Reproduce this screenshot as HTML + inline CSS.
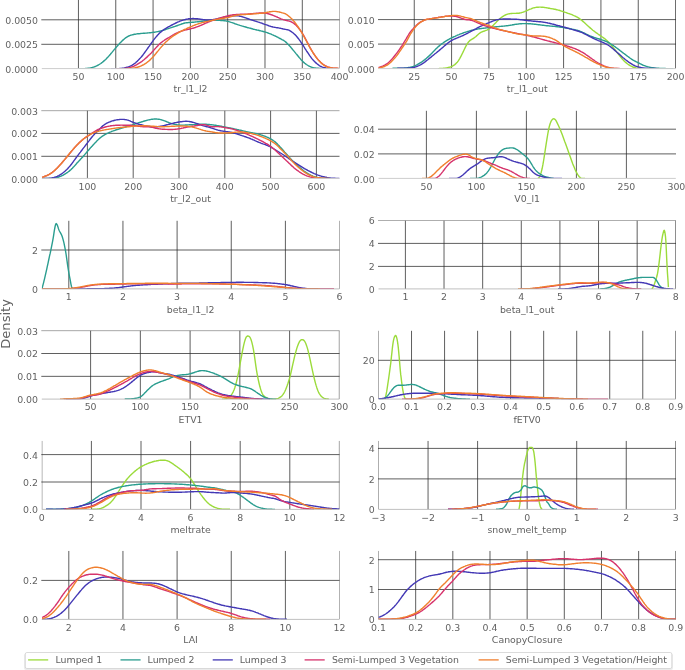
<!DOCTYPE html>
<html><head><meta charset="utf-8"><title>Density</title>
<style>html,body{margin:0;padding:0;background:#fff}svg{display:block}</style></head>
<body>
<svg width="685" height="670" viewBox="0 0 685 670" font-family='"DejaVu Sans","Liberation Sans",sans-serif'>
<rect width="685" height="670" fill="#fff"/>
<clipPath id="c0"><rect x="41.80" y="0.00" width="297.70" height="68.80"/></clipPath>
<clipPath id="h0"><rect x="41.30" y="0.00" width="298.20" height="68.80"/></clipPath>
<g clip-path="url(#c0)">
<line x1="78.45" y1="0.00" x2="78.45" y2="68.60" stroke="#2a2a2a" stroke-width="0.75"/>
<line x1="115.76" y1="0.00" x2="115.76" y2="68.60" stroke="#2a2a2a" stroke-width="0.75"/>
<line x1="153.07" y1="0.00" x2="153.07" y2="68.60" stroke="#2a2a2a" stroke-width="0.75"/>
<line x1="190.38" y1="0.00" x2="190.38" y2="68.60" stroke="#2a2a2a" stroke-width="0.75"/>
<line x1="227.68" y1="0.00" x2="227.68" y2="68.60" stroke="#2a2a2a" stroke-width="0.75"/>
<line x1="264.99" y1="0.00" x2="264.99" y2="68.60" stroke="#2a2a2a" stroke-width="0.75"/>
<line x1="302.30" y1="0.00" x2="302.30" y2="68.60" stroke="#2a2a2a" stroke-width="0.75"/>
<line x1="339.61" y1="0.00" x2="339.61" y2="68.60" stroke="#2a2a2a" stroke-width="0.75"/>
</g>
<g clip-path="url(#h0)">
<line x1="40.80" y1="19.80" x2="340.30" y2="19.80" stroke="#2a2a2a" stroke-width="0.75"/>
<line x1="40.80" y1="44.30" x2="340.30" y2="44.30" stroke="#2a2a2a" stroke-width="0.75"/>
</g>
<g clip-path="url(#c0)" fill="none" stroke-width="1.4" stroke-linejoin="round" stroke-linecap="butt">
<path d="M78.4,68.6 L79.2,68.6 L80.0,68.6 L80.8,68.6 L81.6,68.6 L82.4,68.6 L83.2,68.6 L84.0,68.6 L84.8,68.6 L85.6,68.5 L86.4,68.5 L87.2,68.4 L88.0,68.3 L88.8,68.2 L89.6,68.1 L90.4,67.9 L91.2,67.8 L92.0,67.6 L92.8,67.3 L93.6,67.1 L94.4,66.8 L95.2,66.5 L96.0,66.2 L96.8,65.8 L97.6,65.4 L98.4,65.0 L99.2,64.5 L100.0,64.0 L100.8,63.5 L101.6,62.9 L102.4,62.3 L103.2,61.6 L104.0,60.9 L104.8,60.2 L105.6,59.5 L106.4,58.7 L107.2,57.8 L108.0,57.0 L108.8,56.1 L109.6,55.2 L110.4,54.3 L111.2,53.3 L112.0,52.4 L112.8,51.4 L113.6,50.4 L114.4,49.4 L115.2,48.5 L116.0,47.5 L116.8,46.6 L117.6,45.7 L118.4,44.8 L119.2,43.9 L120.0,43.0 L120.8,42.2 L121.6,41.4 L122.4,40.6 L123.2,39.9 L124.0,39.2 L124.8,38.5 L125.6,37.9 L126.4,37.4 L127.2,36.9 L128.0,36.4 L128.8,36.0 L129.6,35.6 L130.4,35.3 L131.2,35.1 L132.0,34.9 L132.8,34.7 L133.6,34.5 L134.4,34.3 L135.2,34.2 L136.0,34.1 L136.8,33.9 L137.6,33.8 L138.4,33.7 L139.2,33.7 L140.0,33.6 L140.8,33.5 L141.6,33.4 L142.4,33.4 L143.2,33.3 L144.0,33.2 L144.8,33.2 L145.6,33.1 L146.4,33.1 L147.2,33.0 L148.0,32.9 L148.8,32.9 L149.6,32.8 L150.4,32.7 L151.2,32.6 L152.0,32.5 L152.8,32.4 L153.6,32.3 L154.4,32.2 L155.2,32.1 L156.0,31.9 L156.8,31.8 L157.6,31.6 L158.4,31.5 L159.2,31.3 L160.0,31.1 L160.8,30.9 L161.6,30.7 L162.4,30.5 L163.2,30.2 L164.0,30.0 L164.8,29.7 L165.6,29.5 L166.4,29.2 L167.2,28.9 L168.0,28.7 L168.8,28.4 L169.6,28.1 L170.4,27.9 L171.2,27.6 L172.0,27.3 L172.8,27.1 L173.6,26.8 L174.4,26.6 L175.2,26.3 L176.0,26.0 L176.8,25.8 L177.6,25.5 L178.4,25.2 L179.2,24.9 L180.0,24.6 L180.8,24.3 L181.6,24.0 L182.4,23.7 L183.2,23.5 L184.0,23.2 L184.8,23.0 L185.6,22.9 L186.4,22.8 L187.2,22.7 L188.0,22.6 L188.8,22.5 L189.6,22.5 L190.4,22.4 L191.2,22.4 L192.0,22.3 L192.8,22.3 L193.6,22.2 L194.4,22.1 L195.2,22.0 L196.0,21.9 L196.8,21.9 L197.6,21.8 L198.4,21.7 L199.2,21.6 L200.0,21.5 L200.8,21.4 L201.6,21.3 L202.4,21.2 L203.2,21.1 L204.0,21.0 L204.8,21.0 L205.6,20.9 L206.4,20.8 L207.2,20.7 L208.0,20.7 L208.8,20.6 L209.6,20.6 L210.4,20.5 L211.2,20.5 L212.0,20.4 L212.8,20.4 L213.6,20.4 L214.4,20.4 L215.2,20.4 L216.0,20.4 L216.8,20.4 L217.6,20.4 L218.4,20.4 L219.2,20.4 L220.0,20.4 L220.8,20.5 L221.6,20.5 L222.4,20.6 L223.2,20.6 L224.0,20.7 L224.8,20.8 L225.6,20.9 L226.4,21.1 L227.2,21.2 L228.0,21.4 L228.8,21.6 L229.6,21.9 L230.4,22.1 L231.2,22.4 L232.0,22.6 L232.8,22.9 L233.6,23.2 L234.4,23.5 L235.2,23.8 L236.0,24.1 L236.8,24.3 L237.6,24.6 L238.4,24.9 L239.2,25.1 L240.0,25.4 L240.8,25.6 L241.6,25.9 L242.4,26.1 L243.2,26.3 L244.0,26.6 L244.8,26.8 L245.6,27.0 L246.4,27.2 L247.2,27.5 L248.0,27.7 L248.8,27.9 L249.6,28.1 L250.4,28.3 L251.2,28.5 L252.0,28.7 L252.8,29.0 L253.6,29.2 L254.4,29.4 L255.2,29.6 L256.0,29.8 L256.8,30.0 L257.6,30.1 L258.4,30.3 L259.2,30.5 L260.0,30.7 L260.8,30.9 L261.6,31.1 L262.4,31.3 L263.2,31.5 L264.0,31.7 L264.8,31.9 L265.6,32.2 L266.4,32.4 L267.2,32.7 L268.0,33.0 L268.8,33.3 L269.6,33.6 L270.4,33.9 L271.2,34.2 L272.0,34.6 L272.8,34.9 L273.6,35.3 L274.4,35.7 L275.2,36.0 L276.0,36.4 L276.8,36.8 L277.6,37.2 L278.4,37.7 L279.2,38.1 L280.0,38.5 L280.8,38.9 L281.6,39.3 L282.4,39.8 L283.2,40.2 L284.0,40.7 L284.8,41.3 L285.6,41.9 L286.4,42.6 L287.2,43.4 L288.0,44.2 L288.8,45.1 L289.6,45.9 L290.4,46.8 L291.2,47.8 L292.0,48.7 L292.8,49.7 L293.6,50.6 L294.4,51.6 L295.2,52.6 L296.0,53.6 L296.8,54.5 L297.6,55.5 L298.4,56.5 L299.2,57.5 L300.0,58.4 L300.8,59.4 L301.6,60.2 L302.4,61.1 L303.2,61.9 L304.0,62.6 L304.8,63.3 L305.6,63.9 L306.4,64.5 L307.2,65.0 L308.0,65.5 L308.8,66.0 L309.6,66.4 L310.4,66.7 L311.2,67.1 L312.0,67.3 L312.8,67.6 L313.6,67.8 L314.4,67.9 L315.2,68.0 L316.0,68.1 L316.8,68.2 L317.6,68.3 L318.4,68.3 L319.2,68.4 L320.0,68.4 L320.8,68.4" stroke="#2a9d8f"/>
<path d="M111.0,68.6 L111.8,68.6 L112.6,68.6 L113.4,68.6 L114.2,68.6 L115.0,68.6 L115.8,68.6 L116.6,68.6 L117.4,68.6 L118.2,68.6 L119.0,68.6 L119.8,68.5 L120.6,68.5 L121.4,68.4 L122.2,68.3 L123.0,68.2 L123.8,68.1 L124.6,67.9 L125.4,67.7 L126.2,67.5 L127.0,67.3 L127.8,67.1 L128.6,66.8 L129.4,66.5 L130.2,66.2 L131.0,65.8 L131.8,65.4 L132.6,64.9 L133.4,64.4 L134.2,63.8 L135.0,63.2 L135.8,62.6 L136.6,61.8 L137.4,61.1 L138.2,60.3 L139.0,59.4 L139.8,58.6 L140.7,57.6 L141.5,56.7 L142.3,55.7 L143.1,54.7 L143.9,53.6 L144.7,52.5 L145.5,51.4 L146.3,50.3 L147.1,49.2 L147.9,48.0 L148.7,46.9 L149.5,45.8 L150.3,44.6 L151.1,43.5 L151.9,42.4 L152.7,41.3 L153.5,40.2 L154.3,39.1 L155.1,38.1 L155.9,37.1 L156.7,36.2 L157.5,35.3 L158.3,34.4 L159.1,33.6 L159.9,32.8 L160.7,32.1 L161.5,31.4 L162.3,30.8 L163.1,30.2 L163.9,29.6 L164.7,29.0 L165.5,28.5 L166.3,28.1 L167.1,27.6 L167.9,27.1 L168.7,26.7 L169.5,26.3 L170.3,25.8 L171.1,25.4 L171.9,25.0 L172.7,24.6 L173.5,24.2 L174.3,23.8 L175.1,23.4 L175.9,23.0 L176.7,22.6 L177.5,22.2 L178.3,21.9 L179.1,21.6 L179.9,21.2 L180.7,20.9 L181.5,20.6 L182.3,20.4 L183.1,20.1 L183.9,19.9 L184.7,19.7 L185.5,19.5 L186.3,19.3 L187.1,19.1 L187.9,19.0 L188.7,18.8 L189.5,18.7 L190.3,18.7 L191.1,18.6 L191.9,18.6 L192.7,18.5 L193.5,18.5 L194.3,18.6 L195.1,18.6 L195.9,18.7 L196.7,18.7 L197.5,18.8 L198.4,18.9 L199.2,19.0 L200.0,19.1 L200.8,19.2 L201.6,19.4 L202.4,19.5 L203.2,19.6 L204.0,19.7 L204.8,19.8 L205.6,19.9 L206.4,19.9 L207.2,20.0 L208.0,20.0 L208.8,20.0 L209.6,20.0 L210.4,19.9 L211.2,19.9 L212.0,19.8 L212.8,19.7 L213.6,19.5 L214.4,19.4 L215.2,19.2 L216.0,19.1 L216.8,18.9 L217.6,18.7 L218.4,18.5 L219.2,18.4 L220.0,18.2 L220.8,18.0 L221.6,17.8 L222.4,17.7 L223.2,17.5 L224.0,17.3 L224.8,17.2 L225.6,17.0 L226.4,16.9 L227.2,16.8 L228.0,16.6 L228.8,16.5 L229.6,16.4 L230.4,16.3 L231.2,16.2 L232.0,16.1 L232.8,16.0 L233.6,15.9 L234.4,15.9 L235.2,15.8 L236.0,15.8 L236.8,15.8 L237.6,15.9 L238.4,15.9 L239.2,16.0 L240.0,16.2 L240.8,16.4 L241.6,16.6 L242.4,16.8 L243.2,17.1 L244.0,17.3 L244.8,17.6 L245.6,17.9 L246.4,18.2 L247.2,18.5 L248.0,18.8 L248.8,19.0 L249.6,19.3 L250.4,19.6 L251.2,19.8 L252.0,20.1 L252.8,20.3 L253.6,20.6 L254.4,20.8 L255.2,21.1 L256.1,21.3 L256.9,21.6 L257.7,21.9 L258.5,22.1 L259.3,22.4 L260.1,22.7 L260.9,22.9 L261.7,23.2 L262.5,23.5 L263.3,23.8 L264.1,24.1 L264.9,24.4 L265.7,24.6 L266.5,24.9 L267.3,25.2 L268.1,25.5 L268.9,25.8 L269.7,26.1 L270.5,26.3 L271.3,26.6 L272.1,26.8 L272.9,27.0 L273.7,27.1 L274.5,27.3 L275.3,27.4 L276.1,27.6 L276.9,27.7 L277.7,27.8 L278.5,27.9 L279.3,28.1 L280.1,28.2 L280.9,28.4 L281.7,28.6 L282.5,28.8 L283.3,29.0 L284.1,29.1 L284.9,29.3 L285.7,29.4 L286.5,29.6 L287.3,29.7 L288.1,29.9 L288.9,30.2 L289.7,30.6 L290.5,31.1 L291.3,31.6 L292.1,32.2 L292.9,32.8 L293.7,33.5 L294.5,34.2 L295.3,34.9 L296.1,35.8 L296.9,36.7 L297.7,37.7 L298.5,38.7 L299.3,39.8 L300.1,40.9 L300.9,42.1 L301.7,43.3 L302.5,44.5 L303.3,45.7 L304.1,47.0 L304.9,48.3 L305.7,49.5 L306.5,50.8 L307.3,52.0 L308.1,53.2 L308.9,54.4 L309.7,55.6 L310.5,56.7 L311.3,57.8 L312.1,58.9 L312.9,59.8 L313.8,60.7 L314.6,61.6 L315.4,62.4 L316.2,63.1 L317.0,63.8 L317.8,64.4 L318.6,65.0 L319.4,65.6 L320.2,66.1 L321.0,66.5 L321.8,66.9 L322.6,67.2 L323.4,67.5 L324.2,67.7 L325.0,67.8 L325.8,68.0 L326.6,68.1 L327.4,68.2 L328.2,68.3 L329.0,68.3 L329.8,68.4" stroke="#4338b5"/>
<path d="M116.0,68.6 L116.8,68.6 L117.6,68.6 L118.4,68.6 L119.2,68.6 L120.0,68.6 L120.8,68.6 L121.6,68.6 L122.4,68.6 L123.2,68.6 L124.0,68.6 L124.8,68.5 L125.6,68.4 L126.4,68.3 L127.2,68.2 L128.0,68.1 L128.8,67.9 L129.6,67.7 L130.4,67.5 L131.2,67.2 L132.0,66.9 L132.8,66.6 L133.6,66.3 L134.4,65.9 L135.2,65.5 L136.0,65.1 L136.8,64.7 L137.6,64.2 L138.4,63.7 L139.2,63.2 L140.0,62.7 L140.8,62.1 L141.6,61.6 L142.4,61.0 L143.2,60.3 L144.0,59.7 L144.8,59.0 L145.6,58.3 L146.4,57.6 L147.2,56.9 L148.0,56.1 L148.8,55.3 L149.7,54.5 L150.5,53.7 L151.3,52.9 L152.1,52.0 L152.9,51.2 L153.7,50.3 L154.5,49.4 L155.3,48.5 L156.1,47.6 L156.9,46.7 L157.7,45.9 L158.5,45.1 L159.3,44.3 L160.1,43.5 L160.9,42.8 L161.7,42.2 L162.5,41.6 L163.3,41.0 L164.1,40.5 L164.9,39.9 L165.7,39.4 L166.5,38.9 L167.3,38.4 L168.1,38.0 L168.9,37.5 L169.7,37.0 L170.5,36.5 L171.3,36.0 L172.1,35.5 L172.9,35.0 L173.7,34.6 L174.5,34.1 L175.3,33.7 L176.1,33.3 L176.9,32.9 L177.7,32.6 L178.5,32.2 L179.3,31.9 L180.1,31.6 L180.9,31.3 L181.7,31.0 L182.5,30.8 L183.3,30.5 L184.1,30.3 L184.9,30.1 L185.7,29.9 L186.5,29.7 L187.3,29.5 L188.1,29.3 L188.9,29.2 L189.7,29.0 L190.5,28.8 L191.3,28.6 L192.1,28.4 L192.9,28.2 L193.7,28.0 L194.5,27.7 L195.3,27.5 L196.1,27.2 L196.9,26.9 L197.7,26.6 L198.5,26.3 L199.3,26.0 L200.1,25.7 L200.9,25.3 L201.7,25.0 L202.5,24.6 L203.3,24.3 L204.1,23.9 L204.9,23.5 L205.7,23.2 L206.5,22.8 L207.3,22.5 L208.1,22.1 L208.9,21.8 L209.7,21.5 L210.5,21.2 L211.3,20.9 L212.1,20.6 L212.9,20.3 L213.7,20.0 L214.5,19.8 L215.3,19.5 L216.1,19.3 L217.0,19.0 L217.8,18.8 L218.6,18.5 L219.4,18.3 L220.2,18.0 L221.0,17.8 L221.8,17.5 L222.6,17.3 L223.4,17.0 L224.2,16.8 L225.0,16.6 L225.8,16.3 L226.6,16.1 L227.4,15.9 L228.2,15.7 L229.0,15.5 L229.8,15.4 L230.6,15.2 L231.4,15.1 L232.2,14.9 L233.0,14.8 L233.8,14.7 L234.6,14.6 L235.4,14.6 L236.2,14.5 L237.0,14.5 L237.8,14.4 L238.6,14.4 L239.4,14.4 L240.2,14.3 L241.0,14.3 L241.8,14.3 L242.6,14.3 L243.4,14.3 L244.2,14.2 L245.0,14.2 L245.8,14.2 L246.6,14.1 L247.4,14.1 L248.2,14.0 L249.0,14.0 L249.8,13.9 L250.6,13.8 L251.4,13.7 L252.2,13.7 L253.0,13.6 L253.8,13.5 L254.6,13.4 L255.4,13.4 L256.2,13.3 L257.0,13.2 L257.8,13.1 L258.6,13.1 L259.4,13.0 L260.2,13.0 L261.0,13.0 L261.8,13.0 L262.6,13.0 L263.4,13.0 L264.2,13.1 L265.0,13.2 L265.8,13.3 L266.6,13.4 L267.4,13.6 L268.2,13.8 L269.0,14.0 L269.8,14.2 L270.6,14.5 L271.4,14.8 L272.2,15.0 L273.0,15.3 L273.8,15.7 L274.6,16.0 L275.4,16.3 L276.2,16.7 L277.0,17.0 L277.8,17.4 L278.6,17.7 L279.4,18.1 L280.2,18.4 L281.0,18.8 L281.8,19.1 L282.6,19.4 L283.5,19.7 L284.3,19.9 L285.1,20.2 L285.9,20.4 L286.7,20.6 L287.5,20.7 L288.3,20.9 L289.1,21.1 L289.9,21.4 L290.7,21.7 L291.5,22.0 L292.3,22.4 L293.1,22.9 L293.9,23.4 L294.7,24.1 L295.5,24.8 L296.3,25.6 L297.1,26.4 L297.9,27.3 L298.7,28.3 L299.5,29.3 L300.3,30.3 L301.1,31.4 L301.9,32.6 L302.7,33.9 L303.5,35.2 L304.3,36.6 L305.1,38.1 L305.9,39.6 L306.7,41.1 L307.5,42.7 L308.3,44.2 L309.1,45.8 L309.9,47.3 L310.7,48.7 L311.5,50.1 L312.3,51.5 L313.1,52.8 L313.9,54.0 L314.7,55.2 L315.5,56.3 L316.3,57.4 L317.1,58.4 L317.9,59.4 L318.7,60.3 L319.5,61.1 L320.3,61.9 L321.1,62.7 L321.9,63.4 L322.7,64.0 L323.5,64.6 L324.3,65.1 L325.1,65.6 L325.9,66.0 L326.7,66.4 L327.5,66.8 L328.3,67.1 L329.1,67.3 L329.9,67.5 L330.7,67.7 L331.5,67.9 L332.3,68.0 L333.1,68.1 L333.9,68.1 L334.7,68.2 L335.5,68.3 L336.3,68.3 L337.1,68.3 L337.9,68.4 L338.7,68.4" stroke="#d6336c"/>
<path d="M122.0,68.6 L122.8,68.6 L123.6,68.6 L124.4,68.6 L125.2,68.6 L126.0,68.6 L126.8,68.6 L127.6,68.6 L128.4,68.6 L129.2,68.5 L130.0,68.5 L130.8,68.4 L131.6,68.3 L132.4,68.2 L133.2,68.1 L134.0,68.0 L134.8,67.9 L135.6,67.7 L136.4,67.5 L137.3,67.3 L138.1,67.0 L138.9,66.8 L139.7,66.5 L140.5,66.2 L141.3,65.8 L142.1,65.4 L142.9,65.0 L143.7,64.6 L144.5,64.1 L145.3,63.6 L146.1,63.1 L146.9,62.5 L147.7,61.9 L148.5,61.3 L149.3,60.6 L150.1,59.9 L150.9,59.1 L151.7,58.3 L152.5,57.5 L153.3,56.6 L154.1,55.7 L154.9,54.7 L155.7,53.8 L156.5,52.8 L157.3,51.8 L158.1,50.9 L158.9,49.9 L159.7,48.9 L160.5,47.9 L161.3,47.0 L162.1,46.1 L162.9,45.2 L163.7,44.3 L164.5,43.4 L165.3,42.6 L166.1,41.8 L167.0,41.1 L167.8,40.3 L168.6,39.6 L169.4,38.9 L170.2,38.3 L171.0,37.6 L171.8,37.0 L172.6,36.4 L173.4,35.9 L174.2,35.3 L175.0,34.8 L175.8,34.3 L176.6,33.8 L177.4,33.3 L178.2,32.9 L179.0,32.4 L179.8,32.0 L180.6,31.5 L181.4,31.1 L182.2,30.7 L183.0,30.3 L183.8,29.9 L184.6,29.5 L185.4,29.1 L186.2,28.8 L187.0,28.4 L187.8,28.0 L188.6,27.7 L189.4,27.3 L190.2,27.0 L191.0,26.6 L191.8,26.3 L192.6,25.9 L193.4,25.6 L194.2,25.3 L195.0,25.0 L195.8,24.7 L196.7,24.4 L197.5,24.1 L198.3,23.8 L199.1,23.6 L199.9,23.3 L200.7,23.1 L201.5,22.8 L202.3,22.6 L203.1,22.4 L203.9,22.2 L204.7,22.0 L205.5,21.8 L206.3,21.6 L207.1,21.4 L207.9,21.3 L208.7,21.1 L209.5,20.9 L210.3,20.7 L211.1,20.6 L211.9,20.4 L212.7,20.2 L213.5,20.1 L214.3,19.9 L215.1,19.7 L215.9,19.6 L216.7,19.4 L217.5,19.3 L218.3,19.1 L219.1,19.0 L219.9,18.8 L220.7,18.7 L221.5,18.6 L222.3,18.5 L223.1,18.3 L223.9,18.2 L224.7,18.0 L225.6,17.9 L226.4,17.7 L227.2,17.6 L228.0,17.4 L228.8,17.2 L229.6,17.0 L230.4,16.8 L231.2,16.6 L232.0,16.3 L232.8,16.1 L233.6,15.9 L234.4,15.7 L235.2,15.6 L236.0,15.4 L236.8,15.2 L237.6,15.1 L238.4,15.0 L239.2,14.9 L240.0,14.8 L240.8,14.7 L241.6,14.7 L242.4,14.6 L243.2,14.6 L244.0,14.6 L244.8,14.5 L245.6,14.5 L246.4,14.4 L247.2,14.4 L248.0,14.3 L248.8,14.3 L249.6,14.2 L250.4,14.2 L251.2,14.1 L252.0,14.0 L252.8,13.9 L253.6,13.9 L254.4,13.8 L255.3,13.7 L256.1,13.7 L256.9,13.6 L257.7,13.6 L258.5,13.5 L259.3,13.4 L260.1,13.4 L260.9,13.3 L261.7,13.2 L262.5,13.2 L263.3,13.1 L264.1,13.0 L264.9,12.8 L265.7,12.7 L266.5,12.5 L267.3,12.3 L268.1,12.1 L268.9,12.0 L269.7,11.8 L270.5,11.7 L271.3,11.6 L272.1,11.5 L272.9,11.4 L273.7,11.4 L274.5,11.4 L275.3,11.4 L276.1,11.5 L276.9,11.6 L277.7,11.7 L278.5,11.9 L279.3,12.0 L280.1,12.2 L280.9,12.4 L281.7,12.7 L282.5,12.9 L283.3,13.1 L284.1,13.3 L285.0,13.6 L285.8,14.0 L286.6,14.5 L287.4,15.1 L288.2,15.7 L289.0,16.4 L289.8,17.0 L290.6,17.8 L291.4,18.5 L292.2,19.3 L293.0,20.2 L293.8,21.1 L294.6,22.0 L295.4,23.1 L296.2,24.2 L297.0,25.3 L297.8,26.5 L298.6,27.7 L299.4,28.9 L300.2,30.1 L301.0,31.4 L301.8,32.7 L302.6,34.0 L303.4,35.5 L304.2,37.0 L305.0,38.5 L305.8,40.0 L306.6,41.5 L307.4,43.0 L308.2,44.5 L309.0,46.0 L309.8,47.4 L310.6,48.8 L311.4,50.1 L312.2,51.4 L313.0,52.7 L313.8,54.0 L314.7,55.2 L315.5,56.4 L316.3,57.5 L317.1,58.6 L317.9,59.6 L318.7,60.5 L319.5,61.3 L320.3,62.1 L321.1,62.9 L321.9,63.6 L322.7,64.3 L323.5,64.9 L324.3,65.5 L325.1,65.9 L325.9,66.4 L326.7,66.7 L327.5,67.0 L328.3,67.3 L329.1,67.5 L329.9,67.6 L330.7,67.8 L331.5,67.9 L332.3,68.0 L333.1,68.1 L333.9,68.1 L334.7,68.2 L335.5,68.3 L336.3,68.3 L337.1,68.3 L337.9,68.4 L338.7,68.4" stroke="#f07f2e"/>
</g>
<line x1="41.80" y1="68.60" x2="339.30" y2="68.60" stroke="#cdcdcd" stroke-width="1.0"/>
<text x="78.45" y="79.70" font-size="9.40" fill="#626262" text-anchor="middle">50</text>
<text x="115.76" y="79.70" font-size="9.40" fill="#626262" text-anchor="middle">100</text>
<text x="153.07" y="79.70" font-size="9.40" fill="#626262" text-anchor="middle">150</text>
<text x="190.38" y="79.70" font-size="9.40" fill="#626262" text-anchor="middle">200</text>
<text x="227.68" y="79.70" font-size="9.40" fill="#626262" text-anchor="middle">250</text>
<text x="264.99" y="79.70" font-size="9.40" fill="#626262" text-anchor="middle">300</text>
<text x="302.30" y="79.70" font-size="9.40" fill="#626262" text-anchor="middle">350</text>
<text x="339.61" y="79.70" font-size="9.40" fill="#626262" text-anchor="middle">400</text>
<text x="38.00" y="23.70" font-size="9.40" fill="#626262" text-anchor="end">0.0050</text>
<text x="38.00" y="48.20" font-size="9.40" fill="#626262" text-anchor="end">0.0025</text>
<text x="38.00" y="72.50" font-size="9.40" fill="#626262" text-anchor="end">0.0000</text>
<text x="190.55" y="92.40" font-size="9.40" fill="#626262" text-anchor="middle">tr_l1_l2</text>
<clipPath id="c1"><rect x="378.50" y="0.00" width="297.50" height="68.80"/></clipPath>
<clipPath id="h1"><rect x="378.00" y="0.00" width="298.00" height="68.80"/></clipPath>
<g clip-path="url(#c1)">
<line x1="414.25" y1="0.00" x2="414.25" y2="68.60" stroke="#2a2a2a" stroke-width="0.75"/>
<line x1="451.59" y1="0.00" x2="451.59" y2="68.60" stroke="#2a2a2a" stroke-width="0.75"/>
<line x1="488.92" y1="0.00" x2="488.92" y2="68.60" stroke="#2a2a2a" stroke-width="0.75"/>
<line x1="526.26" y1="0.00" x2="526.26" y2="68.60" stroke="#2a2a2a" stroke-width="0.75"/>
<line x1="563.59" y1="0.00" x2="563.59" y2="68.60" stroke="#2a2a2a" stroke-width="0.75"/>
<line x1="600.93" y1="0.00" x2="600.93" y2="68.60" stroke="#2a2a2a" stroke-width="0.75"/>
<line x1="638.26" y1="0.00" x2="638.26" y2="68.60" stroke="#2a2a2a" stroke-width="0.75"/>
<line x1="675.60" y1="0.00" x2="675.60" y2="68.60" stroke="#2a2a2a" stroke-width="0.75"/>
</g>
<g clip-path="url(#h1)">
<line x1="377.50" y1="19.60" x2="676.80" y2="19.60" stroke="#2a2a2a" stroke-width="0.75"/>
<line x1="377.50" y1="44.10" x2="676.80" y2="44.10" stroke="#2a2a2a" stroke-width="0.75"/>
</g>
<g clip-path="url(#c1)" fill="none" stroke-width="1.4" stroke-linejoin="round" stroke-linecap="butt">
<path d="M438.0,68.6 L438.8,68.6 L439.6,68.5 L440.4,68.5 L441.2,68.5 L442.0,68.4 L442.8,68.4 L443.6,68.3 L444.4,68.2 L445.2,68.1 L446.0,68.0 L446.8,67.9 L447.6,67.7 L448.4,67.5 L449.2,67.3 L450.0,67.1 L450.8,66.8 L451.6,66.5 L452.4,66.1 L453.2,65.7 L454.0,65.2 L454.8,64.6 L455.6,63.9 L456.4,63.1 L457.3,62.2 L458.1,61.1 L458.9,59.9 L459.7,58.6 L460.5,57.2 L461.3,55.6 L462.1,54.0 L462.9,52.4 L463.7,50.7 L464.5,49.0 L465.3,47.4 L466.1,45.8 L466.9,44.3 L467.7,43.1 L468.5,42.0 L469.3,41.1 L470.1,40.4 L470.9,39.9 L471.7,39.4 L472.5,38.9 L473.3,38.5 L474.1,37.9 L474.9,37.3 L475.7,36.7 L476.5,35.9 L477.3,35.2 L478.1,34.5 L478.9,33.8 L479.7,33.2 L480.5,32.7 L481.3,32.2 L482.1,31.8 L482.9,31.5 L483.7,31.2 L484.5,31.0 L485.3,30.7 L486.1,30.4 L486.9,30.1 L487.7,29.7 L488.5,29.3 L489.3,28.8 L490.1,28.2 L490.9,27.5 L491.7,26.8 L492.5,26.0 L493.3,25.2 L494.2,24.3 L495.0,23.5 L495.8,22.7 L496.6,21.8 L497.4,21.0 L498.2,20.2 L499.0,19.5 L499.8,18.8 L500.6,18.1 L501.4,17.5 L502.2,16.9 L503.0,16.3 L503.8,15.8 L504.6,15.4 L505.4,15.0 L506.2,14.6 L507.0,14.3 L507.8,14.1 L508.6,13.9 L509.4,13.7 L510.2,13.6 L511.0,13.5 L511.8,13.5 L512.6,13.4 L513.4,13.4 L514.2,13.4 L515.0,13.4 L515.8,13.4 L516.6,13.3 L517.4,13.3 L518.2,13.2 L519.0,13.2 L519.8,13.0 L520.6,12.9 L521.4,12.7 L522.2,12.4 L523.0,12.2 L523.8,11.9 L524.6,11.6 L525.4,11.2 L526.2,10.9 L527.0,10.5 L527.8,10.2 L528.6,9.8 L529.4,9.4 L530.2,9.1 L531.1,8.8 L531.9,8.5 L532.7,8.2 L533.5,7.9 L534.3,7.7 L535.1,7.6 L535.9,7.4 L536.7,7.3 L537.5,7.2 L538.3,7.2 L539.1,7.1 L539.9,7.1 L540.7,7.1 L541.5,7.2 L542.3,7.2 L543.1,7.3 L543.9,7.4 L544.7,7.5 L545.5,7.6 L546.3,7.7 L547.1,7.9 L547.9,8.0 L548.7,8.2 L549.5,8.3 L550.3,8.5 L551.1,8.6 L551.9,8.7 L552.7,8.9 L553.5,9.0 L554.3,9.2 L555.1,9.3 L555.9,9.5 L556.7,9.7 L557.5,9.9 L558.3,10.1 L559.1,10.3 L559.9,10.5 L560.7,10.8 L561.5,11.1 L562.3,11.3 L563.1,11.6 L563.9,11.9 L564.7,12.2 L565.5,12.4 L566.3,12.7 L567.1,13.0 L568.0,13.3 L568.8,13.6 L569.6,13.8 L570.4,14.1 L571.2,14.4 L572.0,14.7 L572.8,15.1 L573.6,15.4 L574.4,15.8 L575.2,16.1 L576.0,16.5 L576.8,17.0 L577.6,17.4 L578.4,17.9 L579.2,18.4 L580.0,19.0 L580.8,19.6 L581.6,20.2 L582.4,20.9 L583.2,21.6 L584.0,22.3 L584.8,23.0 L585.6,23.8 L586.4,24.5 L587.2,25.3 L588.0,26.0 L588.8,26.7 L589.6,27.4 L590.4,28.1 L591.2,28.8 L592.0,29.5 L592.8,30.2 L593.6,30.8 L594.4,31.4 L595.2,32.0 L596.0,32.6 L596.8,33.2 L597.6,33.7 L598.4,34.3 L599.2,34.8 L600.0,35.4 L600.8,35.9 L601.6,36.5 L602.4,37.0 L603.2,37.6 L604.0,38.2 L604.9,38.8 L605.7,39.5 L606.5,40.2 L607.3,40.9 L608.1,41.7 L608.9,42.5 L609.7,43.3 L610.5,44.2 L611.3,45.2 L612.1,46.2 L612.9,47.2 L613.7,48.2 L614.5,49.3 L615.3,50.3 L616.1,51.3 L616.9,52.4 L617.7,53.4 L618.5,54.3 L619.3,55.3 L620.1,56.3 L620.9,57.3 L621.7,58.2 L622.5,59.2 L623.3,60.1 L624.1,60.9 L624.9,61.7 L625.7,62.4 L626.5,63.1 L627.3,63.7 L628.1,64.3 L628.9,64.8 L629.7,65.3 L630.5,65.8 L631.3,66.2 L632.1,66.6 L632.9,67.0 L633.7,67.3 L634.5,67.5 L635.3,67.8 L636.1,68.0 L636.9,68.1 L637.7,68.3 L638.5,68.4 L639.3,68.4 L640.1,68.5 L640.9,68.6" stroke="#9bdb3b"/>
<path d="M392.5,68.3 L393.3,68.3 L394.1,68.3 L394.9,68.3 L395.7,68.3 L396.5,68.3 L397.3,68.3 L398.1,68.3 L398.9,68.3 L399.7,68.3 L400.5,68.3 L401.3,68.2 L402.1,68.2 L402.9,68.1 L403.7,68.1 L404.5,68.0 L405.3,67.9 L406.1,67.9 L406.9,67.8 L407.7,67.6 L408.5,67.5 L409.3,67.4 L410.1,67.3 L410.9,67.1 L411.7,66.9 L412.5,66.7 L413.3,66.5 L414.1,66.2 L414.9,65.9 L415.7,65.5 L416.5,65.0 L417.3,64.6 L418.1,64.1 L418.9,63.6 L419.7,63.2 L420.5,62.6 L421.4,62.1 L422.2,61.6 L423.0,61.0 L423.8,60.4 L424.6,59.8 L425.4,59.1 L426.2,58.5 L427.0,57.8 L427.8,57.1 L428.6,56.4 L429.4,55.6 L430.2,54.9 L431.0,54.1 L431.8,53.2 L432.6,52.4 L433.4,51.6 L434.2,50.8 L435.0,49.9 L435.8,49.1 L436.6,48.3 L437.4,47.6 L438.2,46.8 L439.0,46.1 L439.8,45.4 L440.6,44.8 L441.4,44.1 L442.2,43.5 L443.0,43.0 L443.8,42.4 L444.6,41.9 L445.4,41.4 L446.2,40.9 L447.0,40.4 L447.8,39.9 L448.6,39.5 L449.4,39.0 L450.2,38.6 L451.0,38.2 L451.8,37.8 L452.6,37.4 L453.4,37.0 L454.2,36.6 L455.0,36.3 L455.8,35.9 L456.6,35.6 L457.4,35.2 L458.2,34.9 L459.1,34.6 L459.9,34.2 L460.7,33.9 L461.5,33.6 L462.3,33.3 L463.1,33.0 L463.9,32.7 L464.7,32.4 L465.5,32.2 L466.3,31.9 L467.1,31.7 L467.9,31.4 L468.7,31.2 L469.5,30.9 L470.3,30.7 L471.1,30.5 L471.9,30.3 L472.7,30.1 L473.5,29.9 L474.3,29.7 L475.1,29.6 L475.9,29.4 L476.7,29.2 L477.5,29.1 L478.3,28.9 L479.1,28.8 L479.9,28.7 L480.7,28.6 L481.5,28.5 L482.3,28.4 L483.1,28.3 L483.9,28.2 L484.7,28.1 L485.5,28.0 L486.3,27.9 L487.1,27.8 L487.9,27.7 L488.7,27.6 L489.5,27.5 L490.3,27.4 L491.1,27.4 L491.9,27.3 L492.7,27.2 L493.5,27.1 L494.3,27.0 L495.1,26.9 L495.9,26.8 L496.7,26.7 L497.6,26.6 L498.4,26.6 L499.2,26.5 L500.0,26.4 L500.8,26.4 L501.6,26.3 L502.4,26.2 L503.2,26.1 L504.0,26.1 L504.8,26.0 L505.6,25.9 L506.4,25.8 L507.2,25.7 L508.0,25.6 L508.8,25.5 L509.6,25.4 L510.4,25.2 L511.2,25.1 L512.0,25.0 L512.8,24.8 L513.6,24.7 L514.4,24.5 L515.2,24.4 L516.0,24.3 L516.8,24.2 L517.6,24.1 L518.4,24.0 L519.2,23.9 L520.0,23.8 L520.8,23.7 L521.6,23.7 L522.4,23.6 L523.2,23.6 L524.0,23.6 L524.8,23.6 L525.6,23.6 L526.4,23.6 L527.2,23.6 L528.0,23.7 L528.8,23.7 L529.6,23.8 L530.4,23.8 L531.2,23.9 L532.0,24.0 L532.8,24.0 L533.6,24.1 L534.4,24.2 L535.3,24.3 L536.1,24.4 L536.9,24.5 L537.7,24.6 L538.5,24.7 L539.3,24.8 L540.1,24.9 L540.9,25.0 L541.7,25.1 L542.5,25.2 L543.3,25.3 L544.1,25.4 L544.9,25.5 L545.7,25.6 L546.5,25.7 L547.3,25.7 L548.1,25.8 L548.9,25.9 L549.7,26.0 L550.5,26.1 L551.3,26.1 L552.1,26.2 L552.9,26.3 L553.7,26.4 L554.5,26.4 L555.3,26.5 L556.1,26.6 L556.9,26.7 L557.7,26.8 L558.5,26.9 L559.3,27.0 L560.1,27.1 L560.9,27.2 L561.7,27.3 L562.5,27.4 L563.3,27.6 L564.1,27.7 L564.9,27.8 L565.7,28.0 L566.5,28.1 L567.3,28.2 L568.1,28.4 L568.9,28.5 L569.7,28.7 L570.5,28.9 L571.3,29.0 L572.1,29.2 L572.9,29.4 L573.8,29.5 L574.6,29.7 L575.4,29.9 L576.2,30.1 L577.0,30.3 L577.8,30.5 L578.6,30.8 L579.4,31.0 L580.2,31.3 L581.0,31.6 L581.8,31.9 L582.6,32.3 L583.4,32.6 L584.2,33.0 L585.0,33.5 L585.8,33.9 L586.6,34.3 L587.4,34.7 L588.2,35.1 L589.0,35.5 L589.8,35.8 L590.6,36.1 L591.4,36.4 L592.2,36.7 L593.0,37.0 L593.8,37.3 L594.6,37.6 L595.4,37.8 L596.2,38.1 L597.0,38.3 L597.8,38.6 L598.6,38.8 L599.4,39.0 L600.2,39.3 L601.0,39.5 L601.8,39.8 L602.6,40.1 L603.4,40.4 L604.2,40.7 L605.0,41.0 L605.8,41.3 L606.6,41.7 L607.4,42.0 L608.2,42.4 L609.0,42.9 L609.8,43.3 L610.6,43.8 L611.4,44.3 L612.3,44.8 L613.1,45.4 L613.9,46.0 L614.7,46.5 L615.5,47.1 L616.3,47.7 L617.1,48.3 L617.9,48.9 L618.7,49.5 L619.5,50.1 L620.3,50.8 L621.1,51.4 L621.9,52.0 L622.7,52.6 L623.5,53.2 L624.3,53.8 L625.1,54.4 L625.9,55.0 L626.7,55.6 L627.5,56.2 L628.3,56.8 L629.1,57.4 L629.9,58.0 L630.7,58.5 L631.5,59.1 L632.3,59.6 L633.1,60.1 L633.9,60.5 L634.7,61.0 L635.5,61.4 L636.3,61.8 L637.1,62.2 L637.9,62.6 L638.7,63.0 L639.5,63.4 L640.3,63.8 L641.1,64.2 L641.9,64.6 L642.7,65.0 L643.5,65.3 L644.3,65.6 L645.1,65.9 L645.9,66.2 L646.7,66.4 L647.5,66.7 L648.3,66.9 L649.1,67.1 L650.0,67.3 L650.8,67.4 L651.6,67.6 L652.4,67.7 L653.2,67.8 L654.0,67.9 L654.8,68.0 L655.6,68.1 L656.4,68.2 L657.2,68.2 L658.0,68.3 L658.8,68.3 L659.6,68.4 L660.4,68.4 L661.2,68.4 L662.0,68.5 L662.8,68.5 L663.6,68.5 L664.4,68.5 L665.2,68.5 L666.0,68.6 L666.8,68.6 L667.6,68.6 L668.4,68.6 L669.2,68.6 L670.0,68.6 L670.8,68.6 L671.6,68.6 L672.4,68.6 L673.2,68.6" stroke="#2a9d8f"/>
<path d="M397.3,68.3 L398.1,68.2 L398.9,68.2 L399.7,68.2 L400.5,68.2 L401.3,68.2 L402.1,68.2 L402.9,68.2 L403.7,68.2 L404.5,68.1 L405.3,68.1 L406.1,68.1 L406.9,68.1 L407.7,68.1 L408.5,68.0 L409.3,68.0 L410.1,68.0 L410.9,67.9 L411.7,67.8 L412.5,67.7 L413.3,67.6 L414.1,67.4 L414.9,67.2 L415.7,66.9 L416.5,66.6 L417.3,66.3 L418.1,65.9 L418.9,65.6 L419.7,65.2 L420.5,64.8 L421.3,64.3 L422.1,63.8 L422.9,63.3 L423.7,62.8 L424.6,62.2 L425.4,61.6 L426.2,60.9 L427.0,60.3 L427.8,59.7 L428.6,59.0 L429.4,58.4 L430.2,57.7 L431.0,57.1 L431.8,56.4 L432.6,55.8 L433.4,55.1 L434.2,54.5 L435.0,53.8 L435.8,53.2 L436.6,52.5 L437.4,51.9 L438.2,51.2 L439.0,50.6 L439.8,49.9 L440.6,49.2 L441.4,48.5 L442.2,47.9 L443.0,47.2 L443.8,46.5 L444.6,45.8 L445.4,45.1 L446.2,44.4 L447.0,43.8 L447.8,43.1 L448.6,42.5 L449.4,41.9 L450.2,41.4 L451.0,40.9 L451.8,40.4 L452.6,40.0 L453.4,39.5 L454.2,39.2 L455.0,38.8 L455.8,38.5 L456.6,38.2 L457.4,37.9 L458.2,37.5 L459.0,37.2 L459.8,36.9 L460.6,36.5 L461.4,36.2 L462.2,35.8 L463.0,35.5 L463.8,35.1 L464.6,34.7 L465.4,34.3 L466.2,33.9 L467.0,33.5 L467.8,33.1 L468.6,32.7 L469.4,32.2 L470.2,31.8 L471.0,31.4 L471.8,30.9 L472.6,30.5 L473.4,30.1 L474.2,29.6 L475.0,29.2 L475.8,28.8 L476.6,28.3 L477.4,27.9 L478.2,27.5 L479.0,27.1 L479.8,26.7 L480.6,26.3 L481.4,25.9 L482.2,25.6 L483.0,25.2 L483.8,24.8 L484.6,24.5 L485.4,24.1 L486.2,23.8 L487.0,23.4 L487.8,23.1 L488.6,22.8 L489.4,22.4 L490.2,22.1 L491.0,21.8 L491.8,21.5 L492.6,21.2 L493.4,20.9 L494.2,20.6 L495.0,20.4 L495.8,20.1 L496.6,19.9 L497.4,19.7 L498.2,19.6 L499.0,19.4 L499.8,19.3 L500.6,19.2 L501.4,19.1 L502.2,19.1 L503.0,19.0 L503.8,19.0 L504.6,19.0 L505.4,19.0 L506.2,19.0 L507.0,19.0 L507.8,19.0 L508.6,19.0 L509.4,19.0 L510.2,19.0 L511.0,19.1 L511.8,19.1 L512.6,19.1 L513.4,19.1 L514.2,19.2 L515.0,19.2 L515.8,19.2 L516.6,19.3 L517.4,19.4 L518.2,19.4 L519.0,19.5 L519.8,19.6 L520.6,19.7 L521.4,19.8 L522.2,19.9 L523.0,20.0 L523.8,20.1 L524.6,20.2 L525.4,20.3 L526.2,20.4 L527.0,20.5 L527.8,20.6 L528.6,20.7 L529.4,20.8 L530.2,20.8 L531.0,20.9 L531.8,21.0 L532.6,21.1 L533.4,21.2 L534.2,21.2 L535.0,21.3 L535.8,21.4 L536.6,21.5 L537.4,21.5 L538.2,21.6 L539.0,21.7 L539.8,21.8 L540.6,21.8 L541.4,21.9 L542.2,22.0 L543.0,22.1 L543.8,22.2 L544.6,22.4 L545.4,22.5 L546.2,22.6 L547.0,22.8 L547.8,23.0 L548.6,23.1 L549.4,23.3 L550.2,23.5 L551.0,23.7 L551.8,23.9 L552.6,24.1 L553.4,24.3 L554.2,24.5 L555.0,24.7 L555.8,25.0 L556.6,25.2 L557.4,25.4 L558.2,25.6 L559.0,25.8 L559.8,26.0 L560.6,26.2 L561.5,26.4 L562.3,26.6 L563.1,26.9 L563.9,27.1 L564.7,27.3 L565.5,27.5 L566.3,27.7 L567.1,28.0 L567.9,28.2 L568.7,28.4 L569.5,28.7 L570.3,28.9 L571.1,29.1 L571.9,29.4 L572.7,29.6 L573.5,29.8 L574.3,30.1 L575.1,30.3 L575.9,30.5 L576.7,30.8 L577.5,31.0 L578.3,31.2 L579.1,31.5 L579.9,31.8 L580.7,32.1 L581.5,32.4 L582.3,32.7 L583.1,33.1 L583.9,33.5 L584.7,33.8 L585.5,34.3 L586.3,34.7 L587.1,35.1 L587.9,35.5 L588.7,36.0 L589.5,36.4 L590.3,36.8 L591.1,37.2 L591.9,37.6 L592.7,38.0 L593.5,38.4 L594.3,38.8 L595.1,39.2 L595.9,39.5 L596.7,39.9 L597.5,40.2 L598.3,40.6 L599.1,40.9 L599.9,41.2 L600.7,41.5 L601.5,41.8 L602.3,42.2 L603.1,42.5 L603.9,42.9 L604.7,43.3 L605.5,43.7 L606.3,44.1 L607.1,44.5 L607.9,45.0 L608.7,45.5 L609.5,46.0 L610.3,46.6 L611.1,47.2 L611.9,47.9 L612.7,48.5 L613.5,49.2 L614.3,49.9 L615.1,50.6 L615.9,51.3 L616.7,52.0 L617.5,52.7 L618.3,53.4 L619.1,54.1 L619.9,54.8 L620.7,55.5 L621.5,56.2 L622.3,57.0 L623.1,57.7 L623.9,58.3 L624.7,59.0 L625.5,59.7 L626.3,60.3 L627.1,60.9 L627.9,61.5 L628.7,62.1 L629.5,62.7 L630.3,63.2 L631.1,63.7 L631.9,64.2 L632.7,64.7 L633.5,65.1 L634.3,65.5 L635.1,65.9 L635.9,66.2 L636.7,66.4 L637.5,66.7 L638.3,66.9 L639.1,67.1 L639.9,67.3 L640.7,67.5 L641.5,67.6 L642.3,67.8 L643.1,67.9 L643.9,68.0 L644.7,68.1 L645.5,68.2 L646.3,68.2 L647.1,68.3 L647.9,68.4 L648.7,68.4 L649.5,68.4 L650.3,68.5 L651.1,68.5 L651.9,68.5 L652.7,68.5 L653.5,68.5 L654.3,68.5 L655.1,68.5 L655.9,68.5 L656.7,68.6 L657.5,68.6 L658.3,68.6" stroke="#4338b5"/>
<path d="M377.9,67.8 L378.7,67.5 L379.5,67.2 L380.3,67.0 L381.1,66.7 L381.9,66.4 L382.7,66.1 L383.5,65.7 L384.3,65.3 L385.1,64.9 L385.9,64.4 L386.7,63.9 L387.5,63.3 L388.3,62.7 L389.1,62.0 L389.9,61.2 L390.7,60.4 L391.5,59.6 L392.3,58.7 L393.1,57.8 L393.9,56.8 L394.7,55.8 L395.5,54.8 L396.3,53.7 L397.1,52.7 L397.9,51.6 L398.7,50.5 L399.5,49.4 L400.3,48.2 L401.1,47.0 L401.9,45.8 L402.7,44.5 L403.5,43.2 L404.3,41.8 L405.2,40.4 L406.0,39.1 L406.8,37.7 L407.6,36.3 L408.4,35.0 L409.2,33.7 L410.0,32.5 L410.8,31.4 L411.6,30.4 L412.4,29.5 L413.2,28.7 L414.0,27.8 L414.8,27.0 L415.6,26.2 L416.4,25.3 L417.2,24.6 L418.0,23.9 L418.8,23.2 L419.6,22.7 L420.4,22.2 L421.2,21.7 L422.0,21.3 L422.8,20.8 L423.6,20.5 L424.4,20.1 L425.2,19.8 L426.0,19.6 L426.8,19.4 L427.6,19.2 L428.4,19.1 L429.2,19.0 L430.0,18.8 L430.8,18.7 L431.6,18.6 L432.4,18.4 L433.2,18.3 L434.0,18.2 L434.8,18.0 L435.6,17.9 L436.4,17.7 L437.2,17.6 L438.0,17.5 L438.8,17.3 L439.6,17.2 L440.4,17.1 L441.2,16.9 L442.0,16.8 L442.8,16.7 L443.6,16.6 L444.4,16.5 L445.2,16.3 L446.0,16.3 L446.8,16.2 L447.6,16.1 L448.4,16.1 L449.2,16.0 L450.0,16.0 L450.8,16.0 L451.6,16.0 L452.4,16.0 L453.2,16.1 L454.0,16.2 L454.8,16.3 L455.6,16.4 L456.4,16.6 L457.2,16.8 L458.0,17.0 L458.8,17.3 L459.6,17.5 L460.4,17.8 L461.2,18.2 L462.0,18.5 L462.8,18.7 L463.6,19.0 L464.4,19.3 L465.2,19.5 L466.0,19.6 L466.8,19.7 L467.6,19.8 L468.4,19.8 L469.2,19.9 L470.0,20.0 L470.8,20.2 L471.6,20.4 L472.4,20.6 L473.2,20.9 L474.0,21.2 L474.8,21.6 L475.7,21.9 L476.5,22.3 L477.3,22.7 L478.1,23.0 L478.9,23.4 L479.7,23.7 L480.5,24.0 L481.3,24.4 L482.1,24.7 L482.9,25.0 L483.7,25.3 L484.5,25.5 L485.3,25.8 L486.1,26.1 L486.9,26.3 L487.7,26.6 L488.5,26.8 L489.3,27.1 L490.1,27.3 L490.9,27.5 L491.7,27.8 L492.5,28.0 L493.3,28.2 L494.1,28.4 L494.9,28.6 L495.7,28.8 L496.5,29.0 L497.3,29.2 L498.1,29.4 L498.9,29.6 L499.7,29.8 L500.5,30.0 L501.3,30.2 L502.1,30.3 L502.9,30.5 L503.7,30.7 L504.5,30.9 L505.3,31.0 L506.1,31.2 L506.9,31.4 L507.7,31.5 L508.5,31.7 L509.3,31.9 L510.1,32.0 L510.9,32.2 L511.7,32.4 L512.5,32.5 L513.3,32.7 L514.1,32.8 L514.9,33.0 L515.7,33.2 L516.5,33.3 L517.3,33.5 L518.1,33.6 L518.9,33.8 L519.7,33.9 L520.5,34.1 L521.3,34.2 L522.1,34.4 L522.9,34.5 L523.7,34.7 L524.5,34.8 L525.3,35.0 L526.1,35.1 L526.9,35.3 L527.7,35.5 L528.5,35.7 L529.3,35.9 L530.1,36.1 L530.9,36.3 L531.7,36.5 L532.5,36.7 L533.3,36.9 L534.1,37.1 L534.9,37.3 L535.7,37.5 L536.5,37.7 L537.3,38.0 L538.1,38.2 L538.9,38.4 L539.7,38.6 L540.5,38.9 L541.3,39.1 L542.1,39.3 L542.9,39.6 L543.7,39.8 L544.5,40.0 L545.3,40.2 L546.2,40.4 L547.0,40.7 L547.8,40.9 L548.6,41.1 L549.4,41.3 L550.2,41.5 L551.0,41.7 L551.8,41.9 L552.6,42.1 L553.4,42.3 L554.2,42.5 L555.0,42.7 L555.8,42.9 L556.6,43.1 L557.4,43.3 L558.2,43.6 L559.0,43.8 L559.8,44.0 L560.6,44.2 L561.4,44.4 L562.2,44.6 L563.0,44.8 L563.8,45.0 L564.6,45.3 L565.4,45.5 L566.2,45.7 L567.0,46.0 L567.8,46.2 L568.6,46.5 L569.4,46.7 L570.2,47.0 L571.0,47.2 L571.8,47.5 L572.6,47.8 L573.4,48.1 L574.2,48.4 L575.0,48.7 L575.8,49.0 L576.6,49.4 L577.4,49.7 L578.2,50.1 L579.0,50.5 L579.8,50.9 L580.6,51.3 L581.4,51.8 L582.2,52.2 L583.0,52.7 L583.8,53.2 L584.6,53.7 L585.4,54.2 L586.2,54.8 L587.0,55.3 L587.8,55.9 L588.6,56.4 L589.4,57.0 L590.2,57.6 L591.0,58.1 L591.8,58.7 L592.6,59.3 L593.4,59.8 L594.2,60.4 L595.0,61.0 L595.8,61.5 L596.6,62.0 L597.4,62.5 L598.2,63.0 L599.0,63.5 L599.8,63.9 L600.6,64.3 L601.4,64.7 L602.2,65.1 L603.0,65.5 L603.8,65.9 L604.6,66.2 L605.4,66.5 L606.2,66.8 L607.0,67.1 L607.8,67.3 L608.6,67.5 L609.4,67.7 L610.2,67.9 L611.0,68.0 L611.8,68.1 L612.6,68.2 L613.4,68.3 L614.2,68.4 L615.0,68.4 L615.8,68.5 L616.6,68.5 L617.5,68.5 L618.3,68.5 L619.1,68.5 L619.9,68.6" stroke="#d6336c"/>
<path d="M377.9,68.3 L378.7,68.1 L379.5,67.9 L380.3,67.7 L381.1,67.5 L381.9,67.3 L382.7,67.0 L383.5,66.8 L384.3,66.5 L385.1,66.1 L385.9,65.7 L386.7,65.3 L387.5,64.8 L388.3,64.3 L389.1,63.6 L389.9,63.0 L390.8,62.2 L391.6,61.4 L392.4,60.6 L393.2,59.8 L394.0,58.9 L394.8,58.0 L395.6,57.1 L396.4,56.1 L397.2,55.1 L398.0,54.0 L398.8,52.9 L399.6,51.7 L400.4,50.6 L401.2,49.4 L402.0,48.2 L402.8,47.0 L403.6,45.8 L404.4,44.6 L405.2,43.4 L406.0,42.2 L406.8,40.8 L407.6,39.3 L408.4,37.8 L409.2,36.3 L410.0,34.9 L410.8,33.5 L411.6,32.3 L412.4,31.1 L413.2,29.9 L414.0,28.8 L414.8,27.8 L415.6,26.8 L416.4,25.9 L417.2,25.0 L418.0,24.3 L418.8,23.6 L419.6,23.0 L420.4,22.4 L421.2,21.9 L422.0,21.4 L422.8,20.9 L423.6,20.5 L424.4,20.1 L425.3,19.8 L426.1,19.5 L426.9,19.3 L427.7,19.2 L428.5,19.1 L429.3,18.9 L430.1,18.8 L430.9,18.7 L431.7,18.6 L432.5,18.5 L433.3,18.4 L434.1,18.3 L434.9,18.1 L435.7,18.0 L436.5,17.9 L437.3,17.8 L438.1,17.6 L438.9,17.5 L439.7,17.4 L440.5,17.3 L441.3,17.1 L442.1,17.0 L442.9,16.8 L443.7,16.7 L444.5,16.6 L445.3,16.4 L446.1,16.3 L446.9,16.2 L447.7,16.1 L448.5,16.0 L449.3,15.8 L450.1,15.7 L450.9,15.6 L451.7,15.6 L452.5,15.5 L453.3,15.4 L454.1,15.4 L454.9,15.4 L455.7,15.4 L456.5,15.4 L457.3,15.5 L458.1,15.6 L459.0,15.8 L459.8,15.9 L460.6,16.1 L461.4,16.4 L462.2,16.6 L463.0,16.8 L463.8,17.0 L464.6,17.3 L465.4,17.5 L466.2,17.6 L467.0,17.8 L467.8,17.9 L468.6,18.1 L469.4,18.3 L470.2,18.4 L471.0,18.7 L471.8,19.0 L472.6,19.3 L473.4,19.6 L474.2,19.9 L475.0,20.3 L475.8,20.6 L476.6,21.0 L477.4,21.3 L478.2,21.7 L479.0,22.0 L479.8,22.3 L480.6,22.6 L481.4,22.9 L482.2,23.2 L483.0,23.5 L483.8,23.8 L484.6,24.1 L485.4,24.3 L486.2,24.6 L487.0,24.9 L487.8,25.2 L488.6,25.5 L489.4,25.8 L490.2,26.1 L491.0,26.4 L491.8,26.7 L492.7,27.0 L493.5,27.3 L494.3,27.6 L495.1,28.0 L495.9,28.3 L496.7,28.5 L497.5,28.8 L498.3,29.1 L499.1,29.3 L499.9,29.6 L500.7,29.8 L501.5,30.0 L502.3,30.2 L503.1,30.4 L503.9,30.6 L504.7,30.8 L505.5,31.0 L506.3,31.2 L507.1,31.4 L507.9,31.6 L508.7,31.8 L509.5,32.0 L510.3,32.2 L511.1,32.4 L511.9,32.6 L512.7,32.8 L513.5,33.0 L514.3,33.2 L515.1,33.4 L515.9,33.6 L516.7,33.8 L517.5,33.9 L518.3,34.1 L519.1,34.2 L519.9,34.3 L520.7,34.4 L521.5,34.5 L522.3,34.5 L523.1,34.6 L523.9,34.7 L524.7,34.8 L525.5,34.9 L526.4,35.0 L527.2,35.1 L528.0,35.2 L528.8,35.4 L529.6,35.5 L530.4,35.6 L531.2,35.7 L532.0,35.8 L532.8,35.9 L533.6,36.0 L534.4,36.0 L535.2,36.0 L536.0,36.0 L536.8,36.0 L537.6,36.0 L538.4,36.0 L539.2,36.0 L540.0,36.0 L540.8,36.0 L541.6,36.1 L542.4,36.1 L543.2,36.2 L544.0,36.3 L544.8,36.4 L545.6,36.5 L546.4,36.7 L547.2,36.9 L548.0,37.1 L548.8,37.3 L549.6,37.5 L550.4,37.8 L551.2,38.1 L552.0,38.4 L552.8,38.8 L553.6,39.1 L554.4,39.5 L555.2,39.9 L556.0,40.4 L556.8,40.9 L557.6,41.4 L558.4,41.9 L559.2,42.5 L560.0,43.1 L560.9,43.6 L561.7,44.2 L562.5,44.8 L563.3,45.4 L564.1,45.9 L564.9,46.4 L565.7,46.9 L566.5,47.3 L567.3,47.7 L568.1,48.1 L568.9,48.5 L569.7,48.9 L570.5,49.3 L571.3,49.7 L572.1,50.0 L572.9,50.4 L573.7,50.8 L574.5,51.2 L575.3,51.6 L576.1,52.0 L576.9,52.4 L577.7,52.8 L578.5,53.2 L579.3,53.6 L580.1,54.1 L580.9,54.5 L581.7,55.0 L582.5,55.4 L583.3,55.9 L584.1,56.3 L584.9,56.8 L585.7,57.3 L586.5,57.7 L587.3,58.2 L588.1,58.7 L588.9,59.1 L589.7,59.6 L590.5,60.1 L591.3,60.5 L592.1,61.0 L592.9,61.4 L593.7,61.8 L594.6,62.3 L595.4,62.7 L596.2,63.1 L597.0,63.5 L597.8,63.9 L598.6,64.2 L599.4,64.6 L600.2,64.9 L601.0,65.3 L601.8,65.6 L602.6,65.9 L603.4,66.2 L604.2,66.5 L605.0,66.7 L605.8,67.0 L606.6,67.2 L607.4,67.4 L608.2,67.6 L609.0,67.8 L609.8,67.9 L610.6,68.0 L611.4,68.1 L612.2,68.2 L613.0,68.3 L613.8,68.4 L614.6,68.4 L615.4,68.5 L616.2,68.5 L617.0,68.5 L617.8,68.6 L618.6,68.6 L619.4,68.6 L620.2,68.6 L621.0,68.6 L621.8,68.6 L622.6,68.6 L623.4,68.6 L624.2,68.6 L625.0,68.6 L625.8,68.6 L626.6,68.6 L627.4,68.6 L628.3,68.6 L629.1,68.6 L629.9,68.6 L630.7,68.6 L631.5,68.6 L632.3,68.6" stroke="#f07f2e"/>
</g>
<line x1="378.50" y1="68.60" x2="675.80" y2="68.60" stroke="#cdcdcd" stroke-width="1.0"/>
<text x="414.25" y="79.70" font-size="9.40" fill="#626262" text-anchor="middle">25</text>
<text x="451.59" y="79.70" font-size="9.40" fill="#626262" text-anchor="middle">50</text>
<text x="488.92" y="79.70" font-size="9.40" fill="#626262" text-anchor="middle">75</text>
<text x="526.26" y="79.70" font-size="9.40" fill="#626262" text-anchor="middle">100</text>
<text x="563.59" y="79.70" font-size="9.40" fill="#626262" text-anchor="middle">125</text>
<text x="600.93" y="79.70" font-size="9.40" fill="#626262" text-anchor="middle">150</text>
<text x="638.26" y="79.70" font-size="9.40" fill="#626262" text-anchor="middle">175</text>
<text x="675.60" y="79.70" font-size="9.40" fill="#626262" text-anchor="middle">200</text>
<text x="374.70" y="23.50" font-size="9.40" fill="#626262" text-anchor="end">0.010</text>
<text x="374.70" y="48.00" font-size="9.40" fill="#626262" text-anchor="end">0.005</text>
<text x="374.70" y="72.50" font-size="9.40" fill="#626262" text-anchor="end">0.000</text>
<text x="527.15" y="92.40" font-size="9.40" fill="#626262" text-anchor="middle">tr_l1_out</text>
<clipPath id="c2"><rect x="41.80" y="110.60" width="297.70" height="68.00"/></clipPath>
<clipPath id="h2"><rect x="41.30" y="110.60" width="298.20" height="68.00"/></clipPath>
<g clip-path="url(#c2)">
<line x1="87.40" y1="110.60" x2="87.40" y2="178.40" stroke="#2a2a2a" stroke-width="0.75"/>
<line x1="133.20" y1="110.60" x2="133.20" y2="178.40" stroke="#2a2a2a" stroke-width="0.75"/>
<line x1="179.00" y1="110.60" x2="179.00" y2="178.40" stroke="#2a2a2a" stroke-width="0.75"/>
<line x1="224.80" y1="110.60" x2="224.80" y2="178.40" stroke="#2a2a2a" stroke-width="0.75"/>
<line x1="270.60" y1="110.60" x2="270.60" y2="178.40" stroke="#2a2a2a" stroke-width="0.75"/>
<line x1="316.40" y1="110.60" x2="316.40" y2="178.40" stroke="#2a2a2a" stroke-width="0.75"/>
</g>
<g clip-path="url(#h2)">
<line x1="40.80" y1="110.60" x2="340.30" y2="110.60" stroke="#2a2a2a" stroke-width="0.75"/>
<line x1="40.80" y1="133.40" x2="340.30" y2="133.40" stroke="#2a2a2a" stroke-width="0.75"/>
<line x1="40.80" y1="156.30" x2="340.30" y2="156.30" stroke="#2a2a2a" stroke-width="0.75"/>
</g>
<g clip-path="url(#c2)" fill="none" stroke-width="1.4" stroke-linejoin="round" stroke-linecap="butt">
<path d="M42.0,178.4 L42.8,178.4 L43.6,178.4 L44.4,178.4 L45.2,178.4 L46.0,178.4 L46.8,178.4 L47.6,178.4 L48.4,178.4 L49.2,178.4 L50.0,178.4 L50.8,178.4 L51.6,178.4 L52.4,178.4 L53.2,178.3 L54.0,178.2 L54.8,178.0 L55.6,177.9 L56.4,177.7 L57.2,177.5 L58.0,177.3 L58.8,177.0 L59.6,176.7 L60.4,176.4 L61.2,176.1 L62.0,175.7 L62.8,175.3 L63.6,174.8 L64.4,174.4 L65.2,173.9 L66.0,173.4 L66.8,172.8 L67.6,172.3 L68.4,171.7 L69.2,171.1 L70.0,170.4 L70.8,169.7 L71.6,168.9 L72.4,168.2 L73.2,167.3 L74.0,166.5 L74.8,165.6 L75.6,164.7 L76.4,163.8 L77.2,162.8 L78.1,161.9 L78.9,161.1 L79.7,160.2 L80.5,159.3 L81.3,158.4 L82.1,157.6 L82.9,156.7 L83.7,155.8 L84.5,154.9 L85.3,153.9 L86.1,153.0 L86.9,152.0 L87.7,151.1 L88.5,150.2 L89.3,149.2 L90.1,148.3 L90.9,147.4 L91.7,146.6 L92.5,145.7 L93.3,144.8 L94.1,143.9 L94.9,143.1 L95.7,142.2 L96.5,141.4 L97.3,140.5 L98.1,139.8 L98.9,139.0 L99.7,138.3 L100.5,137.6 L101.3,137.0 L102.1,136.4 L102.9,135.8 L103.7,135.3 L104.5,134.8 L105.3,134.4 L106.1,134.0 L106.9,133.5 L107.7,133.2 L108.5,132.8 L109.3,132.4 L110.1,132.1 L110.9,131.8 L111.7,131.4 L112.5,131.1 L113.3,130.9 L114.1,130.6 L114.9,130.3 L115.7,130.0 L116.5,129.7 L117.3,129.5 L118.1,129.2 L118.9,129.0 L119.7,128.7 L120.5,128.5 L121.3,128.2 L122.1,128.0 L122.9,127.7 L123.7,127.5 L124.5,127.3 L125.3,127.0 L126.1,126.8 L126.9,126.5 L127.7,126.3 L128.5,126.1 L129.3,125.8 L130.1,125.6 L130.9,125.3 L131.7,125.1 L132.5,124.8 L133.3,124.5 L134.1,124.3 L134.9,124.0 L135.7,123.7 L136.5,123.5 L137.3,123.2 L138.1,123.0 L138.9,122.7 L139.7,122.4 L140.5,122.2 L141.3,122.0 L142.1,121.7 L142.9,121.5 L143.7,121.2 L144.5,121.0 L145.3,120.8 L146.1,120.6 L146.9,120.3 L147.7,120.1 L148.5,119.9 L149.3,119.8 L150.2,119.6 L151.0,119.4 L151.8,119.3 L152.6,119.2 L153.4,119.1 L154.2,119.0 L155.0,119.0 L155.8,119.0 L156.6,119.0 L157.4,119.1 L158.2,119.2 L159.0,119.3 L159.8,119.4 L160.6,119.6 L161.4,119.8 L162.2,120.1 L163.0,120.3 L163.8,120.6 L164.6,120.9 L165.4,121.2 L166.2,121.5 L167.0,121.8 L167.8,122.1 L168.6,122.5 L169.4,122.8 L170.2,123.1 L171.0,123.3 L171.8,123.6 L172.6,123.8 L173.4,124.1 L174.2,124.3 L175.0,124.4 L175.8,124.6 L176.6,124.7 L177.4,124.9 L178.2,125.0 L179.0,125.0 L179.8,125.1 L180.6,125.1 L181.4,125.1 L182.2,125.1 L183.0,125.1 L183.8,125.1 L184.6,125.1 L185.4,125.0 L186.2,125.0 L187.0,125.0 L187.8,124.9 L188.6,124.9 L189.4,124.8 L190.2,124.8 L191.0,124.8 L191.8,124.7 L192.6,124.7 L193.4,124.6 L194.2,124.6 L195.0,124.5 L195.8,124.5 L196.6,124.4 L197.4,124.4 L198.2,124.3 L199.0,124.3 L199.8,124.3 L200.6,124.2 L201.4,124.2 L202.2,124.2 L203.0,124.2 L203.8,124.2 L204.6,124.2 L205.4,124.3 L206.2,124.3 L207.0,124.4 L207.8,124.4 L208.6,124.5 L209.4,124.5 L210.2,124.6 L211.0,124.7 L211.8,124.8 L212.6,124.9 L213.4,125.0 L214.2,125.1 L215.0,125.2 L215.8,125.3 L216.6,125.5 L217.4,125.6 L218.2,125.7 L219.0,125.9 L219.8,126.0 L220.6,126.2 L221.4,126.3 L222.3,126.5 L223.1,126.6 L223.9,126.8 L224.7,126.9 L225.5,127.1 L226.3,127.3 L227.1,127.4 L227.9,127.6 L228.7,127.7 L229.5,127.9 L230.3,128.0 L231.1,128.2 L231.9,128.4 L232.7,128.5 L233.5,128.7 L234.3,128.9 L235.1,129.1 L235.9,129.2 L236.7,129.4 L237.5,129.6 L238.3,129.8 L239.1,130.0 L239.9,130.1 L240.7,130.3 L241.5,130.5 L242.3,130.7 L243.1,130.9 L243.9,131.1 L244.7,131.2 L245.5,131.4 L246.3,131.6 L247.1,131.8 L247.9,131.9 L248.7,132.1 L249.5,132.3 L250.3,132.4 L251.1,132.6 L251.9,132.7 L252.7,132.9 L253.5,133.1 L254.3,133.2 L255.1,133.4 L255.9,133.5 L256.7,133.7 L257.5,133.9 L258.3,134.1 L259.1,134.3 L259.9,134.5 L260.7,134.8 L261.5,135.1 L262.3,135.3 L263.1,135.6 L263.9,135.9 L264.7,136.2 L265.5,136.5 L266.3,136.8 L267.1,137.2 L267.9,137.5 L268.7,137.9 L269.5,138.3 L270.3,138.7 L271.1,139.1 L271.9,139.6 L272.7,140.1 L273.5,140.7 L274.3,141.3 L275.1,141.9 L275.9,142.6 L276.7,143.4 L277.5,144.1 L278.3,145.0 L279.1,145.8 L279.9,146.7 L280.7,147.5 L281.5,148.4 L282.3,149.3 L283.1,150.2 L283.9,151.1 L284.7,152.1 L285.5,153.0 L286.3,153.9 L287.1,154.8 L287.9,155.7 L288.7,156.6 L289.5,157.5 L290.3,158.4 L291.1,159.2 L291.9,160.1 L292.7,161.0 L293.6,161.8 L294.4,162.6 L295.2,163.4 L296.0,164.2 L296.8,164.9 L297.6,165.6 L298.4,166.3 L299.2,167.0 L300.0,167.7 L300.8,168.4 L301.6,169.1 L302.4,169.7 L303.2,170.4 L304.0,171.0 L304.8,171.5 L305.6,172.1 L306.4,172.6 L307.2,173.2 L308.0,173.7 L308.8,174.1 L309.6,174.6 L310.4,175.0 L311.2,175.4 L312.0,175.7 L312.8,176.1 L313.6,176.4 L314.4,176.7 L315.2,176.9 L316.0,177.2 L316.8,177.4 L317.6,177.5 L318.4,177.7 L319.2,177.8 L320.0,177.9 L320.8,178.0 L321.6,178.1 L322.4,178.2 L323.2,178.2 L324.0,178.3 L324.8,178.3 L325.6,178.3 L326.4,178.4 L327.2,178.4 L328.0,178.4 L328.8,178.4 L329.6,178.4 L330.4,178.4" stroke="#2a9d8f"/>
<path d="M42.0,178.4 L42.8,178.4 L43.6,178.4 L44.4,178.4 L45.2,178.4 L46.0,178.4 L46.8,178.4 L47.6,178.4 L48.4,178.4 L49.2,178.3 L50.0,178.2 L50.8,178.1 L51.6,178.0 L52.4,177.8 L53.2,177.7 L54.0,177.5 L54.8,177.2 L55.6,177.0 L56.4,176.7 L57.2,176.4 L58.0,176.0 L58.8,175.6 L59.6,175.1 L60.4,174.6 L61.2,174.1 L62.0,173.6 L62.8,173.0 L63.6,172.3 L64.4,171.7 L65.2,171.0 L66.0,170.2 L66.8,169.5 L67.6,168.7 L68.4,167.8 L69.2,166.9 L70.0,166.0 L70.8,165.0 L71.6,164.0 L72.4,162.9 L73.2,161.8 L74.0,160.7 L74.8,159.6 L75.6,158.5 L76.4,157.4 L77.2,156.3 L78.0,155.3 L78.8,154.2 L79.6,153.1 L80.4,152.1 L81.2,151.0 L82.0,150.0 L82.8,148.9 L83.6,147.9 L84.4,146.9 L85.2,145.8 L86.0,144.8 L86.8,143.8 L87.6,142.7 L88.4,141.6 L89.2,140.6 L90.0,139.5 L90.8,138.5 L91.6,137.5 L92.4,136.5 L93.2,135.6 L94.0,134.7 L94.8,133.8 L95.6,133.0 L96.4,132.2 L97.2,131.4 L98.0,130.6 L98.8,129.8 L99.6,129.0 L100.4,128.2 L101.2,127.4 L102.0,126.6 L102.8,125.9 L103.6,125.3 L104.4,124.7 L105.2,124.1 L106.0,123.7 L106.8,123.2 L107.6,122.8 L108.4,122.4 L109.2,122.1 L110.0,121.8 L110.8,121.5 L111.6,121.2 L112.4,120.9 L113.2,120.7 L114.0,120.5 L114.8,120.3 L115.6,120.1 L116.4,119.9 L117.2,119.8 L118.0,119.7 L118.8,119.6 L119.6,119.5 L120.4,119.4 L121.2,119.4 L122.0,119.4 L122.8,119.4 L123.6,119.4 L124.4,119.5 L125.2,119.6 L126.0,119.7 L126.8,119.9 L127.6,120.1 L128.4,120.3 L129.2,120.6 L130.0,120.9 L130.8,121.3 L131.6,121.6 L132.4,122.0 L133.2,122.3 L134.0,122.6 L134.8,122.9 L135.6,123.2 L136.4,123.5 L137.2,123.7 L138.0,124.0 L138.8,124.2 L139.6,124.4 L140.4,124.6 L141.2,124.8 L142.0,125.0 L142.8,125.2 L143.6,125.4 L144.4,125.6 L145.3,125.8 L146.1,125.9 L146.9,126.1 L147.7,126.2 L148.5,126.4 L149.3,126.5 L150.1,126.6 L150.9,126.7 L151.7,126.8 L152.5,126.8 L153.3,126.8 L154.1,126.8 L154.9,126.8 L155.7,126.8 L156.5,126.7 L157.3,126.7 L158.1,126.6 L158.9,126.5 L159.7,126.4 L160.5,126.2 L161.3,126.1 L162.1,125.9 L162.9,125.8 L163.7,125.6 L164.5,125.4 L165.3,125.2 L166.1,125.0 L166.9,124.8 L167.7,124.6 L168.5,124.4 L169.3,124.2 L170.1,124.0 L170.9,123.8 L171.7,123.6 L172.5,123.4 L173.3,123.2 L174.1,123.0 L174.9,122.8 L175.7,122.6 L176.5,122.5 L177.3,122.3 L178.1,122.2 L178.9,122.0 L179.7,121.9 L180.5,121.8 L181.3,121.7 L182.1,121.6 L182.9,121.5 L183.7,121.4 L184.5,121.4 L185.3,121.3 L186.1,121.3 L186.9,121.3 L187.7,121.4 L188.5,121.4 L189.3,121.5 L190.1,121.7 L190.9,121.8 L191.7,122.0 L192.5,122.2 L193.3,122.4 L194.1,122.6 L194.9,122.9 L195.7,123.2 L196.5,123.4 L197.3,123.7 L198.1,124.0 L198.9,124.3 L199.7,124.6 L200.5,124.9 L201.3,125.2 L202.1,125.4 L202.9,125.7 L203.7,125.9 L204.5,126.1 L205.3,126.3 L206.1,126.5 L206.9,126.7 L207.7,126.9 L208.5,127.1 L209.3,127.3 L210.1,127.5 L210.9,127.8 L211.7,128.1 L212.5,128.3 L213.3,128.6 L214.1,128.9 L214.9,129.2 L215.7,129.4 L216.5,129.7 L217.3,129.9 L218.1,130.2 L218.9,130.4 L219.7,130.5 L220.5,130.7 L221.3,130.9 L222.1,131.0 L222.9,131.1 L223.7,131.2 L224.5,131.4 L225.3,131.5 L226.1,131.6 L226.9,131.7 L227.7,131.8 L228.5,131.9 L229.3,132.0 L230.1,132.1 L230.9,132.2 L231.7,132.4 L232.5,132.6 L233.3,132.8 L234.1,133.0 L234.9,133.2 L235.7,133.5 L236.5,133.7 L237.3,134.0 L238.1,134.3 L238.9,134.6 L239.7,134.9 L240.5,135.2 L241.3,135.4 L242.1,135.7 L242.9,135.9 L243.7,136.2 L244.5,136.5 L245.3,136.7 L246.1,137.0 L246.9,137.3 L247.7,137.6 L248.5,137.9 L249.3,138.2 L250.1,138.5 L250.9,138.9 L251.7,139.2 L252.5,139.5 L253.3,139.9 L254.1,140.2 L254.9,140.6 L255.7,140.9 L256.5,141.3 L257.3,141.6 L258.1,142.0 L258.9,142.3 L259.7,142.6 L260.5,142.9 L261.3,143.3 L262.1,143.6 L262.9,143.9 L263.7,144.1 L264.5,144.4 L265.3,144.7 L266.1,145.0 L266.9,145.3 L267.7,145.7 L268.5,146.0 L269.3,146.4 L270.1,146.7 L270.9,147.2 L271.7,147.6 L272.5,148.0 L273.3,148.5 L274.1,149.0 L274.9,149.5 L275.7,150.0 L276.5,150.5 L277.3,151.0 L278.1,151.5 L278.9,152.0 L279.7,152.5 L280.5,153.0 L281.3,153.5 L282.1,154.0 L282.9,154.5 L283.7,155.0 L284.5,155.5 L285.3,156.0 L286.1,156.6 L286.9,157.1 L287.7,157.7 L288.5,158.3 L289.3,158.8 L290.1,159.4 L290.9,159.9 L291.7,160.5 L292.5,161.0 L293.3,161.5 L294.1,162.1 L294.9,162.6 L295.7,163.1 L296.5,163.6 L297.3,164.1 L298.1,164.6 L298.9,165.1 L299.7,165.6 L300.5,166.1 L301.3,166.6 L302.1,167.1 L302.9,167.6 L303.7,168.1 L304.5,168.6 L305.3,169.0 L306.1,169.5 L306.9,169.9 L307.7,170.4 L308.5,170.8 L309.3,171.2 L310.1,171.6 L310.9,172.0 L311.7,172.4 L312.5,172.8 L313.3,173.2 L314.1,173.6 L314.9,173.9 L315.7,174.2 L316.5,174.6 L317.3,174.9 L318.1,175.2 L318.9,175.4 L319.7,175.7 L320.5,175.9 L321.3,176.2 L322.1,176.4 L322.9,176.6 L323.7,176.8 L324.5,177.0 L325.3,177.2 L326.1,177.3 L326.9,177.5 L327.7,177.6 L328.5,177.8 L329.3,177.9 L330.1,178.0 L330.9,178.1 L331.7,178.2 L332.5,178.2 L333.3,178.3 L334.1,178.3 L334.9,178.3 L335.7,178.4 L336.5,178.4 L337.3,178.4 L338.1,178.4 L338.9,178.4 L339.7,178.4" stroke="#4338b5"/>
<path d="M42.0,177.4 L42.8,177.1 L43.6,176.8 L44.4,176.5 L45.2,176.2 L46.0,175.9 L46.8,175.6 L47.6,175.2 L48.4,174.8 L49.2,174.4 L50.0,173.9 L50.8,173.4 L51.6,172.8 L52.4,172.3 L53.2,171.6 L54.0,171.0 L54.8,170.3 L55.6,169.5 L56.4,168.8 L57.2,168.0 L58.0,167.1 L58.8,166.3 L59.6,165.4 L60.4,164.5 L61.2,163.6 L62.0,162.7 L62.8,161.8 L63.6,160.8 L64.4,159.9 L65.2,158.9 L66.1,157.9 L66.9,156.9 L67.7,156.0 L68.5,155.0 L69.3,154.0 L70.1,153.0 L70.9,152.0 L71.7,151.0 L72.5,150.1 L73.3,149.1 L74.1,148.2 L74.9,147.3 L75.7,146.4 L76.5,145.6 L77.3,144.7 L78.1,143.9 L78.9,143.1 L79.7,142.3 L80.5,141.6 L81.3,140.9 L82.1,140.1 L82.9,139.5 L83.7,138.8 L84.5,138.2 L85.3,137.7 L86.1,137.1 L86.9,136.6 L87.7,136.1 L88.5,135.6 L89.3,135.1 L90.1,134.5 L90.9,134.0 L91.7,133.4 L92.5,132.9 L93.3,132.3 L94.1,131.8 L94.9,131.3 L95.7,130.8 L96.5,130.3 L97.3,129.9 L98.1,129.5 L98.9,129.2 L99.7,128.8 L100.5,128.5 L101.3,128.2 L102.1,128.0 L102.9,127.7 L103.7,127.5 L104.5,127.2 L105.3,127.0 L106.1,126.8 L106.9,126.6 L107.7,126.4 L108.5,126.3 L109.3,126.1 L110.1,126.0 L110.9,125.8 L111.7,125.7 L112.5,125.6 L113.4,125.5 L114.2,125.5 L115.0,125.4 L115.8,125.3 L116.6,125.3 L117.4,125.2 L118.2,125.2 L119.0,125.2 L119.8,125.2 L120.6,125.1 L121.4,125.1 L122.2,125.1 L123.0,125.2 L123.8,125.2 L124.6,125.2 L125.4,125.2 L126.2,125.2 L127.0,125.2 L127.8,125.2 L128.6,125.3 L129.4,125.3 L130.2,125.3 L131.0,125.4 L131.8,125.4 L132.6,125.5 L133.4,125.5 L134.2,125.6 L135.0,125.7 L135.8,125.8 L136.6,125.9 L137.4,126.0 L138.2,126.2 L139.0,126.3 L139.8,126.4 L140.6,126.5 L141.4,126.6 L142.2,126.6 L143.0,126.7 L143.8,126.7 L144.6,126.7 L145.4,126.7 L146.2,126.8 L147.0,126.8 L147.8,126.8 L148.6,126.9 L149.4,126.9 L150.2,127.0 L151.0,127.1 L151.8,127.3 L152.6,127.4 L153.4,127.6 L154.2,127.8 L155.0,128.0 L155.8,128.2 L156.6,128.3 L157.4,128.5 L158.2,128.6 L159.0,128.8 L159.8,128.9 L160.7,129.0 L161.5,129.1 L162.3,129.2 L163.1,129.2 L163.9,129.3 L164.7,129.3 L165.5,129.4 L166.3,129.4 L167.1,129.4 L167.9,129.5 L168.7,129.5 L169.5,129.5 L170.3,129.5 L171.1,129.5 L171.9,129.5 L172.7,129.5 L173.5,129.4 L174.3,129.4 L175.1,129.3 L175.9,129.2 L176.7,129.1 L177.5,129.0 L178.3,128.9 L179.1,128.7 L179.9,128.6 L180.7,128.5 L181.5,128.3 L182.3,128.1 L183.1,128.0 L183.9,127.8 L184.7,127.6 L185.5,127.5 L186.3,127.3 L187.1,127.1 L187.9,127.0 L188.7,126.8 L189.5,126.7 L190.3,126.5 L191.1,126.4 L191.9,126.3 L192.7,126.2 L193.5,126.1 L194.3,126.0 L195.1,125.8 L195.9,125.7 L196.7,125.6 L197.5,125.5 L198.3,125.3 L199.1,125.2 L199.9,125.1 L200.7,124.9 L201.5,124.8 L202.3,124.7 L203.1,124.7 L203.9,124.7 L204.7,124.8 L205.5,124.9 L206.3,125.1 L207.1,125.4 L208.0,125.7 L208.8,126.0 L209.6,126.2 L210.4,126.4 L211.2,126.6 L212.0,126.7 L212.8,126.7 L213.6,126.7 L214.4,126.7 L215.2,126.6 L216.0,126.6 L216.8,126.6 L217.6,126.6 L218.4,126.6 L219.2,126.7 L220.0,126.8 L220.8,126.9 L221.6,127.0 L222.4,127.1 L223.2,127.3 L224.0,127.4 L224.8,127.6 L225.6,127.7 L226.4,127.8 L227.2,128.0 L228.0,128.1 L228.8,128.3 L229.6,128.4 L230.4,128.6 L231.2,128.7 L232.0,128.9 L232.8,129.1 L233.6,129.3 L234.4,129.6 L235.2,129.8 L236.0,130.1 L236.8,130.3 L237.6,130.6 L238.4,130.9 L239.2,131.2 L240.0,131.5 L240.8,131.8 L241.6,132.1 L242.4,132.4 L243.2,132.7 L244.0,133.0 L244.8,133.3 L245.6,133.6 L246.4,133.9 L247.2,134.2 L248.0,134.6 L248.8,134.9 L249.6,135.3 L250.4,135.6 L251.2,136.0 L252.0,136.3 L252.8,136.7 L253.6,137.1 L254.4,137.5 L255.3,137.9 L256.1,138.3 L256.9,138.7 L257.7,139.0 L258.5,139.5 L259.3,139.9 L260.1,140.3 L260.9,140.7 L261.7,141.1 L262.5,141.5 L263.3,141.9 L264.1,142.4 L264.9,142.8 L265.7,143.3 L266.5,143.7 L267.3,144.2 L268.1,144.7 L268.9,145.2 L269.7,145.8 L270.5,146.3 L271.3,146.9 L272.1,147.6 L272.9,148.2 L273.7,148.9 L274.5,149.5 L275.3,150.2 L276.1,151.0 L276.9,151.7 L277.7,152.4 L278.5,153.2 L279.3,153.9 L280.1,154.7 L280.9,155.4 L281.7,156.2 L282.5,157.0 L283.3,157.7 L284.1,158.5 L284.9,159.3 L285.7,160.0 L286.5,160.8 L287.3,161.5 L288.1,162.3 L288.9,163.1 L289.7,163.8 L290.5,164.6 L291.3,165.4 L292.1,166.1 L292.9,166.8 L293.7,167.6 L294.5,168.2 L295.3,168.9 L296.1,169.5 L296.9,170.1 L297.7,170.7 L298.5,171.2 L299.3,171.8 L300.1,172.3 L300.9,172.8 L301.7,173.4 L302.6,173.8 L303.4,174.3 L304.2,174.7 L305.0,175.1 L305.8,175.4 L306.6,175.8 L307.4,176.1 L308.2,176.3 L309.0,176.6 L309.8,176.9 L310.6,177.1 L311.4,177.3 L312.2,177.5 L313.0,177.7 L313.8,177.8 L314.6,177.9 L315.4,178.0 L316.2,178.1 L317.0,178.2 L317.8,178.2 L318.6,178.3 L319.4,178.3 L320.2,178.4 L321.0,178.4 L321.8,178.4 L322.6,178.4 L323.4,178.4" stroke="#d6336c"/>
<path d="M42.0,177.4 L42.8,177.1 L43.6,176.8 L44.4,176.5 L45.2,176.2 L46.0,175.9 L46.8,175.6 L47.6,175.2 L48.4,174.8 L49.2,174.4 L50.0,173.9 L50.8,173.4 L51.6,172.9 L52.4,172.3 L53.2,171.7 L54.0,171.0 L54.8,170.3 L55.6,169.6 L56.4,168.8 L57.2,168.0 L58.0,167.2 L58.8,166.3 L59.6,165.4 L60.4,164.6 L61.2,163.7 L62.0,162.7 L62.8,161.8 L63.6,160.9 L64.4,159.9 L65.2,159.0 L66.0,158.0 L66.8,157.0 L67.6,156.0 L68.4,155.0 L69.2,154.0 L70.0,153.0 L70.8,152.0 L71.6,151.1 L72.4,150.1 L73.2,149.2 L74.0,148.3 L74.8,147.4 L75.6,146.5 L76.4,145.6 L77.2,144.8 L78.0,144.0 L78.8,143.2 L79.6,142.4 L80.4,141.7 L81.2,141.0 L82.0,140.2 L82.8,139.6 L83.6,138.9 L84.4,138.3 L85.2,137.7 L86.0,137.1 L86.8,136.5 L87.6,136.0 L88.4,135.5 L89.2,135.0 L90.0,134.6 L90.8,134.2 L91.6,133.8 L92.4,133.4 L93.2,133.1 L94.0,132.7 L94.8,132.4 L95.6,132.1 L96.4,131.9 L97.2,131.6 L98.0,131.4 L98.8,131.2 L99.6,130.9 L100.4,130.8 L101.2,130.6 L102.0,130.4 L102.8,130.2 L103.6,130.1 L104.4,129.9 L105.2,129.8 L106.0,129.6 L106.8,129.5 L107.6,129.4 L108.4,129.3 L109.2,129.1 L110.0,129.0 L110.8,128.9 L111.6,128.7 L112.4,128.6 L113.2,128.5 L114.0,128.4 L114.8,128.2 L115.6,128.1 L116.4,128.0 L117.2,127.9 L118.0,127.8 L118.8,127.7 L119.6,127.6 L120.4,127.5 L121.2,127.5 L122.0,127.4 L122.8,127.3 L123.6,127.2 L124.4,127.2 L125.2,127.1 L126.0,127.0 L126.8,126.9 L127.6,126.8 L128.4,126.8 L129.2,126.7 L130.0,126.6 L130.8,126.5 L131.6,126.4 L132.4,126.3 L133.2,126.3 L134.0,126.2 L134.8,126.1 L135.6,126.1 L136.4,126.0 L137.2,126.0 L138.0,125.9 L138.8,125.9 L139.6,125.9 L140.4,125.8 L141.2,125.8 L142.0,125.8 L142.8,125.8 L143.6,125.8 L144.4,125.8 L145.2,125.8 L146.0,125.8 L146.8,125.8 L147.6,125.9 L148.4,125.9 L149.2,126.0 L150.0,126.0 L150.8,126.1 L151.6,126.1 L152.4,126.2 L153.2,126.3 L154.0,126.3 L154.8,126.4 L155.6,126.4 L156.4,126.5 L157.2,126.6 L158.0,126.6 L158.8,126.6 L159.6,126.7 L160.4,126.7 L161.2,126.7 L162.0,126.7 L162.8,126.7 L163.6,126.7 L164.4,126.7 L165.2,126.6 L166.0,126.6 L166.8,126.6 L167.6,126.5 L168.4,126.5 L169.2,126.5 L170.0,126.4 L170.8,126.4 L171.6,126.3 L172.4,126.3 L173.2,126.2 L174.0,126.2 L174.8,126.2 L175.6,126.1 L176.4,126.1 L177.2,126.1 L178.0,126.0 L178.8,126.0 L179.6,126.0 L180.4,126.0 L181.2,126.0 L182.0,126.0 L182.8,126.0 L183.6,126.0 L184.4,126.1 L185.2,126.1 L186.0,126.2 L186.8,126.2 L187.6,126.3 L188.4,126.4 L189.2,126.5 L190.0,126.6 L190.8,126.7 L191.6,126.9 L192.4,127.1 L193.2,127.2 L194.0,127.4 L194.8,127.7 L195.6,127.9 L196.4,128.1 L197.2,128.4 L198.0,128.6 L198.8,128.9 L199.6,129.1 L200.4,129.4 L201.2,129.7 L202.0,129.9 L202.8,130.2 L203.6,130.4 L204.4,130.6 L205.2,130.8 L206.0,131.0 L206.8,131.1 L207.6,131.3 L208.4,131.4 L209.2,131.5 L210.0,131.6 L210.8,131.7 L211.6,131.9 L212.4,132.0 L213.2,132.2 L214.0,132.3 L214.8,132.4 L215.6,132.6 L216.4,132.7 L217.2,132.8 L218.0,132.9 L218.8,132.9 L219.6,133.0 L220.4,133.0 L221.2,133.0 L222.0,133.0 L222.8,133.0 L223.6,133.0 L224.4,133.0 L225.2,133.0 L226.0,133.0 L226.8,132.9 L227.6,132.9 L228.4,132.8 L229.2,132.8 L230.0,132.7 L230.8,132.7 L231.6,132.6 L232.4,132.5 L233.2,132.4 L234.0,132.4 L234.8,132.3 L235.6,132.2 L236.4,132.1 L237.2,132.1 L238.0,132.0 L238.8,132.0 L239.6,132.0 L240.4,132.0 L241.2,132.0 L242.0,132.0 L242.8,132.1 L243.6,132.2 L244.4,132.3 L245.2,132.4 L246.0,132.5 L246.8,132.7 L247.6,132.8 L248.4,133.0 L249.2,133.1 L250.0,133.3 L250.8,133.4 L251.6,133.6 L252.4,133.8 L253.2,134.0 L254.0,134.2 L254.8,134.4 L255.6,134.6 L256.4,134.9 L257.2,135.1 L258.0,135.4 L258.8,135.7 L259.6,136.0 L260.4,136.3 L261.2,136.6 L262.0,136.9 L262.8,137.2 L263.6,137.5 L264.4,137.9 L265.2,138.2 L266.0,138.6 L266.8,138.9 L267.6,139.3 L268.4,139.7 L269.2,140.1 L270.0,140.5 L270.8,140.9 L271.6,141.4 L272.4,141.8 L273.2,142.3 L274.0,142.9 L274.8,143.5 L275.6,144.1 L276.4,144.8 L277.2,145.5 L278.0,146.3 L278.8,147.1 L279.6,147.9 L280.4,148.7 L281.2,149.5 L282.0,150.3 L282.8,151.1 L283.6,151.9 L284.4,152.7 L285.2,153.5 L286.0,154.4 L286.8,155.3 L287.6,156.1 L288.4,157.0 L289.2,157.9 L290.0,158.8 L290.8,159.7 L291.6,160.6 L292.4,161.5 L293.2,162.3 L294.0,163.1 L294.8,163.9 L295.6,164.7 L296.4,165.4 L297.2,166.1 L298.0,166.9 L298.8,167.6 L299.6,168.3 L300.4,169.0 L301.2,169.6 L302.0,170.3 L302.8,170.9 L303.6,171.5 L304.4,172.1 L305.2,172.6 L306.0,173.1 L306.8,173.6 L307.6,174.1 L308.4,174.5 L309.2,174.9 L310.0,175.3 L310.8,175.7 L311.6,176.0 L312.4,176.3 L313.2,176.6 L314.0,176.9 L314.8,177.1 L315.6,177.3 L316.4,177.4 L317.2,177.6 L318.0,177.7 L318.8,177.8 L319.6,177.9 L320.4,178.0 L321.2,178.1 L322.0,178.1 L322.8,178.2 L323.6,178.2 L324.4,178.3 L325.2,178.3 L326.0,178.4 L326.8,178.4 L327.6,178.4 L328.4,178.4 L329.2,178.4" stroke="#f07f2e"/>
</g>
<line x1="41.80" y1="178.40" x2="339.30" y2="178.40" stroke="#cdcdcd" stroke-width="1.0"/>
<text x="87.40" y="189.50" font-size="9.40" fill="#626262" text-anchor="middle">100</text>
<text x="133.20" y="189.50" font-size="9.40" fill="#626262" text-anchor="middle">200</text>
<text x="179.00" y="189.50" font-size="9.40" fill="#626262" text-anchor="middle">300</text>
<text x="224.80" y="189.50" font-size="9.40" fill="#626262" text-anchor="middle">400</text>
<text x="270.60" y="189.50" font-size="9.40" fill="#626262" text-anchor="middle">500</text>
<text x="316.40" y="189.50" font-size="9.40" fill="#626262" text-anchor="middle">600</text>
<text x="38.00" y="114.50" font-size="9.40" fill="#626262" text-anchor="end">0.003</text>
<text x="38.00" y="137.30" font-size="9.40" fill="#626262" text-anchor="end">0.002</text>
<text x="38.00" y="160.20" font-size="9.40" fill="#626262" text-anchor="end">0.001</text>
<text x="38.00" y="182.50" font-size="9.40" fill="#626262" text-anchor="end">0.000</text>
<text x="190.55" y="202.20" font-size="9.40" fill="#626262" text-anchor="middle">tr_l2_out</text>
<clipPath id="c3"><rect x="378.50" y="110.60" width="297.50" height="68.00"/></clipPath>
<clipPath id="h3"><rect x="378.00" y="110.60" width="298.00" height="68.00"/></clipPath>
<g clip-path="url(#c3)">
<line x1="426.40" y1="110.60" x2="426.40" y2="178.40" stroke="#2a2a2a" stroke-width="0.75"/>
<line x1="476.40" y1="110.60" x2="476.40" y2="178.40" stroke="#2a2a2a" stroke-width="0.75"/>
<line x1="526.40" y1="110.60" x2="526.40" y2="178.40" stroke="#2a2a2a" stroke-width="0.75"/>
<line x1="576.40" y1="110.60" x2="576.40" y2="178.40" stroke="#2a2a2a" stroke-width="0.75"/>
<line x1="626.40" y1="110.60" x2="626.40" y2="178.40" stroke="#2a2a2a" stroke-width="0.75"/>
<line x1="676.40" y1="110.60" x2="676.40" y2="178.40" stroke="#2a2a2a" stroke-width="0.75"/>
</g>
<g clip-path="url(#h3)">
<line x1="377.50" y1="129.20" x2="676.80" y2="129.20" stroke="#2a2a2a" stroke-width="0.75"/>
<line x1="377.50" y1="153.90" x2="676.80" y2="153.90" stroke="#2a2a2a" stroke-width="0.75"/>
</g>
<g clip-path="url(#c3)" fill="none" stroke-width="1.4" stroke-linejoin="round" stroke-linecap="butt">
<path d="M538.0,178.4 L538.8,177.9 L539.6,176.8 L540.4,174.9 L541.2,172.2 L542.1,168.8 L542.9,164.7 L543.7,160.0 L544.5,154.9 L545.3,149.6 L546.1,144.3 L546.9,139.3 L547.7,134.5 L548.5,130.2 L549.3,126.5 L550.2,123.5 L551.0,121.4 L551.8,120.1 L552.6,119.2 L553.4,118.8 L554.2,118.9 L555.0,119.4 L555.8,120.3 L556.6,121.7 L557.4,123.4 L558.3,125.2 L559.1,127.0 L559.9,128.8 L560.7,130.8 L561.5,132.7 L562.3,134.8 L563.1,137.0 L563.9,139.2 L564.7,141.5 L565.6,143.7 L566.4,146.0 L567.2,148.2 L568.0,150.4 L568.8,152.7 L569.6,154.9 L570.4,157.2 L571.2,159.5 L572.0,161.8 L572.8,164.0 L573.7,166.1 L574.5,168.1 L575.3,170.0 L576.1,171.7 L576.9,173.2 L577.7,174.6 L578.5,175.7 L579.3,176.7 L580.1,177.5 L580.9,178.1 L581.8,178.4 L582.6,178.4 L583.4,178.4 L584.2,178.4 L585.0,178.4" stroke="#9bdb3b"/>
<path d="M470.0,178.4 L470.8,178.4 L471.6,178.4 L472.4,178.4 L473.2,178.4 L474.0,178.4 L474.8,178.4 L475.6,178.4 L476.4,178.4 L477.2,178.4 L478.0,178.2 L478.8,178.0 L479.6,177.7 L480.4,177.4 L481.2,177.1 L482.0,176.7 L482.8,176.2 L483.6,175.7 L484.4,175.1 L485.2,174.4 L486.0,173.7 L486.8,172.9 L487.6,171.9 L488.4,170.9 L489.2,169.7 L490.0,168.4 L490.8,167.0 L491.6,165.5 L492.4,164.0 L493.2,162.5 L494.0,161.0 L494.8,159.5 L495.6,158.1 L496.4,156.8 L497.2,155.5 L498.0,154.3 L498.8,153.2 L499.6,152.3 L500.4,151.5 L501.2,150.7 L502.0,150.1 L502.8,149.6 L503.6,149.2 L504.4,148.8 L505.2,148.6 L506.0,148.4 L506.8,148.2 L507.6,148.1 L508.4,148.1 L509.2,148.0 L510.0,147.9 L510.8,147.9 L511.6,147.9 L512.4,147.9 L513.2,148.0 L514.0,148.2 L514.8,148.5 L515.6,148.8 L516.4,149.3 L517.2,149.7 L518.0,150.3 L518.8,150.9 L519.6,151.5 L520.4,152.1 L521.2,152.7 L522.0,153.4 L522.8,154.0 L523.6,154.7 L524.4,155.3 L525.2,156.0 L526.0,156.7 L526.8,157.4 L527.6,158.3 L528.4,159.2 L529.2,160.3 L530.0,161.5 L530.8,162.8 L531.6,164.1 L532.4,165.5 L533.2,166.8 L534.0,168.0 L534.8,169.1 L535.6,170.1 L536.4,171.0 L537.2,171.8 L538.0,172.5 L538.8,173.2 L539.6,173.7 L540.4,174.3 L541.2,174.7 L542.0,175.2 L542.8,175.6 L543.6,175.9 L544.4,176.3 L545.2,176.6 L546.0,176.8 L546.8,177.1 L547.6,177.3 L548.4,177.5 L549.2,177.7 L550.0,177.9 L550.8,178.0 L551.6,178.2 L552.4,178.3 L553.2,178.4 L554.0,178.4" stroke="#2a9d8f"/>
<path d="M449.0,178.4 L449.8,178.4 L450.6,178.4 L451.4,178.4 L452.2,178.4 L453.0,178.4 L453.8,178.4 L454.6,178.4 L455.4,178.4 L456.2,178.4 L457.0,178.3 L457.8,178.1 L458.6,177.7 L459.4,177.3 L460.2,176.9 L461.0,176.4 L461.8,175.8 L462.6,175.2 L463.4,174.5 L464.2,173.8 L465.0,173.1 L465.8,172.3 L466.6,171.6 L467.4,170.8 L468.2,170.1 L469.0,169.4 L469.8,168.7 L470.6,168.1 L471.4,167.6 L472.2,167.1 L473.0,166.6 L473.8,166.1 L474.6,165.7 L475.4,165.2 L476.2,164.7 L477.0,164.2 L477.9,163.6 L478.7,163.0 L479.5,162.4 L480.3,161.8 L481.1,161.2 L481.9,160.7 L482.7,160.2 L483.5,159.7 L484.3,159.3 L485.1,158.9 L485.9,158.6 L486.7,158.4 L487.5,158.2 L488.3,158.1 L489.1,158.0 L489.9,158.0 L490.7,157.9 L491.5,157.8 L492.3,157.8 L493.1,157.7 L493.9,157.6 L494.7,157.5 L495.5,157.4 L496.3,157.2 L497.1,157.1 L497.9,157.0 L498.7,156.9 L499.5,156.8 L500.3,156.8 L501.1,156.8 L501.9,156.8 L502.7,156.9 L503.5,157.1 L504.3,157.4 L505.1,157.7 L505.9,158.0 L506.7,158.4 L507.5,158.8 L508.3,159.1 L509.1,159.5 L509.9,159.9 L510.7,160.2 L511.5,160.5 L512.3,160.8 L513.1,161.1 L513.9,161.4 L514.7,161.6 L515.5,161.8 L516.3,162.1 L517.1,162.3 L517.9,162.5 L518.7,162.7 L519.5,162.9 L520.3,163.1 L521.1,163.3 L521.9,163.6 L522.7,163.9 L523.5,164.2 L524.3,164.6 L525.1,165.1 L525.9,165.6 L526.7,166.1 L527.5,166.8 L528.3,167.4 L529.1,168.2 L529.9,168.9 L530.7,169.8 L531.5,170.6 L532.3,171.4 L533.1,172.2 L534.0,173.0 L534.8,173.6 L535.6,174.1 L536.4,174.6 L537.2,175.0 L538.0,175.3 L538.8,175.6 L539.6,175.9 L540.4,176.1 L541.2,176.4 L542.0,176.6 L542.8,176.8 L543.6,177.0 L544.4,177.2 L545.2,177.4 L546.0,177.6 L546.8,177.8 L547.6,177.9 L548.4,178.1 L549.2,178.2 L550.0,178.3 L550.8,178.4 L551.6,178.4 L552.4,178.4 L553.2,178.4 L554.0,178.4 L554.8,178.4 L555.6,178.4 L556.4,178.4 L557.2,178.4 L558.0,178.4 L558.8,178.4 L559.6,178.4 L560.4,178.4 L561.2,178.4 L562.0,178.4" stroke="#4338b5"/>
<path d="M430.0,178.4 L430.8,178.4 L431.6,178.4 L432.4,178.4 L433.2,178.4 L434.0,178.4 L434.8,178.4 L435.6,178.2 L436.4,177.8 L437.2,177.4 L438.0,176.8 L438.8,176.2 L439.6,175.4 L440.4,174.6 L441.2,173.6 L442.0,172.6 L442.8,171.6 L443.6,170.5 L444.4,169.5 L445.2,168.4 L446.0,167.4 L446.8,166.4 L447.6,165.5 L448.4,164.6 L449.2,163.8 L450.0,163.0 L450.8,162.3 L451.6,161.6 L452.4,161.1 L453.2,160.5 L454.0,160.0 L454.8,159.6 L455.6,159.2 L456.4,158.8 L457.2,158.5 L458.0,158.2 L458.8,157.9 L459.6,157.6 L460.4,157.4 L461.2,157.2 L462.0,157.0 L462.8,156.8 L463.6,156.7 L464.4,156.6 L465.2,156.6 L466.0,156.6 L466.8,156.7 L467.6,156.8 L468.4,157.0 L469.2,157.2 L470.0,157.4 L470.8,157.6 L471.6,157.8 L472.4,158.0 L473.2,158.3 L474.0,158.5 L474.8,158.6 L475.6,158.8 L476.4,159.0 L477.2,159.2 L478.0,159.3 L478.8,159.4 L479.6,159.6 L480.4,159.7 L481.2,159.9 L482.0,160.1 L482.8,160.3 L483.6,160.5 L484.4,160.7 L485.2,161.0 L486.0,161.3 L486.8,161.6 L487.6,162.0 L488.4,162.3 L489.2,162.7 L490.0,163.0 L490.8,163.3 L491.6,163.6 L492.4,164.0 L493.2,164.3 L494.0,164.6 L494.8,164.9 L495.6,165.2 L496.4,165.6 L497.2,165.9 L498.0,166.3 L498.8,166.7 L499.6,167.0 L500.4,167.4 L501.2,167.7 L502.0,168.0 L502.8,168.3 L503.6,168.6 L504.4,168.8 L505.2,169.1 L506.0,169.3 L506.8,169.6 L507.6,169.8 L508.4,170.2 L509.2,170.5 L510.0,170.9 L510.8,171.2 L511.6,171.7 L512.4,172.1 L513.2,172.5 L514.0,173.0 L514.8,173.5 L515.6,174.0 L516.4,174.4 L517.2,174.9 L518.0,175.4 L518.8,175.8 L519.6,176.2 L520.4,176.6 L521.2,176.9 L522.0,177.2 L522.8,177.5 L523.6,177.7 L524.4,177.9 L525.2,178.1 L526.0,178.2 L526.8,178.3 L527.6,178.4 L528.4,178.4 L529.2,178.4 L530.0,178.4" stroke="#d6336c"/>
<path d="M422.0,178.4 L422.8,178.4 L423.6,178.4 L424.4,178.4 L425.2,178.4 L426.0,178.4 L426.8,178.4 L427.6,178.3 L428.4,178.0 L429.2,177.7 L430.0,177.2 L430.8,176.7 L431.6,176.1 L432.4,175.4 L433.2,174.7 L434.0,174.0 L434.8,173.2 L435.6,172.4 L436.4,171.6 L437.2,170.8 L438.0,170.0 L438.8,169.2 L439.6,168.4 L440.4,167.6 L441.2,166.9 L442.0,166.2 L442.8,165.6 L443.6,164.9 L444.4,164.3 L445.2,163.6 L446.0,163.0 L446.8,162.4 L447.6,161.7 L448.4,161.1 L449.2,160.5 L450.0,159.9 L450.8,159.4 L451.6,158.8 L452.4,158.4 L453.2,158.0 L454.0,157.6 L454.8,157.2 L455.6,156.9 L456.4,156.6 L457.2,156.3 L458.0,156.0 L458.8,155.7 L459.6,155.4 L460.4,155.1 L461.2,154.9 L462.0,154.6 L462.8,154.4 L463.6,154.3 L464.4,154.2 L465.2,154.1 L466.0,154.1 L466.8,154.2 L467.6,154.4 L468.4,154.8 L469.2,155.2 L470.0,155.7 L470.8,156.3 L471.6,156.8 L472.4,157.2 L473.2,157.6 L474.0,157.9 L474.8,158.2 L475.6,158.4 L476.4,158.6 L477.2,158.8 L478.0,158.9 L478.8,159.1 L479.6,159.3 L480.4,159.5 L481.2,159.7 L482.0,160.0 L482.8,160.4 L483.6,160.8 L484.4,161.2 L485.2,161.7 L486.0,162.2 L486.8,162.8 L487.6,163.3 L488.4,163.9 L489.2,164.4 L490.0,164.9 L490.8,165.4 L491.6,165.9 L492.4,166.4 L493.2,166.9 L494.0,167.4 L494.8,167.9 L495.6,168.3 L496.4,168.8 L497.2,169.2 L498.0,169.6 L498.8,170.0 L499.6,170.4 L500.4,170.8 L501.2,171.2 L502.0,171.5 L502.8,171.9 L503.6,172.2 L504.4,172.6 L505.2,173.0 L506.0,173.4 L506.8,173.8 L507.6,174.3 L508.4,174.7 L509.2,175.1 L510.0,175.6 L510.8,176.0 L511.6,176.4 L512.4,176.8 L513.2,177.1 L514.0,177.4 L514.8,177.7 L515.6,177.9 L516.4,178.1 L517.2,178.3 L518.0,178.4 L518.8,178.4 L519.6,178.4 L520.4,178.4 L521.2,178.4 L522.0,178.4" stroke="#f07f2e"/>
</g>
<line x1="378.50" y1="178.40" x2="675.80" y2="178.40" stroke="#cdcdcd" stroke-width="1.0"/>
<text x="426.40" y="189.50" font-size="9.40" fill="#626262" text-anchor="middle">50</text>
<text x="476.40" y="189.50" font-size="9.40" fill="#626262" text-anchor="middle">100</text>
<text x="526.40" y="189.50" font-size="9.40" fill="#626262" text-anchor="middle">150</text>
<text x="576.40" y="189.50" font-size="9.40" fill="#626262" text-anchor="middle">200</text>
<text x="626.40" y="189.50" font-size="9.40" fill="#626262" text-anchor="middle">250</text>
<text x="676.40" y="189.50" font-size="9.40" fill="#626262" text-anchor="middle">300</text>
<text x="374.70" y="133.10" font-size="9.40" fill="#626262" text-anchor="end">0.04</text>
<text x="374.70" y="157.80" font-size="9.40" fill="#626262" text-anchor="end">0.02</text>
<text x="374.70" y="182.50" font-size="9.40" fill="#626262" text-anchor="end">0.00</text>
<text x="527.15" y="202.20" font-size="9.40" fill="#626262" text-anchor="middle">V0_l1</text>
<clipPath id="c4"><rect x="41.80" y="220.60" width="297.70" height="68.50"/></clipPath>
<clipPath id="h4"><rect x="41.30" y="220.60" width="298.20" height="68.50"/></clipPath>
<g clip-path="url(#c4)">
<line x1="68.80" y1="220.60" x2="68.80" y2="288.90" stroke="#2a2a2a" stroke-width="0.75"/>
<line x1="122.95" y1="220.60" x2="122.95" y2="288.90" stroke="#2a2a2a" stroke-width="0.75"/>
<line x1="177.10" y1="220.60" x2="177.10" y2="288.90" stroke="#2a2a2a" stroke-width="0.75"/>
<line x1="231.25" y1="220.60" x2="231.25" y2="288.90" stroke="#2a2a2a" stroke-width="0.75"/>
<line x1="285.40" y1="220.60" x2="285.40" y2="288.90" stroke="#2a2a2a" stroke-width="0.75"/>
<line x1="339.55" y1="220.60" x2="339.55" y2="288.90" stroke="#2a2a2a" stroke-width="0.75"/>
</g>
<g clip-path="url(#h4)">
<line x1="40.80" y1="250.00" x2="340.30" y2="250.00" stroke="#2a2a2a" stroke-width="0.75"/>
</g>
<g clip-path="url(#c4)" fill="none" stroke-width="1.4" stroke-linejoin="round" stroke-linecap="butt">
<path d="M42.0,288.6 L42.4,287.1 L42.8,285.6 L43.2,284.1 L43.6,282.6 L44.0,280.9 L44.4,279.3 L44.8,277.6 L45.2,275.9 L45.6,274.1 L46.0,272.4 L46.4,270.6 L46.8,268.8 L47.2,266.9 L47.6,265.1 L48.0,263.3 L48.4,261.4 L48.8,259.5 L49.2,257.6 L49.6,255.7 L50.1,253.7 L50.5,251.8 L50.9,249.9 L51.3,247.9 L51.7,245.9 L52.1,243.9 L52.5,241.9 L52.9,239.7 L53.3,237.4 L53.7,234.8 L54.1,232.2 L54.5,229.7 L54.9,227.5 L55.3,225.7 L55.7,224.1 L56.1,223.6 L56.5,223.9 L56.9,224.5 L57.3,225.1 L57.7,226.2 L58.1,227.4 L58.5,228.7 L58.9,229.8 L59.3,230.7 L59.7,231.5 L60.1,232.2 L60.5,232.9 L60.9,233.7 L61.3,234.4 L61.7,235.3 L62.1,236.3 L62.5,237.5 L62.9,238.9 L63.3,240.3 L63.7,241.9 L64.1,243.6 L64.5,245.6 L64.9,247.7 L65.4,250.1 L65.8,252.5 L66.2,255.0 L66.6,257.8 L67.0,260.7 L67.4,263.7 L67.8,266.5 L68.2,269.0 L68.6,271.4 L69.0,273.7 L69.4,275.8 L69.8,277.9 L70.2,279.9 L70.6,282.1 L71.0,284.3 L71.4,286.2 L71.8,287.6 L72.2,288.3 L72.6,288.8 L73.0,288.9" stroke="#2a9d8f"/>
<path d="M72.0,288.9 L72.8,288.9 L73.6,288.9 L74.4,288.9 L75.2,288.9 L76.0,288.9 L76.8,288.9 L77.6,288.9 L78.4,288.9 L79.2,288.9 L80.0,288.9 L80.8,288.9 L81.6,288.9 L82.4,288.9 L83.2,288.9 L84.0,288.9 L84.8,288.9 L85.6,288.9 L86.4,288.9 L87.2,288.8 L88.0,288.8 L88.8,288.8 L89.6,288.8 L90.4,288.8 L91.2,288.8 L92.0,288.8 L92.8,288.8 L93.6,288.8 L94.4,288.7 L95.2,288.7 L96.0,288.7 L96.8,288.7 L97.6,288.7 L98.4,288.7 L99.2,288.7 L100.0,288.6 L100.8,288.6 L101.6,288.6 L102.4,288.6 L103.3,288.6 L104.1,288.6 L104.9,288.5 L105.7,288.5 L106.5,288.5 L107.3,288.5 L108.1,288.4 L108.9,288.4 L109.7,288.3 L110.5,288.3 L111.3,288.3 L112.1,288.2 L112.9,288.1 L113.7,288.1 L114.5,288.0 L115.3,287.9 L116.1,287.8 L116.9,287.7 L117.7,287.7 L118.5,287.6 L119.3,287.5 L120.1,287.4 L120.9,287.3 L121.7,287.2 L122.5,287.0 L123.3,286.9 L124.1,286.8 L124.9,286.7 L125.7,286.6 L126.5,286.5 L127.3,286.4 L128.1,286.3 L128.9,286.2 L129.7,286.1 L130.5,286.0 L131.3,285.9 L132.1,285.8 L132.9,285.7 L133.7,285.6 L134.5,285.6 L135.3,285.5 L136.1,285.4 L136.9,285.4 L137.7,285.3 L138.5,285.2 L139.3,285.2 L140.1,285.1 L140.9,285.1 L141.7,285.0 L142.5,285.0 L143.3,284.9 L144.1,284.9 L144.9,284.8 L145.7,284.8 L146.5,284.7 L147.3,284.7 L148.1,284.6 L148.9,284.6 L149.7,284.5 L150.5,284.5 L151.3,284.4 L152.1,284.4 L152.9,284.4 L153.7,284.3 L154.5,284.3 L155.3,284.3 L156.1,284.2 L156.9,284.2 L157.7,284.2 L158.5,284.1 L159.3,284.1 L160.1,284.1 L160.9,284.0 L161.7,284.0 L162.5,284.0 L163.3,283.9 L164.1,283.9 L165.0,283.9 L165.8,283.8 L166.6,283.8 L167.4,283.7 L168.2,283.7 L169.0,283.6 L169.8,283.6 L170.6,283.6 L171.4,283.5 L172.2,283.5 L173.0,283.5 L173.8,283.5 L174.6,283.4 L175.4,283.4 L176.2,283.4 L177.0,283.4 L177.8,283.4 L178.6,283.3 L179.4,283.3 L180.2,283.3 L181.0,283.3 L181.8,283.3 L182.6,283.3 L183.4,283.3 L184.2,283.3 L185.0,283.3 L185.8,283.2 L186.6,283.2 L187.4,283.2 L188.2,283.2 L189.0,283.2 L189.8,283.2 L190.6,283.2 L191.4,283.2 L192.2,283.2 L193.0,283.2 L193.8,283.1 L194.6,283.1 L195.4,283.1 L196.2,283.1 L197.0,283.1 L197.8,283.1 L198.6,283.1 L199.4,283.0 L200.2,283.0 L201.0,283.0 L201.8,283.0 L202.6,283.0 L203.4,283.0 L204.2,282.9 L205.0,282.9 L205.8,282.9 L206.6,282.9 L207.4,282.9 L208.2,282.8 L209.0,282.8 L209.8,282.8 L210.6,282.8 L211.4,282.8 L212.2,282.7 L213.0,282.7 L213.8,282.7 L214.6,282.7 L215.4,282.7 L216.2,282.7 L217.0,282.6 L217.8,282.6 L218.6,282.6 L219.4,282.6 L220.2,282.6 L221.0,282.5 L221.8,282.5 L222.6,282.5 L223.4,282.5 L224.2,282.5 L225.0,282.5 L225.9,282.5 L226.7,282.4 L227.5,282.4 L228.3,282.4 L229.1,282.4 L229.9,282.4 L230.7,282.4 L231.5,282.4 L232.3,282.4 L233.1,282.4 L233.9,282.4 L234.7,282.4 L235.5,282.4 L236.3,282.3 L237.1,282.3 L237.9,282.3 L238.7,282.3 L239.5,282.3 L240.3,282.3 L241.1,282.3 L241.9,282.3 L242.7,282.3 L243.5,282.3 L244.3,282.4 L245.1,282.4 L245.9,282.4 L246.7,282.4 L247.5,282.4 L248.3,282.4 L249.1,282.4 L249.9,282.4 L250.7,282.4 L251.5,282.4 L252.3,282.4 L253.1,282.4 L253.9,282.5 L254.7,282.5 L255.5,282.5 L256.3,282.5 L257.1,282.5 L257.9,282.5 L258.7,282.6 L259.5,282.6 L260.3,282.6 L261.1,282.6 L261.9,282.6 L262.7,282.7 L263.5,282.7 L264.3,282.7 L265.1,282.8 L265.9,282.8 L266.7,282.8 L267.5,282.9 L268.3,282.9 L269.1,282.9 L269.9,283.0 L270.7,283.0 L271.5,283.1 L272.3,283.1 L273.1,283.2 L273.9,283.2 L274.7,283.3 L275.5,283.4 L276.3,283.4 L277.1,283.5 L277.9,283.6 L278.7,283.7 L279.5,283.8 L280.3,283.9 L281.1,284.0 L281.9,284.1 L282.7,284.2 L283.5,284.3 L284.3,284.4 L285.1,284.6 L285.9,284.7 L286.7,284.8 L287.6,285.0 L288.4,285.2 L289.2,285.3 L290.0,285.5 L290.8,285.7 L291.6,285.9 L292.4,286.0 L293.2,286.2 L294.0,286.4 L294.8,286.6 L295.6,286.7 L296.4,286.9 L297.2,287.1 L298.0,287.3 L298.8,287.4 L299.6,287.6 L300.4,287.7 L301.2,287.9 L302.0,288.0 L302.8,288.1 L303.6,288.2 L304.4,288.3 L305.2,288.4 L306.0,288.5 L306.8,288.6 L307.6,288.6 L308.4,288.7 L309.2,288.8 L310.0,288.8 L310.8,288.8 L311.6,288.9 L312.4,288.9 L313.2,288.9 L314.0,288.9 L314.8,288.9 L315.6,288.9 L316.4,288.9 L317.2,288.9 L318.0,288.9" stroke="#4338b5"/>
<path d="M42.0,288.9 L42.8,288.9 L43.6,288.9 L44.4,288.9 L45.2,288.9 L46.0,288.9 L46.8,288.9 L47.6,288.9 L48.4,288.9 L49.2,288.9 L50.0,288.9 L50.8,288.9 L51.6,288.9 L52.4,288.9 L53.2,288.9 L54.0,288.9 L54.8,288.9 L55.6,288.9 L56.4,288.9 L57.2,288.9 L58.0,288.9 L58.8,288.9 L59.6,288.9 L60.4,288.9 L61.2,288.9 L62.0,288.9 L62.8,288.9 L63.6,288.9 L64.4,288.9 L65.2,288.9 L66.0,288.9 L66.8,288.9 L67.6,288.8 L68.4,288.8 L69.2,288.7 L70.0,288.7 L70.8,288.6 L71.6,288.5 L72.4,288.5 L73.2,288.4 L74.0,288.3 L74.8,288.2 L75.6,288.1 L76.4,288.0 L77.2,287.9 L78.0,287.8 L78.8,287.7 L79.6,287.6 L80.4,287.4 L81.2,287.3 L82.0,287.1 L82.8,287.0 L83.6,286.9 L84.4,286.7 L85.2,286.6 L86.0,286.4 L86.8,286.2 L87.6,286.1 L88.4,285.9 L89.2,285.8 L90.0,285.6 L90.8,285.5 L91.6,285.4 L92.4,285.2 L93.2,285.1 L94.0,285.0 L94.8,284.9 L95.6,284.8 L96.4,284.7 L97.2,284.7 L98.0,284.6 L98.8,284.6 L99.6,284.5 L100.4,284.5 L101.2,284.4 L102.0,284.4 L102.8,284.4 L103.6,284.3 L104.4,284.3 L105.2,284.3 L106.0,284.3 L106.8,284.3 L107.6,284.3 L108.4,284.3 L109.2,284.2 L110.0,284.2 L110.8,284.2 L111.6,284.2 L112.4,284.2 L113.2,284.2 L114.0,284.2 L114.8,284.2 L115.6,284.1 L116.4,284.1 L117.2,284.1 L118.0,284.1 L118.8,284.1 L119.6,284.1 L120.4,284.0 L121.2,284.0 L122.0,284.0 L122.8,284.0 L123.6,284.0 L124.4,284.0 L125.2,284.0 L126.0,284.0 L126.8,283.9 L127.6,283.9 L128.4,283.9 L129.2,283.9 L130.0,283.9 L130.8,283.9 L131.6,283.9 L132.4,283.9 L133.2,283.9 L134.0,283.9 L134.8,283.9 L135.6,283.9 L136.4,283.8 L137.2,283.8 L138.0,283.8 L138.8,283.8 L139.6,283.8 L140.4,283.8 L141.2,283.8 L142.0,283.8 L142.8,283.8 L143.6,283.8 L144.4,283.8 L145.2,283.8 L146.0,283.8 L146.8,283.8 L147.6,283.7 L148.4,283.7 L149.2,283.7 L150.0,283.7 L150.8,283.7 L151.6,283.7 L152.4,283.7 L153.2,283.7 L154.0,283.7 L154.8,283.7 L155.6,283.7 L156.4,283.7 L157.2,283.7 L158.0,283.7 L158.8,283.7 L159.6,283.8 L160.4,283.8 L161.2,283.8 L162.0,283.8 L162.8,283.8 L163.6,283.8 L164.4,283.9 L165.2,283.9 L166.0,283.9 L166.8,283.9 L167.6,283.9 L168.4,284.0 L169.2,284.0 L170.0,284.0 L170.8,284.0 L171.6,284.0 L172.4,284.0 L173.2,284.0 L174.0,284.0 L174.8,284.0 L175.6,284.0 L176.4,284.0 L177.2,284.0 L178.0,284.0 L178.8,284.0 L179.6,284.0 L180.4,284.0 L181.2,284.0 L182.0,283.9 L182.8,283.9 L183.6,283.9 L184.4,283.9 L185.2,283.9 L186.0,283.9 L186.8,283.9 L187.6,283.8 L188.4,283.8 L189.2,283.8 L190.0,283.8 L190.8,283.8 L191.6,283.8 L192.4,283.8 L193.2,283.8 L194.0,283.8 L194.8,283.7 L195.6,283.7 L196.4,283.7 L197.2,283.7 L198.0,283.7 L198.8,283.7 L199.6,283.7 L200.4,283.7 L201.2,283.7 L202.0,283.7 L202.8,283.7 L203.6,283.7 L204.4,283.7 L205.2,283.8 L206.0,283.8 L206.8,283.8 L207.6,283.8 L208.4,283.8 L209.2,283.8 L210.0,283.8 L210.8,283.8 L211.6,283.8 L212.4,283.8 L213.2,283.8 L214.0,283.9 L214.8,283.9 L215.6,283.9 L216.4,283.9 L217.2,283.9 L218.0,283.9 L218.8,283.9 L219.6,284.0 L220.4,284.0 L221.2,284.0 L222.0,284.0 L222.8,284.0 L223.6,284.0 L224.4,284.1 L225.2,284.1 L226.0,284.1 L226.8,284.1 L227.6,284.1 L228.4,284.2 L229.2,284.2 L230.0,284.2 L230.8,284.2 L231.6,284.2 L232.4,284.3 L233.2,284.3 L234.0,284.3 L234.8,284.3 L235.6,284.3 L236.4,284.4 L237.2,284.4 L238.0,284.4 L238.8,284.4 L239.6,284.5 L240.4,284.5 L241.2,284.5 L242.0,284.5 L242.8,284.6 L243.6,284.6 L244.4,284.6 L245.2,284.6 L246.0,284.7 L246.8,284.7 L247.6,284.7 L248.4,284.7 L249.2,284.8 L250.0,284.8 L250.8,284.8 L251.6,284.9 L252.4,284.9 L253.2,284.9 L254.0,285.0 L254.8,285.0 L255.6,285.0 L256.4,285.1 L257.2,285.1 L258.0,285.1 L258.8,285.2 L259.6,285.2 L260.4,285.3 L261.2,285.3 L262.0,285.4 L262.8,285.4 L263.6,285.4 L264.4,285.5 L265.2,285.5 L266.0,285.6 L266.8,285.7 L267.6,285.7 L268.4,285.8 L269.2,285.8 L270.0,285.9 L270.8,285.9 L271.6,286.0 L272.4,286.1 L273.2,286.1 L274.0,286.2 L274.8,286.3 L275.6,286.4 L276.4,286.4 L277.2,286.5 L278.0,286.6 L278.8,286.7 L279.6,286.8 L280.4,286.9 L281.2,286.9 L282.0,287.0 L282.8,287.1 L283.6,287.2 L284.4,287.3 L285.2,287.4 L286.0,287.5 L286.8,287.6 L287.6,287.6 L288.4,287.7 L289.2,287.8 L290.0,287.9 L290.8,287.9 L291.6,288.0 L292.4,288.1 L293.2,288.1 L294.0,288.2 L294.8,288.3 L295.6,288.3 L296.4,288.3 L297.2,288.4 L298.0,288.4 L298.8,288.4 L299.6,288.5 L300.4,288.5 L301.2,288.5 L302.0,288.6 L302.8,288.6 L303.6,288.6 L304.4,288.7 L305.2,288.7 L306.0,288.7 L306.8,288.8 L307.6,288.8 L308.4,288.9 L309.2,288.9 L310.0,288.9 L310.8,288.9 L311.6,288.9 L312.4,288.9 L313.2,288.9 L314.0,288.9 L314.8,288.9 L315.6,288.9 L316.4,288.9 L317.2,288.9 L318.0,288.9 L318.8,288.9 L319.6,288.9 L320.4,288.9 L321.2,288.9 L322.0,288.9 L322.8,288.9 L323.6,288.9 L324.4,288.9 L325.2,288.9 L326.0,288.9 L326.8,288.9 L327.6,288.9 L328.4,288.9 L329.2,288.9 L330.0,288.9 L330.8,288.9 L331.6,288.9 L332.4,288.9 L333.2,288.9 L334.0,288.9" stroke="#d6336c"/>
<path d="M42.0,288.9 L42.8,288.9 L43.6,288.9 L44.4,288.9 L45.2,288.9 L46.0,288.9 L46.8,288.9 L47.6,288.9 L48.4,288.9 L49.2,288.9 L50.0,288.9 L50.8,288.9 L51.6,288.9 L52.4,288.9 L53.2,288.9 L54.0,288.9 L54.8,288.9 L55.6,288.9 L56.4,288.9 L57.2,288.9 L58.0,288.9 L58.8,288.9 L59.6,288.9 L60.4,288.9 L61.2,288.9 L62.0,288.9 L62.8,288.9 L63.6,288.9 L64.4,288.8 L65.2,288.8 L66.0,288.7 L66.8,288.7 L67.6,288.6 L68.4,288.6 L69.2,288.5 L70.0,288.4 L70.8,288.4 L71.6,288.3 L72.4,288.2 L73.2,288.1 L74.0,288.0 L74.8,287.9 L75.6,287.8 L76.4,287.7 L77.3,287.5 L78.1,287.4 L78.9,287.2 L79.7,287.1 L80.5,286.9 L81.3,286.8 L82.1,286.6 L82.9,286.4 L83.7,286.3 L84.5,286.1 L85.3,285.9 L86.1,285.8 L86.9,285.6 L87.7,285.5 L88.5,285.4 L89.3,285.2 L90.1,285.1 L90.9,285.0 L91.7,284.9 L92.5,284.8 L93.3,284.7 L94.1,284.6 L94.9,284.5 L95.7,284.4 L96.5,284.4 L97.3,284.3 L98.1,284.2 L98.9,284.2 L99.7,284.1 L100.5,284.1 L101.3,284.0 L102.1,284.0 L102.9,284.0 L103.7,283.9 L104.5,283.9 L105.3,283.9 L106.1,283.9 L106.9,283.9 L107.7,283.9 L108.5,283.8 L109.3,283.8 L110.1,283.8 L110.9,283.8 L111.7,283.8 L112.5,283.8 L113.3,283.8 L114.1,283.8 L114.9,283.8 L115.7,283.7 L116.5,283.7 L117.3,283.7 L118.1,283.7 L118.9,283.7 L119.7,283.7 L120.5,283.6 L121.3,283.6 L122.1,283.6 L122.9,283.6 L123.7,283.6 L124.5,283.6 L125.3,283.6 L126.1,283.6 L126.9,283.5 L127.7,283.5 L128.5,283.5 L129.3,283.5 L130.1,283.5 L130.9,283.5 L131.7,283.5 L132.5,283.5 L133.3,283.5 L134.1,283.5 L134.9,283.5 L135.7,283.5 L136.5,283.5 L137.3,283.5 L138.1,283.4 L138.9,283.4 L139.7,283.4 L140.5,283.4 L141.3,283.4 L142.1,283.4 L142.9,283.4 L143.7,283.4 L144.5,283.4 L145.3,283.3 L146.1,283.3 L147.0,283.3 L147.8,283.3 L148.6,283.3 L149.4,283.3 L150.2,283.2 L151.0,283.2 L151.8,283.2 L152.6,283.2 L153.4,283.2 L154.2,283.2 L155.0,283.2 L155.8,283.2 L156.6,283.2 L157.4,283.2 L158.2,283.2 L159.0,283.2 L159.8,283.2 L160.6,283.2 L161.4,283.2 L162.2,283.2 L163.0,283.2 L163.8,283.2 L164.6,283.3 L165.4,283.3 L166.2,283.3 L167.0,283.3 L167.8,283.3 L168.6,283.4 L169.4,283.4 L170.2,283.4 L171.0,283.4 L171.8,283.4 L172.6,283.4 L173.4,283.5 L174.2,283.5 L175.0,283.5 L175.8,283.5 L176.6,283.5 L177.4,283.5 L178.2,283.5 L179.0,283.5 L179.8,283.5 L180.6,283.5 L181.4,283.5 L182.2,283.4 L183.0,283.4 L183.8,283.4 L184.6,283.4 L185.4,283.4 L186.2,283.4 L187.0,283.4 L187.8,283.4 L188.6,283.4 L189.4,283.4 L190.2,283.4 L191.0,283.4 L191.8,283.4 L192.6,283.4 L193.4,283.4 L194.2,283.4 L195.0,283.4 L195.8,283.4 L196.6,283.4 L197.4,283.4 L198.2,283.4 L199.0,283.4 L199.8,283.4 L200.6,283.4 L201.4,283.5 L202.2,283.5 L203.0,283.5 L203.8,283.5 L204.6,283.5 L205.4,283.5 L206.2,283.5 L207.0,283.5 L207.8,283.6 L208.6,283.6 L209.4,283.6 L210.2,283.6 L211.0,283.6 L211.8,283.6 L212.6,283.7 L213.4,283.7 L214.2,283.7 L215.0,283.7 L215.9,283.7 L216.7,283.8 L217.5,283.8 L218.3,283.8 L219.1,283.8 L219.9,283.9 L220.7,283.9 L221.5,283.9 L222.3,283.9 L223.1,284.0 L223.9,284.0 L224.7,284.0 L225.5,284.0 L226.3,284.1 L227.1,284.1 L227.9,284.1 L228.7,284.2 L229.5,284.2 L230.3,284.2 L231.1,284.2 L231.9,284.3 L232.7,284.3 L233.5,284.3 L234.3,284.4 L235.1,284.4 L235.9,284.4 L236.7,284.4 L237.5,284.5 L238.3,284.5 L239.1,284.5 L239.9,284.6 L240.7,284.6 L241.5,284.6 L242.3,284.7 L243.1,284.7 L243.9,284.7 L244.7,284.8 L245.5,284.8 L246.3,284.8 L247.1,284.9 L247.9,284.9 L248.7,284.9 L249.5,285.0 L250.3,285.0 L251.1,285.1 L251.9,285.1 L252.7,285.1 L253.5,285.2 L254.3,285.2 L255.1,285.3 L255.9,285.3 L256.7,285.4 L257.5,285.4 L258.3,285.5 L259.1,285.5 L259.9,285.6 L260.7,285.6 L261.5,285.7 L262.3,285.7 L263.1,285.8 L263.9,285.8 L264.7,285.9 L265.5,286.0 L266.3,286.0 L267.1,286.1 L267.9,286.2 L268.7,286.2 L269.5,286.3 L270.3,286.4 L271.1,286.4 L271.9,286.5 L272.7,286.6 L273.5,286.6 L274.3,286.7 L275.1,286.8 L275.9,286.8 L276.7,286.9 L277.5,287.0 L278.3,287.0 L279.1,287.1 L279.9,287.2 L280.7,287.2 L281.5,287.3 L282.3,287.3 L283.1,287.4 L283.9,287.5 L284.7,287.5 L285.6,287.6 L286.4,287.7 L287.2,287.8 L288.0,287.8 L288.8,287.9 L289.6,288.0 L290.4,288.1 L291.2,288.1 L292.0,288.2 L292.8,288.3 L293.6,288.4 L294.4,288.4 L295.2,288.5 L296.0,288.5 L296.8,288.6 L297.6,288.6 L298.4,288.7 L299.2,288.7 L300.0,288.8 L300.8,288.8 L301.6,288.8 L302.4,288.9 L303.2,288.9 L304.0,288.9 L304.8,288.9 L305.6,288.9 L306.4,288.9 L307.2,288.9 L308.0,288.9 L308.8,288.9 L309.6,288.9 L310.4,288.9 L311.2,288.9 L312.0,288.9 L312.8,288.9 L313.6,288.9 L314.4,288.9 L315.2,288.9 L316.0,288.9 L316.8,288.9 L317.6,288.9 L318.4,288.9 L319.2,288.9 L320.0,288.9" stroke="#f07f2e"/>
</g>
<line x1="41.80" y1="288.90" x2="339.30" y2="288.90" stroke="#b0b0b0" stroke-width="0.8"/>
<text x="68.80" y="300.00" font-size="9.40" fill="#626262" text-anchor="middle">1</text>
<text x="122.95" y="300.00" font-size="9.40" fill="#626262" text-anchor="middle">2</text>
<text x="177.10" y="300.00" font-size="9.40" fill="#626262" text-anchor="middle">3</text>
<text x="231.25" y="300.00" font-size="9.40" fill="#626262" text-anchor="middle">4</text>
<text x="285.40" y="300.00" font-size="9.40" fill="#626262" text-anchor="middle">5</text>
<text x="339.55" y="300.00" font-size="9.40" fill="#626262" text-anchor="middle">6</text>
<text x="38.00" y="253.90" font-size="9.40" fill="#626262" text-anchor="end">2</text>
<text x="38.00" y="292.90" font-size="9.40" fill="#626262" text-anchor="end">0</text>
<text x="190.55" y="312.70" font-size="9.40" fill="#626262" text-anchor="middle">beta_l1_l2</text>
<clipPath id="c5"><rect x="378.50" y="220.60" width="297.50" height="68.50"/></clipPath>
<clipPath id="h5"><rect x="378.00" y="220.60" width="298.00" height="68.50"/></clipPath>
<g clip-path="url(#c5)">
<line x1="405.40" y1="220.60" x2="405.40" y2="288.90" stroke="#2a2a2a" stroke-width="0.75"/>
<line x1="444.03" y1="220.60" x2="444.03" y2="288.90" stroke="#2a2a2a" stroke-width="0.75"/>
<line x1="482.66" y1="220.60" x2="482.66" y2="288.90" stroke="#2a2a2a" stroke-width="0.75"/>
<line x1="521.29" y1="220.60" x2="521.29" y2="288.90" stroke="#2a2a2a" stroke-width="0.75"/>
<line x1="559.91" y1="220.60" x2="559.91" y2="288.90" stroke="#2a2a2a" stroke-width="0.75"/>
<line x1="598.54" y1="220.60" x2="598.54" y2="288.90" stroke="#2a2a2a" stroke-width="0.75"/>
<line x1="637.17" y1="220.60" x2="637.17" y2="288.90" stroke="#2a2a2a" stroke-width="0.75"/>
<line x1="675.80" y1="220.60" x2="675.80" y2="288.90" stroke="#2a2a2a" stroke-width="0.75"/>
</g>
<g clip-path="url(#h5)">
<line x1="377.50" y1="220.50" x2="676.80" y2="220.50" stroke="#2a2a2a" stroke-width="0.75"/>
<line x1="377.50" y1="243.40" x2="676.80" y2="243.40" stroke="#2a2a2a" stroke-width="0.75"/>
<line x1="377.50" y1="266.40" x2="676.80" y2="266.40" stroke="#2a2a2a" stroke-width="0.75"/>
</g>
<g clip-path="url(#c5)" fill="none" stroke-width="1.4" stroke-linejoin="round" stroke-linecap="butt">
<path d="M651.7,288.9 L652.1,288.5 L652.5,288.0 L652.9,287.4 L653.3,286.7 L653.7,285.7 L654.2,284.6 L654.6,283.5 L655.0,282.2 L655.4,281.0 L655.8,279.8 L656.2,278.6 L656.6,277.3 L657.0,275.8 L657.4,274.0 L657.8,271.8 L658.2,269.3 L658.6,266.5 L659.0,263.6 L659.4,260.4 L659.8,256.9 L660.2,253.4 L660.6,249.6 L661.1,245.8 L661.5,242.5 L661.9,239.7 L662.3,237.1 L662.7,235.0 L663.1,233.3 L663.5,231.7 L663.9,230.6 L664.3,230.3 L664.7,231.4 L665.1,233.7 L665.5,236.7 L665.9,241.5 L666.3,249.8 L666.7,258.8 L667.1,266.6 L667.5,273.6 L668.0,280.5 L668.4,287.1" stroke="#9bdb3b"/>
<path d="M599.7,288.9 L600.1,288.9 L600.5,288.9 L600.9,288.9 L601.3,288.9 L601.7,288.8 L602.1,288.8 L602.5,288.8 L602.9,288.7 L603.3,288.7 L603.7,288.7 L604.1,288.6 L604.5,288.6 L604.9,288.5 L605.3,288.4 L605.7,288.4 L606.1,288.3 L606.5,288.2 L606.9,288.1 L607.3,288.0 L607.7,287.9 L608.1,287.8 L608.5,287.7 L608.9,287.5 L609.3,287.4 L609.7,287.3 L610.1,287.1 L610.5,286.9 L610.9,286.7 L611.3,286.5 L611.7,286.3 L612.1,286.0 L612.5,285.8 L612.9,285.5 L613.3,285.3 L613.7,285.0 L614.1,284.8 L614.5,284.6 L614.9,284.4 L615.3,284.1 L615.7,283.9 L616.1,283.7 L616.5,283.5 L616.9,283.3 L617.3,283.0 L617.7,282.8 L618.1,282.6 L618.5,282.4 L618.9,282.2 L619.3,282.0 L619.7,281.9 L620.2,281.7 L620.6,281.6 L621.0,281.4 L621.4,281.3 L621.8,281.2 L622.2,281.1 L622.6,281.0 L623.0,280.9 L623.4,280.8 L623.8,280.7 L624.2,280.6 L624.6,280.5 L625.0,280.4 L625.4,280.3 L625.8,280.2 L626.2,280.2 L626.6,280.1 L627.0,280.0 L627.4,279.9 L627.8,279.8 L628.2,279.7 L628.6,279.7 L629.0,279.6 L629.4,279.5 L629.8,279.4 L630.2,279.4 L630.6,279.3 L631.0,279.2 L631.4,279.1 L631.8,279.0 L632.2,279.0 L632.6,278.9 L633.0,278.8 L633.4,278.7 L633.8,278.6 L634.2,278.5 L634.6,278.4 L635.0,278.3 L635.4,278.2 L635.8,278.2 L636.2,278.1 L636.6,278.0 L637.0,277.9 L637.4,277.9 L637.8,277.8 L638.2,277.8 L638.6,277.7 L639.0,277.7 L639.4,277.6 L639.8,277.6 L640.2,277.6 L640.6,277.5 L641.0,277.5 L641.4,277.5 L641.8,277.4 L642.2,277.4 L642.6,277.4 L643.0,277.4 L643.4,277.4 L643.8,277.4 L644.2,277.4 L644.6,277.4 L645.0,277.4 L645.4,277.4 L645.8,277.4 L646.2,277.4 L646.6,277.4 L647.0,277.4 L647.4,277.4 L647.8,277.4 L648.2,277.4 L648.6,277.4 L649.0,277.4 L649.4,277.4 L649.8,277.4 L650.2,277.4 L650.6,277.4 L651.0,277.4 L651.4,277.4 L651.8,277.4 L652.2,277.4 L652.6,277.4 L653.0,277.4 L653.4,277.5 L653.8,277.6 L654.2,277.9 L654.6,278.3 L655.0,278.7 L655.4,279.0 L655.8,279.5 L656.2,280.0 L656.6,280.6 L657.0,281.2 L657.4,281.8 L657.8,282.5 L658.2,283.2 L658.6,283.9 L659.0,284.6 L659.4,285.1 L659.8,285.7 L660.2,286.1 L660.6,286.6 L661.0,287.0 L661.4,287.4 L661.8,287.7 L662.2,287.9 L662.6,288.0 L663.0,288.2 L663.4,288.3 L663.8,288.5 L664.2,288.6 L664.6,288.7 L665.0,288.7 L665.4,288.8 L665.8,288.8 L666.2,288.8 L666.6,288.8 L667.0,288.9 L667.4,288.9 L667.8,288.9 L668.2,288.9 L668.7,288.9 L669.1,288.9" stroke="#2a9d8f"/>
<path d="M558.0,288.9 L558.8,288.9 L559.6,288.9 L560.4,288.9 L561.2,288.9 L562.0,288.9 L562.8,288.9 L563.6,288.9 L564.4,288.9 L565.2,288.8 L566.0,288.8 L566.8,288.7 L567.6,288.6 L568.4,288.6 L569.2,288.5 L570.0,288.4 L570.8,288.3 L571.6,288.1 L572.4,288.0 L573.2,287.9 L574.0,287.7 L574.8,287.6 L575.6,287.5 L576.4,287.3 L577.2,287.2 L578.0,287.0 L578.8,286.9 L579.6,286.8 L580.4,286.6 L581.2,286.5 L582.0,286.4 L582.8,286.3 L583.6,286.2 L584.4,286.2 L585.2,286.1 L586.0,286.1 L586.8,286.0 L587.6,286.0 L588.4,285.9 L589.2,285.8 L590.0,285.7 L590.8,285.6 L591.6,285.5 L592.4,285.3 L593.2,285.2 L594.0,285.0 L594.8,284.8 L595.6,284.7 L596.4,284.5 L597.2,284.3 L598.0,284.2 L598.8,284.1 L599.6,283.9 L600.4,283.8 L601.2,283.7 L602.0,283.6 L602.8,283.6 L603.6,283.5 L604.4,283.5 L605.2,283.4 L606.0,283.4 L606.8,283.4 L607.6,283.3 L608.4,283.3 L609.2,283.3 L610.0,283.3 L610.8,283.3 L611.6,283.3 L612.4,283.3 L613.2,283.3 L614.0,283.2 L614.8,283.2 L615.6,283.2 L616.4,283.2 L617.2,283.2 L618.0,283.2 L618.8,283.1 L619.6,283.1 L620.4,283.1 L621.2,283.0 L622.0,283.0 L622.8,283.0 L623.6,282.9 L624.4,282.9 L625.2,282.9 L626.0,282.8 L626.8,282.8 L627.6,282.7 L628.4,282.7 L629.2,282.7 L630.0,282.6 L630.8,282.6 L631.6,282.5 L632.4,282.5 L633.2,282.5 L634.0,282.5 L634.8,282.4 L635.6,282.4 L636.4,282.4 L637.2,282.4 L638.0,282.4 L638.8,282.4 L639.6,282.4 L640.4,282.5 L641.2,282.5 L642.0,282.6 L642.8,282.7 L643.6,282.8 L644.4,283.0 L645.2,283.1 L646.0,283.3 L646.8,283.5 L647.6,283.7 L648.4,284.0 L649.2,284.2 L650.0,284.5 L650.8,284.7 L651.6,285.0 L652.4,285.3 L653.2,285.5 L654.0,285.8 L654.8,286.1 L655.6,286.3 L656.4,286.6 L657.2,286.8 L658.0,287.0 L658.8,287.3 L659.6,287.5 L660.4,287.7 L661.2,287.8 L662.0,288.0 L662.8,288.2 L663.6,288.3 L664.4,288.4 L665.2,288.5 L666.0,288.6 L666.8,288.7 L667.6,288.8 L668.4,288.8 L669.2,288.8 L670.0,288.9 L670.8,288.9 L671.6,288.9 L672.4,288.9 L673.2,288.9" stroke="#4338b5"/>
<path d="M520.0,288.9 L520.8,288.9 L521.6,288.9 L522.4,288.9 L523.2,288.9 L524.0,288.9 L524.8,288.9 L525.6,288.9 L526.4,288.9 L527.2,288.8 L528.0,288.8 L528.8,288.8 L529.6,288.7 L530.4,288.7 L531.2,288.6 L532.1,288.6 L532.9,288.5 L533.7,288.5 L534.5,288.4 L535.3,288.3 L536.1,288.3 L536.9,288.2 L537.7,288.1 L538.5,288.0 L539.3,287.9 L540.1,287.8 L540.9,287.7 L541.7,287.6 L542.5,287.5 L543.3,287.4 L544.1,287.3 L544.9,287.2 L545.7,287.1 L546.5,287.0 L547.3,286.9 L548.1,286.8 L548.9,286.6 L549.7,286.5 L550.5,286.4 L551.3,286.3 L552.1,286.2 L552.9,286.1 L553.7,286.0 L554.5,285.9 L555.3,285.7 L556.2,285.6 L557.0,285.5 L557.8,285.4 L558.6,285.3 L559.4,285.2 L560.2,285.1 L561.0,285.0 L561.8,284.9 L562.6,284.8 L563.4,284.8 L564.2,284.7 L565.0,284.6 L565.8,284.5 L566.6,284.4 L567.4,284.3 L568.2,284.2 L569.0,284.1 L569.8,284.0 L570.6,283.9 L571.4,283.8 L572.2,283.8 L573.0,283.7 L573.8,283.6 L574.6,283.5 L575.4,283.4 L576.2,283.4 L577.0,283.3 L577.8,283.3 L578.6,283.2 L579.5,283.2 L580.3,283.2 L581.1,283.2 L581.9,283.2 L582.7,283.2 L583.5,283.3 L584.3,283.3 L585.1,283.3 L585.9,283.3 L586.7,283.4 L587.5,283.4 L588.3,283.4 L589.1,283.4 L589.9,283.4 L590.7,283.3 L591.5,283.3 L592.3,283.2 L593.1,283.2 L593.9,283.1 L594.7,283.0 L595.5,283.0 L596.3,282.9 L597.1,282.8 L597.9,282.7 L598.7,282.7 L599.5,282.6 L600.3,282.6 L601.1,282.6 L601.9,282.5 L602.8,282.5 L603.6,282.5 L604.4,282.6 L605.2,282.6 L606.0,282.6 L606.8,282.7 L607.6,282.8 L608.4,282.8 L609.2,282.9 L610.0,283.0 L610.8,283.1 L611.6,283.3 L612.4,283.4 L613.2,283.6 L614.0,283.7 L614.8,283.9 L615.6,284.1 L616.4,284.3 L617.2,284.5 L618.0,284.7 L618.8,284.9 L619.6,285.2 L620.4,285.4 L621.2,285.7 L622.0,286.0 L622.8,286.3 L623.6,286.6 L624.4,286.9 L625.2,287.1 L626.0,287.4 L626.9,287.6 L627.7,287.8 L628.5,288.0 L629.3,288.2 L630.1,288.3 L630.9,288.4 L631.7,288.5 L632.5,288.6 L633.3,288.7 L634.1,288.8 L634.9,288.8 L635.7,288.9 L636.5,288.9 L637.3,288.9 L638.1,288.9 L638.9,288.9 L639.7,288.9 L640.5,288.9 L641.3,288.9" stroke="#d6336c"/>
<path d="M518.0,288.9 L518.8,288.9 L519.6,288.9 L520.4,288.9 L521.2,288.9 L522.0,288.9 L522.8,288.9 L523.6,288.9 L524.4,288.9 L525.2,288.9 L526.0,288.8 L526.8,288.8 L527.6,288.8 L528.4,288.7 L529.2,288.7 L530.0,288.6 L530.8,288.5 L531.6,288.5 L532.4,288.4 L533.2,288.3 L534.0,288.2 L534.8,288.1 L535.6,288.0 L536.4,287.9 L537.2,287.8 L538.0,287.7 L538.8,287.6 L539.6,287.5 L540.4,287.3 L541.2,287.2 L542.0,287.1 L542.8,287.0 L543.7,286.9 L544.5,286.8 L545.3,286.7 L546.1,286.5 L546.9,286.4 L547.7,286.3 L548.5,286.2 L549.3,286.1 L550.1,286.0 L550.9,285.9 L551.7,285.8 L552.5,285.7 L553.3,285.6 L554.1,285.5 L554.9,285.4 L555.7,285.3 L556.5,285.2 L557.3,285.1 L558.1,285.0 L558.9,284.9 L559.7,284.8 L560.5,284.7 L561.3,284.6 L562.1,284.5 L562.9,284.4 L563.7,284.3 L564.5,284.2 L565.3,284.1 L566.1,284.0 L566.9,284.0 L567.7,283.9 L568.5,283.8 L569.3,283.7 L570.1,283.6 L570.9,283.5 L571.7,283.4 L572.5,283.3 L573.3,283.2 L574.1,283.2 L574.9,283.1 L575.7,283.0 L576.5,283.0 L577.3,282.9 L578.1,282.9 L578.9,282.8 L579.7,282.8 L580.5,282.8 L581.3,282.8 L582.1,282.8 L582.9,282.8 L583.7,282.9 L584.5,282.9 L585.3,282.9 L586.1,282.9 L586.9,283.0 L587.7,283.0 L588.5,283.0 L589.3,283.0 L590.1,283.0 L590.9,282.9 L591.7,282.9 L592.5,282.8 L593.3,282.8 L594.1,282.7 L595.0,282.6 L595.8,282.5 L596.6,282.5 L597.4,282.4 L598.2,282.3 L599.0,282.2 L599.8,282.2 L600.6,282.1 L601.4,282.1 L602.2,282.1 L603.0,282.1 L603.8,282.1 L604.6,282.2 L605.4,282.2 L606.2,282.3 L607.0,282.5 L607.8,282.6 L608.6,282.8 L609.4,283.0 L610.2,283.3 L611.0,283.6 L611.8,283.9 L612.6,284.2 L613.4,284.6 L614.2,285.0 L615.0,285.3 L615.8,285.7 L616.6,286.1 L617.4,286.5 L618.2,286.9 L619.0,287.2 L619.8,287.6 L620.6,287.8 L621.4,288.1 L622.2,288.3 L623.0,288.4 L623.8,288.5 L624.6,288.6 L625.4,288.7 L626.2,288.8 L627.0,288.8 L627.8,288.9 L628.6,288.9 L629.4,288.9 L630.2,288.9" stroke="#f07f2e"/>
</g>
<line x1="378.50" y1="288.90" x2="675.80" y2="288.90" stroke="#b0b0b0" stroke-width="0.8"/>
<text x="405.40" y="300.00" font-size="9.40" fill="#626262" text-anchor="middle">1</text>
<text x="444.03" y="300.00" font-size="9.40" fill="#626262" text-anchor="middle">2</text>
<text x="482.66" y="300.00" font-size="9.40" fill="#626262" text-anchor="middle">3</text>
<text x="521.29" y="300.00" font-size="9.40" fill="#626262" text-anchor="middle">4</text>
<text x="559.91" y="300.00" font-size="9.40" fill="#626262" text-anchor="middle">5</text>
<text x="598.54" y="300.00" font-size="9.40" fill="#626262" text-anchor="middle">6</text>
<text x="637.17" y="300.00" font-size="9.40" fill="#626262" text-anchor="middle">7</text>
<text x="675.80" y="300.00" font-size="9.40" fill="#626262" text-anchor="middle">8</text>
<text x="374.70" y="224.40" font-size="9.40" fill="#626262" text-anchor="end">6</text>
<text x="374.70" y="247.30" font-size="9.40" fill="#626262" text-anchor="end">4</text>
<text x="374.70" y="270.30" font-size="9.40" fill="#626262" text-anchor="end">2</text>
<text x="374.70" y="292.90" font-size="9.40" fill="#626262" text-anchor="end">0</text>
<text x="527.15" y="312.70" font-size="9.40" fill="#626262" text-anchor="middle">beta_l1_out</text>
<clipPath id="c6"><rect x="41.80" y="330.60" width="297.70" height="68.70"/></clipPath>
<clipPath id="h6"><rect x="41.30" y="330.60" width="298.20" height="68.70"/></clipPath>
<g clip-path="url(#c6)">
<line x1="90.60" y1="330.60" x2="90.60" y2="399.10" stroke="#2a2a2a" stroke-width="0.75"/>
<line x1="140.35" y1="330.60" x2="140.35" y2="399.10" stroke="#2a2a2a" stroke-width="0.75"/>
<line x1="190.10" y1="330.60" x2="190.10" y2="399.10" stroke="#2a2a2a" stroke-width="0.75"/>
<line x1="239.85" y1="330.60" x2="239.85" y2="399.10" stroke="#2a2a2a" stroke-width="0.75"/>
<line x1="289.60" y1="330.60" x2="289.60" y2="399.10" stroke="#2a2a2a" stroke-width="0.75"/>
<line x1="339.35" y1="330.60" x2="339.35" y2="399.10" stroke="#2a2a2a" stroke-width="0.75"/>
</g>
<g clip-path="url(#h6)">
<line x1="40.80" y1="330.60" x2="340.30" y2="330.60" stroke="#2a2a2a" stroke-width="0.75"/>
<line x1="40.80" y1="353.50" x2="340.30" y2="353.50" stroke="#2a2a2a" stroke-width="0.75"/>
<line x1="40.80" y1="376.35" x2="340.30" y2="376.35" stroke="#2a2a2a" stroke-width="0.75"/>
</g>
<g clip-path="url(#c6)" fill="none" stroke-width="1.4" stroke-linejoin="round" stroke-linecap="butt">
<path d="M222.0,399.1 L222.8,399.1 L223.6,399.1 L224.4,399.0 L225.2,398.9 L226.0,398.8 L226.8,398.5 L227.6,398.2 L228.4,397.8 L229.2,397.2 L230.0,396.5 L230.8,395.6 L231.7,394.5 L232.5,393.2 L233.3,391.6 L234.1,389.7 L234.9,387.4 L235.7,384.7 L236.5,381.7 L237.3,378.3 L238.1,374.6 L238.9,370.5 L239.7,366.2 L240.5,361.7 L241.3,357.3 L242.1,353.0 L242.9,348.9 L243.7,345.2 L244.5,341.9 L245.3,339.2 L246.1,337.3 L246.9,336.4 L247.7,336.0 L248.5,336.1 L249.4,336.6 L250.2,337.7 L251.0,339.5 L251.8,342.1 L252.6,345.4 L253.4,349.3 L254.2,354.2 L255.0,359.8 L255.8,365.6 L256.6,370.8 L257.4,375.4 L258.2,379.4 L259.0,383.0 L259.8,386.3 L260.6,389.1 L261.4,391.6 L262.2,393.5 L263.0,394.9 L263.8,395.9 L264.6,396.6 L265.4,397.1 L266.2,397.5 L267.1,397.9 L267.9,398.3 L268.7,398.6 L269.5,398.9 L270.3,399.1 L271.1,399.1 L271.9,399.1 L272.7,399.1 L273.5,399.1 L274.3,399.1 L275.1,399.1 L275.9,399.0 L276.7,398.8 L277.5,398.6 L278.3,398.3 L279.1,397.9 L279.9,397.4 L280.7,396.9 L281.5,396.2 L282.3,395.4 L283.1,394.4 L283.9,393.1 L284.8,391.5 L285.6,389.7 L286.4,387.7 L287.2,385.6 L288.0,383.3 L288.8,380.8 L289.6,378.1 L290.4,375.0 L291.2,371.6 L292.0,368.0 L292.8,364.4 L293.6,360.9 L294.4,357.4 L295.2,354.2 L296.0,351.2 L296.8,348.4 L297.6,346.0 L298.4,343.9 L299.2,342.2 L300.0,340.9 L300.8,340.1 L301.6,339.7 L302.5,339.6 L303.3,339.9 L304.1,340.6 L304.9,341.7 L305.7,343.3 L306.5,345.4 L307.3,347.9 L308.1,350.8 L308.9,354.1 L309.7,357.6 L310.5,361.3 L311.3,365.1 L312.1,368.9 L312.9,372.6 L313.7,376.1 L314.5,379.5 L315.3,382.6 L316.1,385.4 L316.9,387.9 L317.7,390.2 L318.5,392.1 L319.3,393.6 L320.2,394.9 L321.0,396.0 L321.8,396.8 L322.6,397.4 L323.4,397.9 L324.2,398.3 L325.0,398.6 L325.8,398.8 L326.6,398.9 L327.4,399.0 L328.2,399.1 L329.0,399.1" stroke="#9bdb3b"/>
<path d="M124.7,399.1 L125.5,399.0 L126.3,399.0 L127.1,399.0 L127.9,399.0 L128.7,399.0 L129.5,399.0 L130.3,398.9 L131.1,398.9 L131.9,398.8 L132.7,398.7 L133.5,398.6 L134.3,398.5 L135.1,398.4 L135.9,398.2 L136.7,398.1 L137.5,397.9 L138.3,397.7 L139.1,397.4 L139.9,397.1 L140.7,396.7 L141.5,396.1 L142.3,395.5 L143.1,394.7 L143.9,393.9 L144.7,393.0 L145.5,392.2 L146.3,391.4 L147.1,390.6 L147.9,389.8 L148.7,389.1 L149.5,388.3 L150.3,387.5 L151.1,386.8 L151.9,386.1 L152.7,385.5 L153.5,385.0 L154.3,384.5 L155.1,384.1 L155.9,383.7 L156.7,383.3 L157.5,383.0 L158.3,382.7 L159.1,382.3 L159.9,382.0 L160.7,381.7 L161.5,381.4 L162.3,381.1 L163.1,380.8 L163.9,380.5 L164.7,380.2 L165.5,380.0 L166.3,379.7 L167.1,379.4 L167.9,379.1 L168.7,378.8 L169.5,378.4 L170.3,378.1 L171.1,377.7 L171.9,377.4 L172.7,377.0 L173.5,376.7 L174.3,376.4 L175.1,376.2 L175.9,375.9 L176.7,375.7 L177.5,375.5 L178.3,375.4 L179.1,375.2 L179.9,375.1 L180.7,375.0 L181.5,374.9 L182.3,374.8 L183.1,374.8 L183.9,374.7 L184.7,374.6 L185.5,374.6 L186.3,374.5 L187.1,374.4 L187.9,374.3 L188.7,374.1 L189.5,373.9 L190.3,373.7 L191.1,373.5 L191.9,373.3 L192.7,373.0 L193.5,372.8 L194.3,372.5 L195.1,372.2 L195.9,371.9 L196.7,371.7 L197.5,371.4 L198.3,371.2 L199.1,371.0 L199.9,370.8 L200.7,370.7 L201.5,370.6 L202.3,370.6 L203.1,370.6 L203.9,370.7 L204.7,370.8 L205.5,370.9 L206.3,371.0 L207.1,371.2 L207.9,371.4 L208.7,371.6 L209.5,371.8 L210.3,372.1 L211.1,372.4 L211.9,372.6 L212.7,372.9 L213.5,373.2 L214.3,373.5 L215.1,373.9 L215.9,374.2 L216.7,374.5 L217.6,374.9 L218.4,375.2 L219.2,375.6 L220.0,376.0 L220.8,376.4 L221.6,376.8 L222.4,377.2 L223.2,377.7 L224.0,378.2 L224.8,378.6 L225.6,379.1 L226.4,379.6 L227.2,380.1 L228.0,380.6 L228.8,381.1 L229.6,381.6 L230.4,382.1 L231.2,382.5 L232.0,383.0 L232.8,383.4 L233.6,383.8 L234.4,384.1 L235.2,384.4 L236.0,384.7 L236.8,385.0 L237.6,385.3 L238.4,385.5 L239.2,385.7 L240.0,386.0 L240.8,386.2 L241.6,386.4 L242.4,386.6 L243.2,386.7 L244.0,386.9 L244.8,387.1 L245.6,387.3 L246.4,387.5 L247.2,387.7 L248.0,387.9 L248.8,388.1 L249.6,388.4 L250.4,388.7 L251.2,389.0 L252.0,389.4 L252.8,389.8 L253.6,390.3 L254.4,390.8 L255.2,391.4 L256.0,392.0 L256.8,392.5 L257.6,393.1 L258.4,393.7 L259.2,394.2 L260.0,394.7 L260.8,395.3 L261.6,395.7 L262.4,396.2 L263.2,396.6 L264.0,397.0 L264.8,397.3 L265.6,397.7 L266.4,397.9 L267.2,398.2 L268.0,398.4 L268.8,398.6 L269.6,398.7 L270.4,398.9 L271.2,399.0 L272.0,399.0 L272.8,399.1 L273.6,399.1 L274.4,399.1 L275.2,399.1 L276.0,399.1" stroke="#2a9d8f"/>
<path d="M66.0,399.1 L66.8,399.1 L67.6,399.1 L68.4,399.1 L69.2,399.1 L70.0,399.1 L70.8,399.1 L71.6,399.1 L72.4,399.1 L73.2,399.1 L74.0,399.1 L74.8,399.1 L75.6,399.1 L76.4,399.1 L77.2,399.1 L78.0,399.1 L78.8,399.1 L79.6,399.1 L80.4,399.0 L81.2,398.9 L82.0,398.7 L82.8,398.5 L83.6,398.2 L84.4,398.0 L85.2,397.8 L86.0,397.5 L86.8,397.2 L87.6,397.0 L88.4,396.7 L89.2,396.5 L90.0,396.2 L90.8,396.0 L91.6,395.7 L92.4,395.5 L93.2,395.3 L94.0,395.1 L94.8,394.9 L95.6,394.7 L96.4,394.5 L97.2,394.4 L98.0,394.2 L98.8,394.1 L99.6,393.9 L100.4,393.8 L101.2,393.6 L102.0,393.5 L102.8,393.4 L103.6,393.2 L104.4,393.1 L105.2,393.0 L106.0,392.8 L106.8,392.7 L107.6,392.6 L108.4,392.4 L109.2,392.3 L110.0,392.2 L110.8,392.0 L111.6,391.9 L112.4,391.8 L113.2,391.6 L114.0,391.5 L114.8,391.3 L115.6,391.1 L116.4,390.9 L117.2,390.6 L118.0,390.4 L118.8,390.1 L119.6,389.8 L120.4,389.4 L121.2,389.1 L122.0,388.7 L122.8,388.3 L123.6,387.8 L124.4,387.4 L125.2,386.9 L126.0,386.4 L126.8,385.8 L127.6,385.2 L128.4,384.7 L129.2,384.0 L130.0,383.4 L130.8,382.8 L131.6,382.1 L132.4,381.4 L133.2,380.8 L134.0,380.1 L134.8,379.4 L135.6,378.8 L136.4,378.1 L137.2,377.5 L138.0,376.9 L138.8,376.4 L139.6,375.8 L140.4,375.4 L141.2,374.9 L142.0,374.5 L142.8,374.2 L143.6,373.8 L144.4,373.5 L145.2,373.3 L146.0,373.0 L146.8,372.8 L147.6,372.6 L148.4,372.5 L149.2,372.3 L150.0,372.2 L150.8,372.0 L151.6,371.9 L152.4,371.9 L153.2,371.8 L154.0,371.8 L154.8,371.9 L155.6,371.9 L156.4,372.0 L157.2,372.2 L158.0,372.3 L158.8,372.5 L159.6,372.6 L160.4,372.8 L161.2,373.0 L162.0,373.1 L162.8,373.3 L163.6,373.4 L164.4,373.6 L165.2,373.7 L166.0,373.8 L166.8,373.9 L167.6,374.0 L168.4,374.2 L169.2,374.3 L170.0,374.5 L170.8,374.7 L171.6,374.9 L172.4,375.1 L173.2,375.3 L174.0,375.6 L174.8,375.8 L175.6,376.1 L176.4,376.4 L177.2,376.6 L178.0,376.9 L178.8,377.1 L179.6,377.4 L180.4,377.7 L181.2,377.9 L182.0,378.2 L182.8,378.5 L183.6,378.7 L184.4,379.0 L185.2,379.3 L186.0,379.6 L186.8,379.9 L187.6,380.1 L188.4,380.4 L189.2,380.7 L190.0,380.9 L190.8,381.2 L191.6,381.4 L192.4,381.6 L193.2,381.8 L194.0,382.0 L194.8,382.2 L195.6,382.4 L196.4,382.6 L197.2,382.9 L198.0,383.1 L198.8,383.4 L199.6,383.7 L200.4,384.0 L201.2,384.4 L202.0,384.8 L202.8,385.2 L203.6,385.7 L204.4,386.1 L205.2,386.6 L206.0,387.0 L206.8,387.4 L207.6,387.9 L208.4,388.3 L209.2,388.7 L210.0,389.1 L210.8,389.5 L211.6,389.9 L212.4,390.3 L213.2,390.6 L214.0,391.0 L214.8,391.4 L215.6,391.7 L216.4,392.1 L217.2,392.4 L218.0,392.8 L218.8,393.1 L219.6,393.4 L220.4,393.7 L221.2,393.9 L222.0,394.2 L222.8,394.4 L223.6,394.6 L224.4,394.8 L225.2,395.0 L226.0,395.2 L226.8,395.3 L227.6,395.4 L228.4,395.6 L229.2,395.7 L230.0,395.8 L230.8,395.9 L231.6,396.0 L232.4,396.1 L233.2,396.2 L234.0,396.3 L234.8,396.4 L235.6,396.5 L236.4,396.6 L237.2,396.7 L238.0,396.8 L238.8,396.9 L239.6,397.0 L240.4,397.0 L241.2,397.1 L242.0,397.2 L242.8,397.3 L243.6,397.4 L244.4,397.5 L245.2,397.6 L246.0,397.7 L246.8,397.8 L247.6,397.9 L248.4,398.0 L249.2,398.1 L250.0,398.2 L250.8,398.3 L251.6,398.4 L252.4,398.4 L253.2,398.5 L254.0,398.6 L254.8,398.6 L255.6,398.7 L256.4,398.7 L257.2,398.8 L258.0,398.8 L258.8,398.9 L259.6,398.9 L260.4,398.9 L261.2,399.0 L262.0,399.0 L262.8,399.0 L263.6,399.1 L264.4,399.1 L265.2,399.1 L266.0,399.1 L266.8,399.1 L267.6,399.1 L268.4,399.1 L269.2,399.1 L270.0,399.1" stroke="#4338b5"/>
<path d="M64.0,399.1 L64.8,399.1 L65.6,399.1 L66.4,399.1 L67.2,399.1 L68.0,399.1 L68.8,399.1 L69.6,399.1 L70.4,399.1 L71.2,399.1 L72.0,399.1 L72.8,399.1 L73.6,399.1 L74.4,399.1 L75.2,399.1 L76.0,399.1 L76.8,399.1 L77.6,399.1 L78.4,399.1 L79.2,398.9 L80.0,398.8 L80.8,398.6 L81.6,398.3 L82.4,398.1 L83.2,397.8 L84.0,397.6 L84.8,397.3 L85.6,397.0 L86.4,396.8 L87.2,396.5 L88.0,396.3 L88.9,396.1 L89.7,395.9 L90.5,395.7 L91.3,395.5 L92.1,395.4 L92.9,395.3 L93.7,395.2 L94.5,395.2 L95.3,395.1 L96.1,395.0 L96.9,394.9 L97.7,394.8 L98.5,394.6 L99.3,394.4 L100.1,394.2 L100.9,393.9 L101.7,393.6 L102.5,393.2 L103.3,392.9 L104.1,392.5 L104.9,392.2 L105.7,391.8 L106.5,391.5 L107.3,391.2 L108.1,390.8 L108.9,390.5 L109.7,390.1 L110.5,389.7 L111.3,389.3 L112.1,388.9 L112.9,388.5 L113.7,388.1 L114.5,387.7 L115.3,387.3 L116.1,386.9 L116.9,386.5 L117.7,386.1 L118.5,385.7 L119.3,385.2 L120.1,384.8 L120.9,384.4 L121.7,383.9 L122.5,383.5 L123.3,383.1 L124.1,382.6 L124.9,382.2 L125.7,381.7 L126.5,381.3 L127.3,380.8 L128.1,380.4 L128.9,379.9 L129.7,379.4 L130.5,378.9 L131.3,378.5 L132.1,378.0 L132.9,377.5 L133.7,377.0 L134.5,376.6 L135.3,376.1 L136.1,375.7 L136.9,375.3 L137.7,374.9 L138.6,374.5 L139.4,374.2 L140.2,373.8 L141.0,373.5 L141.8,373.2 L142.6,372.9 L143.4,372.6 L144.2,372.4 L145.0,372.2 L145.8,372.0 L146.6,371.9 L147.4,371.7 L148.2,371.6 L149.0,371.5 L149.8,371.4 L150.6,371.4 L151.4,371.4 L152.2,371.5 L153.0,371.6 L153.8,371.7 L154.6,371.8 L155.4,372.0 L156.2,372.1 L157.0,372.2 L157.8,372.4 L158.6,372.6 L159.4,372.7 L160.2,372.9 L161.0,373.0 L161.8,373.2 L162.6,373.4 L163.4,373.5 L164.2,373.7 L165.0,373.9 L165.8,374.1 L166.6,374.3 L167.4,374.5 L168.2,374.7 L169.0,374.9 L169.8,375.1 L170.6,375.3 L171.4,375.6 L172.2,375.8 L173.0,376.1 L173.8,376.3 L174.6,376.6 L175.4,376.8 L176.2,377.1 L177.0,377.4 L177.8,377.6 L178.6,377.9 L179.4,378.2 L180.2,378.4 L181.0,378.7 L181.8,379.0 L182.6,379.3 L183.4,379.5 L184.2,379.8 L185.0,380.0 L185.8,380.3 L186.6,380.6 L187.4,380.9 L188.3,381.1 L189.1,381.4 L189.9,381.7 L190.7,381.9 L191.5,382.2 L192.3,382.5 L193.1,382.7 L193.9,383.0 L194.7,383.3 L195.5,383.5 L196.3,383.8 L197.1,384.0 L197.9,384.3 L198.7,384.5 L199.5,384.8 L200.3,385.1 L201.1,385.5 L201.9,385.9 L202.7,386.3 L203.5,386.7 L204.3,387.1 L205.1,387.5 L205.9,387.9 L206.7,388.4 L207.5,388.8 L208.3,389.2 L209.1,389.6 L209.9,390.0 L210.7,390.4 L211.5,390.8 L212.3,391.2 L213.1,391.6 L213.9,392.0 L214.7,392.3 L215.5,392.7 L216.3,393.0 L217.1,393.3 L217.9,393.6 L218.7,393.9 L219.5,394.2 L220.3,394.5 L221.1,394.7 L221.9,395.0 L222.7,395.2 L223.5,395.4 L224.3,395.6 L225.1,395.8 L225.9,395.9 L226.7,396.1 L227.5,396.2 L228.3,396.3 L229.1,396.5 L229.9,396.6 L230.7,396.7 L231.5,396.8 L232.3,396.9 L233.1,397.0 L233.9,397.1 L234.7,397.2 L235.5,397.3 L236.3,397.4 L237.1,397.5 L238.0,397.6 L238.8,397.7 L239.6,397.8 L240.4,397.8 L241.2,397.9 L242.0,398.0 L242.8,398.1 L243.6,398.1 L244.4,398.2 L245.2,398.3 L246.0,398.3 L246.8,398.4 L247.6,398.4 L248.4,398.5 L249.2,398.5 L250.0,398.6 L250.8,398.6 L251.6,398.7 L252.4,398.7 L253.2,398.8 L254.0,398.8 L254.8,398.9 L255.6,398.9 L256.4,398.9 L257.2,399.0 L258.0,399.0 L258.8,399.1 L259.6,399.1 L260.4,399.1 L261.2,399.1 L262.0,399.1" stroke="#d6336c"/>
<path d="M60.0,399.1 L60.8,399.1 L61.6,399.1 L62.4,399.1 L63.2,399.0 L64.0,399.0 L64.8,398.9 L65.6,398.9 L66.4,398.8 L67.2,398.8 L68.0,398.8 L68.8,398.7 L69.6,398.7 L70.4,398.7 L71.2,398.6 L72.0,398.6 L72.8,398.6 L73.6,398.5 L74.4,398.5 L75.2,398.5 L76.0,398.4 L76.8,398.4 L77.6,398.3 L78.4,398.2 L79.2,398.1 L80.0,397.9 L80.8,397.8 L81.6,397.6 L82.4,397.4 L83.2,397.2 L84.1,396.9 L84.9,396.7 L85.7,396.5 L86.5,396.2 L87.3,396.0 L88.1,395.7 L88.9,395.5 L89.7,395.3 L90.5,395.1 L91.3,394.9 L92.1,394.8 L92.9,394.6 L93.7,394.5 L94.5,394.3 L95.3,394.2 L96.1,394.1 L96.9,393.9 L97.7,393.7 L98.5,393.5 L99.3,393.3 L100.1,393.1 L100.9,392.8 L101.7,392.5 L102.5,392.1 L103.3,391.8 L104.1,391.4 L104.9,391.0 L105.7,390.7 L106.5,390.3 L107.3,389.9 L108.1,389.4 L108.9,389.0 L109.7,388.6 L110.5,388.1 L111.3,387.6 L112.1,387.1 L112.9,386.7 L113.7,386.2 L114.5,385.7 L115.3,385.3 L116.1,384.8 L116.9,384.3 L117.7,383.9 L118.5,383.4 L119.3,382.9 L120.1,382.4 L120.9,382.0 L121.7,381.5 L122.5,381.1 L123.3,380.6 L124.1,380.2 L124.9,379.7 L125.7,379.3 L126.5,378.9 L127.3,378.4 L128.1,378.0 L128.9,377.6 L129.7,377.2 L130.5,376.7 L131.4,376.3 L132.2,375.9 L133.0,375.4 L133.8,375.0 L134.6,374.6 L135.4,374.2 L136.2,373.8 L137.0,373.4 L137.8,373.0 L138.6,372.7 L139.4,372.3 L140.2,372.0 L141.0,371.7 L141.8,371.4 L142.6,371.2 L143.4,371.0 L144.2,370.7 L145.0,370.6 L145.8,370.4 L146.6,370.2 L147.4,370.1 L148.2,370.0 L149.0,369.9 L149.8,369.9 L150.6,369.9 L151.4,370.0 L152.2,370.1 L153.0,370.2 L153.8,370.4 L154.6,370.6 L155.4,370.8 L156.2,371.0 L157.0,371.3 L157.8,371.5 L158.6,371.7 L159.4,372.0 L160.2,372.2 L161.0,372.5 L161.8,372.7 L162.6,372.9 L163.4,373.2 L164.2,373.4 L165.0,373.6 L165.8,373.8 L166.6,374.0 L167.4,374.3 L168.2,374.5 L169.0,374.8 L169.8,375.0 L170.6,375.3 L171.4,375.6 L172.2,375.9 L173.0,376.2 L173.8,376.6 L174.6,376.9 L175.4,377.2 L176.2,377.5 L177.0,377.8 L177.8,378.2 L178.6,378.5 L179.5,378.8 L180.3,379.1 L181.1,379.4 L181.9,379.7 L182.7,380.0 L183.5,380.3 L184.3,380.6 L185.1,380.9 L185.9,381.2 L186.7,381.4 L187.5,381.7 L188.3,382.0 L189.1,382.3 L189.9,382.6 L190.7,382.9 L191.5,383.2 L192.3,383.5 L193.1,383.9 L193.9,384.2 L194.7,384.5 L195.5,384.9 L196.3,385.2 L197.1,385.6 L197.9,386.0 L198.7,386.4 L199.5,386.8 L200.3,387.3 L201.1,387.9 L201.9,388.4 L202.7,389.0 L203.5,389.6 L204.3,390.2 L205.1,390.8 L205.9,391.3 L206.7,391.8 L207.5,392.3 L208.3,392.7 L209.1,393.1 L209.9,393.5 L210.7,393.8 L211.5,394.2 L212.3,394.4 L213.1,394.7 L213.9,395.0 L214.7,395.2 L215.5,395.5 L216.3,395.7 L217.1,395.9 L217.9,396.1 L218.7,396.3 L219.5,396.5 L220.3,396.7 L221.1,396.8 L221.9,397.0 L222.7,397.1 L223.5,397.3 L224.3,397.4 L225.1,397.5 L225.9,397.7 L226.8,397.8 L227.6,397.9 L228.4,398.0 L229.2,398.1 L230.0,398.2 L230.8,398.3 L231.6,398.4 L232.4,398.5 L233.2,398.5 L234.0,398.6 L234.8,398.7 L235.6,398.7 L236.4,398.8 L237.2,398.8 L238.0,398.9 L238.8,398.9 L239.6,399.0 L240.4,399.0 L241.2,399.0 L242.0,399.1 L242.8,399.1 L243.6,399.1 L244.4,399.1 L245.2,399.1 L246.0,399.1 L246.8,399.1 L247.6,399.1 L248.4,399.1 L249.2,399.1 L250.0,399.1" stroke="#f07f2e"/>
</g>
<line x1="41.80" y1="399.10" x2="339.30" y2="399.10" stroke="#b0b0b0" stroke-width="0.8"/>
<text x="90.60" y="410.20" font-size="9.40" fill="#626262" text-anchor="middle">50</text>
<text x="140.35" y="410.20" font-size="9.40" fill="#626262" text-anchor="middle">100</text>
<text x="190.10" y="410.20" font-size="9.40" fill="#626262" text-anchor="middle">150</text>
<text x="239.85" y="410.20" font-size="9.40" fill="#626262" text-anchor="middle">200</text>
<text x="289.60" y="410.20" font-size="9.40" fill="#626262" text-anchor="middle">250</text>
<text x="339.35" y="410.20" font-size="9.40" fill="#626262" text-anchor="middle">300</text>
<text x="38.00" y="334.50" font-size="9.40" fill="#626262" text-anchor="end">0.03</text>
<text x="38.00" y="357.40" font-size="9.40" fill="#626262" text-anchor="end">0.02</text>
<text x="38.00" y="380.25" font-size="9.40" fill="#626262" text-anchor="end">0.01</text>
<text x="38.00" y="403.05" font-size="9.40" fill="#626262" text-anchor="end">0.00</text>
<text x="190.55" y="422.90" font-size="9.40" fill="#626262" text-anchor="middle">ETV1</text>
<clipPath id="c7"><rect x="378.50" y="330.60" width="297.50" height="68.70"/></clipPath>
<clipPath id="h7"><rect x="378.00" y="330.60" width="298.00" height="68.70"/></clipPath>
<g clip-path="url(#c7)">
<line x1="378.50" y1="330.60" x2="378.50" y2="399.10" stroke="#2a2a2a" stroke-width="0.75"/>
<line x1="411.53" y1="330.60" x2="411.53" y2="399.10" stroke="#2a2a2a" stroke-width="0.75"/>
<line x1="444.57" y1="330.60" x2="444.57" y2="399.10" stroke="#2a2a2a" stroke-width="0.75"/>
<line x1="477.60" y1="330.60" x2="477.60" y2="399.10" stroke="#2a2a2a" stroke-width="0.75"/>
<line x1="510.63" y1="330.60" x2="510.63" y2="399.10" stroke="#2a2a2a" stroke-width="0.75"/>
<line x1="543.67" y1="330.60" x2="543.67" y2="399.10" stroke="#2a2a2a" stroke-width="0.75"/>
<line x1="576.70" y1="330.60" x2="576.70" y2="399.10" stroke="#2a2a2a" stroke-width="0.75"/>
<line x1="609.73" y1="330.60" x2="609.73" y2="399.10" stroke="#2a2a2a" stroke-width="0.75"/>
<line x1="642.77" y1="330.60" x2="642.77" y2="399.10" stroke="#2a2a2a" stroke-width="0.75"/>
<line x1="675.80" y1="330.60" x2="675.80" y2="399.10" stroke="#2a2a2a" stroke-width="0.75"/>
</g>
<g clip-path="url(#h7)">
<line x1="377.50" y1="360.30" x2="676.80" y2="360.30" stroke="#2a2a2a" stroke-width="0.75"/>
</g>
<g clip-path="url(#c7)" fill="none" stroke-width="1.4" stroke-linejoin="round" stroke-linecap="butt">
<path d="M385.0,399.0 L385.4,397.5 L385.8,395.8 L386.2,393.9 L386.6,391.9 L387.0,389.5 L387.4,386.8 L387.8,384.2 L388.2,381.5 L388.6,378.8 L389.0,376.0 L389.4,373.2 L389.8,370.2 L390.2,367.0 L390.7,363.5 L391.1,359.8 L391.5,356.2 L391.9,352.6 L392.3,348.8 L392.7,345.3 L393.1,342.6 L393.5,340.4 L393.9,338.6 L394.3,337.3 L394.7,336.4 L395.1,335.8 L395.5,335.4 L395.9,335.6 L396.3,336.5 L396.7,337.7 L397.1,339.3 L397.5,341.6 L397.9,344.4 L398.3,347.7 L398.7,351.9 L399.1,356.3 L399.5,360.9 L399.9,365.8 L400.3,370.4 L400.7,374.4 L401.2,378.2 L401.6,381.7 L402.0,384.7 L402.4,387.4 L402.8,389.9 L403.2,392.1 L403.6,393.9 L404.0,395.4 L404.4,396.8 L404.8,397.9 L405.2,398.6 L405.6,398.9 L406.0,399.1 L406.4,399.1" stroke="#9bdb3b"/>
<path d="M379.0,399.0 L379.8,399.0 L380.6,399.1 L381.4,399.1 L382.2,399.0 L383.0,398.8 L383.8,398.6 L384.6,398.2 L385.4,397.7 L386.2,397.1 L387.1,396.3 L387.9,395.4 L388.7,394.4 L389.5,393.4 L390.3,392.2 L391.1,391.1 L391.9,390.0 L392.7,389.0 L393.5,388.1 L394.3,387.3 L395.1,386.6 L395.9,386.1 L396.7,385.7 L397.5,385.4 L398.3,385.3 L399.1,385.2 L399.9,385.2 L400.7,385.2 L401.5,385.2 L402.4,385.2 L403.2,385.2 L404.0,385.2 L404.8,385.1 L405.6,385.1 L406.4,385.0 L407.2,384.9 L408.0,384.8 L408.8,384.7 L409.6,384.6 L410.4,384.5 L411.2,384.4 L412.0,384.4 L412.8,384.5 L413.6,384.6 L414.4,384.7 L415.2,384.9 L416.0,385.2 L416.8,385.5 L417.7,385.9 L418.5,386.2 L419.3,386.6 L420.1,387.0 L420.9,387.4 L421.7,387.8 L422.5,388.2 L423.3,388.6 L424.1,389.0 L424.9,389.4 L425.7,389.7 L426.5,390.1 L427.3,390.4 L428.1,390.7 L428.9,391.0 L429.7,391.3 L430.5,391.6 L431.3,391.8 L432.2,392.0 L433.0,392.2 L433.8,392.4 L434.6,392.6 L435.4,392.8 L436.2,393.0 L437.0,393.3 L437.8,393.5 L438.6,393.8 L439.4,394.1 L440.2,394.4 L441.0,394.6 L441.8,394.9 L442.6,395.2 L443.4,395.5 L444.2,395.8 L445.0,396.1 L445.8,396.3 L446.6,396.6 L447.5,396.8 L448.3,397.1 L449.1,397.3 L449.9,397.5 L450.7,397.6 L451.5,397.8 L452.3,397.9 L453.1,398.0 L453.9,398.1 L454.7,398.3 L455.5,398.3 L456.3,398.4 L457.1,398.5 L457.9,398.6 L458.7,398.7 L459.5,398.7 L460.3,398.8 L461.1,398.8 L461.9,398.9 L462.8,398.9 L463.6,399.0 L464.4,399.0 L465.2,399.0 L466.0,399.1 L466.8,399.1 L467.6,399.1 L468.4,399.1 L469.2,399.1 L470.0,399.1" stroke="#2a9d8f"/>
<path d="M378.4,399.0 L379.2,398.9 L380.0,398.8 L380.8,398.7 L381.6,398.6 L382.4,398.5 L383.2,398.4 L384.0,398.3 L384.8,398.2 L385.6,398.1 L386.4,397.9 L387.2,397.8 L388.0,397.7 L388.8,397.5 L389.6,397.3 L390.4,397.2 L391.2,397.0 L392.0,396.8 L392.8,396.7 L393.6,396.5 L394.4,396.3 L395.2,396.1 L396.0,395.9 L396.8,395.7 L397.6,395.5 L398.4,395.4 L399.2,395.2 L400.0,395.0 L400.8,394.8 L401.6,394.7 L402.4,394.5 L403.3,394.4 L404.1,394.2 L404.9,394.1 L405.7,394.0 L406.5,393.9 L407.3,393.8 L408.1,393.7 L408.9,393.6 L409.7,393.5 L410.5,393.5 L411.3,393.4 L412.1,393.4 L412.9,393.3 L413.7,393.3 L414.5,393.2 L415.3,393.2 L416.1,393.2 L416.9,393.2 L417.7,393.2 L418.5,393.2 L419.3,393.2 L420.1,393.2 L420.9,393.2 L421.7,393.2 L422.5,393.2 L423.3,393.2 L424.1,393.2 L424.9,393.2 L425.7,393.2 L426.5,393.2 L427.3,393.3 L428.1,393.3 L428.9,393.3 L429.7,393.3 L430.5,393.3 L431.3,393.3 L432.1,393.4 L432.9,393.4 L433.7,393.4 L434.5,393.4 L435.3,393.4 L436.1,393.5 L436.9,393.5 L437.7,393.5 L438.5,393.5 L439.3,393.6 L440.1,393.6 L440.9,393.6 L441.7,393.7 L442.5,393.7 L443.3,393.7 L444.1,393.8 L444.9,393.8 L445.7,393.9 L446.5,393.9 L447.3,393.9 L448.1,394.0 L448.9,394.0 L449.7,394.1 L450.5,394.1 L451.3,394.2 L452.2,394.2 L453.0,394.3 L453.8,394.3 L454.6,394.3 L455.4,394.4 L456.2,394.4 L457.0,394.5 L457.8,394.5 L458.6,394.5 L459.4,394.6 L460.2,394.6 L461.0,394.7 L461.8,394.7 L462.6,394.7 L463.4,394.8 L464.2,394.8 L465.0,394.8 L465.8,394.9 L466.6,394.9 L467.4,394.9 L468.2,395.0 L469.0,395.0 L469.8,395.0 L470.6,395.1 L471.4,395.1 L472.2,395.1 L473.0,395.2 L473.8,395.2 L474.6,395.2 L475.4,395.3 L476.2,395.3 L477.0,395.4 L477.8,395.4 L478.6,395.5 L479.4,395.5 L480.2,395.6 L481.0,395.7 L481.8,395.7 L482.6,395.8 L483.4,395.8 L484.2,395.9 L485.0,396.0 L485.8,396.1 L486.6,396.1 L487.4,396.2 L488.2,396.3 L489.0,396.3 L489.8,396.4 L490.6,396.5 L491.4,396.6 L492.2,396.6 L493.0,396.7 L493.8,396.8 L494.6,396.8 L495.4,396.9 L496.2,396.9 L497.0,397.0 L497.8,397.1 L498.6,397.1 L499.4,397.2 L500.2,397.2 L501.1,397.3 L501.9,397.3 L502.7,397.3 L503.5,397.4 L504.3,397.4 L505.1,397.4 L505.9,397.5 L506.7,397.5 L507.5,397.5 L508.3,397.5 L509.1,397.6 L509.9,397.6 L510.7,397.6 L511.5,397.6 L512.3,397.7 L513.1,397.7 L513.9,397.7 L514.7,397.7 L515.5,397.7 L516.3,397.8 L517.1,397.8 L517.9,397.8 L518.7,397.8 L519.5,397.9 L520.3,397.9 L521.1,397.9 L521.9,397.9 L522.7,397.9 L523.5,397.9 L524.3,398.0 L525.1,398.0 L525.9,398.0 L526.7,398.0 L527.5,398.0 L528.3,398.0 L529.1,398.0 L529.9,398.1 L530.7,398.1 L531.5,398.1 L532.3,398.1 L533.1,398.1 L533.9,398.1 L534.7,398.1 L535.5,398.1 L536.3,398.1 L537.1,398.1 L537.9,398.1 L538.7,398.1 L539.5,398.2 L540.3,398.2 L541.1,398.2 L541.9,398.2 L542.7,398.2 L543.5,398.2 L544.3,398.2 L545.1,398.2 L545.9,398.2 L546.7,398.3 L547.5,398.3 L548.3,398.3 L549.1,398.3 L550.0,398.3 L550.8,398.3 L551.6,398.3 L552.4,398.4 L553.2,398.4 L554.0,398.4 L554.8,398.4 L555.6,398.5 L556.4,398.5 L557.2,398.5 L558.0,398.5 L558.8,398.6 L559.6,398.6 L560.4,398.6 L561.2,398.6 L562.0,398.7 L562.8,398.7 L563.6,398.7 L564.4,398.8 L565.2,398.8 L566.0,398.8 L566.8,398.9 L567.6,398.9 L568.4,398.9 L569.2,399.0 L570.0,399.0 L570.8,399.1 L571.6,399.1 L572.4,399.1 L573.2,399.1 L574.0,399.1" stroke="#4338b5"/>
<path d="M402.0,399.1 L402.8,399.1 L403.6,399.1 L404.4,399.1 L405.2,399.1 L406.0,399.1 L406.8,399.1 L407.6,399.1 L408.4,399.1 L409.2,399.1 L410.0,399.1 L410.8,399.1 L411.6,399.1 L412.4,399.1 L413.2,399.0 L414.0,399.0 L414.8,398.9 L415.6,398.8 L416.4,398.8 L417.2,398.7 L418.0,398.6 L418.8,398.4 L419.6,398.3 L420.4,398.2 L421.2,398.0 L422.0,397.9 L422.8,397.7 L423.6,397.5 L424.4,397.3 L425.2,397.1 L426.0,396.8 L426.8,396.6 L427.6,396.3 L428.5,396.1 L429.3,395.8 L430.1,395.6 L430.9,395.4 L431.7,395.1 L432.5,394.9 L433.3,394.7 L434.1,394.5 L434.9,394.4 L435.7,394.3 L436.5,394.1 L437.3,394.0 L438.1,394.0 L438.9,393.9 L439.7,393.8 L440.5,393.8 L441.3,393.7 L442.1,393.6 L442.9,393.6 L443.7,393.5 L444.5,393.4 L445.3,393.4 L446.1,393.3 L446.9,393.3 L447.7,393.2 L448.5,393.2 L449.3,393.2 L450.1,393.1 L450.9,393.1 L451.7,393.1 L452.5,393.2 L453.3,393.2 L454.1,393.2 L454.9,393.2 L455.7,393.2 L456.5,393.3 L457.3,393.3 L458.1,393.3 L458.9,393.4 L459.7,393.4 L460.5,393.4 L461.3,393.4 L462.1,393.5 L462.9,393.5 L463.7,393.5 L464.5,393.5 L465.3,393.6 L466.1,393.6 L466.9,393.6 L467.7,393.6 L468.5,393.7 L469.3,393.7 L470.1,393.7 L470.9,393.7 L471.7,393.8 L472.5,393.8 L473.3,393.8 L474.1,393.9 L474.9,393.9 L475.7,393.9 L476.5,394.0 L477.3,394.0 L478.1,394.0 L478.9,394.1 L479.8,394.1 L480.6,394.2 L481.4,394.2 L482.2,394.3 L483.0,394.3 L483.8,394.4 L484.6,394.4 L485.4,394.5 L486.2,394.6 L487.0,394.6 L487.8,394.7 L488.6,394.7 L489.4,394.8 L490.2,394.9 L491.0,394.9 L491.8,395.0 L492.6,395.0 L493.4,395.1 L494.2,395.2 L495.0,395.2 L495.8,395.3 L496.6,395.3 L497.4,395.4 L498.2,395.4 L499.0,395.5 L499.8,395.5 L500.6,395.6 L501.4,395.7 L502.2,395.7 L503.0,395.8 L503.8,395.8 L504.6,395.9 L505.4,395.9 L506.2,396.0 L507.0,396.0 L507.8,396.0 L508.6,396.1 L509.4,396.1 L510.2,396.2 L511.0,396.2 L511.8,396.3 L512.6,396.3 L513.4,396.4 L514.2,396.4 L515.0,396.5 L515.8,396.5 L516.6,396.5 L517.4,396.6 L518.2,396.6 L519.0,396.7 L519.8,396.7 L520.6,396.7 L521.4,396.8 L522.2,396.8 L523.0,396.9 L523.8,396.9 L524.6,396.9 L525.4,397.0 L526.2,397.0 L527.0,397.0 L527.8,397.1 L528.6,397.1 L529.4,397.2 L530.2,397.2 L531.1,397.2 L531.9,397.3 L532.7,397.3 L533.5,397.3 L534.3,397.4 L535.1,397.4 L535.9,397.4 L536.7,397.5 L537.5,397.5 L538.3,397.6 L539.1,397.6 L539.9,397.6 L540.7,397.7 L541.5,397.7 L542.3,397.7 L543.1,397.8 L543.9,397.8 L544.7,397.9 L545.5,397.9 L546.3,397.9 L547.1,398.0 L547.9,398.0 L548.7,398.1 L549.5,398.1 L550.3,398.2 L551.1,398.2 L551.9,398.2 L552.7,398.3 L553.5,398.3 L554.3,398.4 L555.1,398.4 L555.9,398.4 L556.7,398.5 L557.5,398.5 L558.3,398.5 L559.1,398.6 L559.9,398.6 L560.7,398.6 L561.5,398.7 L562.3,398.7 L563.1,398.7 L563.9,398.7 L564.7,398.8 L565.5,398.8 L566.3,398.8 L567.1,398.8 L567.9,398.8 L568.7,398.9 L569.5,398.9 L570.3,398.9 L571.1,398.9 L571.9,398.9 L572.7,398.9 L573.5,398.9 L574.3,399.0 L575.1,399.0 L575.9,399.0 L576.7,399.0 L577.5,399.0 L578.3,399.0 L579.1,399.0 L579.9,399.0 L580.7,399.0 L581.5,399.0 L582.4,399.0 L583.2,399.1 L584.0,399.1 L584.8,399.1 L585.6,399.1 L586.4,399.1 L587.2,399.1 L588.0,399.1 L588.8,399.1 L589.6,399.1 L590.4,399.1 L591.2,399.1 L592.0,399.1 L592.8,399.1 L593.6,399.1 L594.4,399.1 L595.2,399.1 L596.0,399.1 L596.8,399.1 L597.6,399.1 L598.4,399.1 L599.2,399.1 L600.0,399.1 L600.8,399.1 L601.6,399.1 L602.4,399.1 L603.2,399.1 L604.0,399.1 L604.8,399.1 L605.6,399.1 L606.4,399.1 L607.2,399.1 L608.0,399.1" stroke="#d6336c"/>
<path d="M406.0,399.1 L406.8,399.1 L407.6,399.1 L408.4,399.1 L409.2,399.1 L410.0,399.1 L410.8,399.0 L411.6,399.0 L412.4,398.9 L413.2,398.9 L414.0,398.8 L414.8,398.7 L415.6,398.6 L416.4,398.5 L417.2,398.4 L418.0,398.3 L418.8,398.2 L419.6,398.0 L420.4,397.9 L421.2,397.7 L422.0,397.5 L422.8,397.3 L423.6,397.1 L424.4,396.9 L425.2,396.6 L426.0,396.4 L426.8,396.2 L427.6,395.9 L428.4,395.7 L429.3,395.4 L430.1,395.2 L430.9,395.0 L431.7,394.7 L432.5,394.5 L433.3,394.3 L434.1,394.1 L434.9,394.0 L435.7,393.9 L436.5,393.7 L437.3,393.6 L438.1,393.6 L438.9,393.5 L439.7,393.4 L440.5,393.4 L441.3,393.3 L442.1,393.2 L442.9,393.2 L443.7,393.1 L444.5,393.0 L445.3,393.0 L446.1,392.9 L446.9,392.9 L447.7,392.8 L448.5,392.8 L449.3,392.8 L450.1,392.7 L450.9,392.7 L451.7,392.7 L452.5,392.8 L453.3,392.8 L454.1,392.8 L454.9,392.8 L455.7,392.8 L456.5,392.9 L457.3,392.9 L458.1,392.9 L458.9,393.0 L459.7,393.0 L460.5,393.0 L461.3,393.0 L462.1,393.1 L462.9,393.1 L463.7,393.1 L464.5,393.1 L465.3,393.2 L466.1,393.2 L466.9,393.2 L467.7,393.2 L468.5,393.3 L469.3,393.3 L470.1,393.3 L470.9,393.3 L471.7,393.4 L472.5,393.4 L473.3,393.4 L474.1,393.5 L475.0,393.5 L475.8,393.5 L476.6,393.6 L477.4,393.6 L478.2,393.6 L479.0,393.7 L479.8,393.7 L480.6,393.8 L481.4,393.8 L482.2,393.9 L483.0,393.9 L483.8,394.0 L484.6,394.0 L485.4,394.1 L486.2,394.2 L487.0,394.2 L487.8,394.3 L488.6,394.3 L489.4,394.4 L490.2,394.5 L491.0,394.5 L491.8,394.6 L492.6,394.6 L493.4,394.7 L494.2,394.8 L495.0,394.8 L495.8,394.9 L496.6,394.9 L497.4,395.0 L498.2,395.0 L499.0,395.1 L499.8,395.2 L500.6,395.2 L501.4,395.3 L502.2,395.3 L503.0,395.4 L503.8,395.4 L504.6,395.5 L505.4,395.5 L506.2,395.6 L507.0,395.6 L507.8,395.7 L508.6,395.7 L509.4,395.7 L510.2,395.8 L511.0,395.8 L511.8,395.9 L512.6,395.9 L513.4,396.0 L514.2,396.0 L515.0,396.0 L515.8,396.1 L516.6,396.1 L517.4,396.2 L518.2,396.2 L519.0,396.2 L519.9,396.3 L520.7,396.3 L521.5,396.4 L522.3,396.4 L523.1,396.4 L523.9,396.5 L524.7,396.5 L525.5,396.6 L526.3,396.6 L527.1,396.7 L527.9,396.7 L528.7,396.7 L529.5,396.8 L530.3,396.8 L531.1,396.9 L531.9,396.9 L532.7,397.0 L533.5,397.0 L534.3,397.1 L535.1,397.1 L535.9,397.2 L536.7,397.2 L537.5,397.3 L538.3,397.3 L539.1,397.4 L539.9,397.4 L540.7,397.4 L541.5,397.5 L542.3,397.5 L543.1,397.6 L543.9,397.6 L544.7,397.7 L545.5,397.7 L546.3,397.8 L547.1,397.8 L547.9,397.8 L548.7,397.9 L549.5,397.9 L550.3,398.0 L551.1,398.0 L551.9,398.0 L552.7,398.1 L553.5,398.1 L554.3,398.1 L555.1,398.2 L555.9,398.2 L556.7,398.3 L557.5,398.3 L558.3,398.3 L559.1,398.4 L559.9,398.4 L560.7,398.4 L561.5,398.5 L562.3,398.5 L563.1,398.5 L563.9,398.6 L564.7,398.6 L565.6,398.6 L566.4,398.7 L567.2,398.7 L568.0,398.7 L568.8,398.8 L569.6,398.8 L570.4,398.8 L571.2,398.9 L572.0,398.9 L572.8,398.9 L573.6,398.9 L574.4,399.0 L575.2,399.0 L576.0,399.0 L576.8,399.0 L577.6,399.0 L578.4,399.1 L579.2,399.1 L580.0,399.1 L580.8,399.1 L581.6,399.1 L582.4,399.1 L583.2,399.1 L584.0,399.1 L584.8,399.1 L585.6,399.1 L586.4,399.1 L587.2,399.1 L588.0,399.1" stroke="#f07f2e"/>
</g>
<line x1="378.50" y1="399.10" x2="675.80" y2="399.10" stroke="#b0b0b0" stroke-width="0.8"/>
<text x="378.50" y="410.20" font-size="9.40" fill="#626262" text-anchor="middle">0.0</text>
<text x="411.53" y="410.20" font-size="9.40" fill="#626262" text-anchor="middle">0.1</text>
<text x="444.57" y="410.20" font-size="9.40" fill="#626262" text-anchor="middle">0.2</text>
<text x="477.60" y="410.20" font-size="9.40" fill="#626262" text-anchor="middle">0.3</text>
<text x="510.63" y="410.20" font-size="9.40" fill="#626262" text-anchor="middle">0.4</text>
<text x="543.67" y="410.20" font-size="9.40" fill="#626262" text-anchor="middle">0.5</text>
<text x="576.70" y="410.20" font-size="9.40" fill="#626262" text-anchor="middle">0.6</text>
<text x="609.73" y="410.20" font-size="9.40" fill="#626262" text-anchor="middle">0.7</text>
<text x="642.77" y="410.20" font-size="9.40" fill="#626262" text-anchor="middle">0.8</text>
<text x="675.80" y="410.20" font-size="9.40" fill="#626262" text-anchor="middle">0.9</text>
<text x="374.70" y="364.20" font-size="9.40" fill="#626262" text-anchor="end">20</text>
<text x="374.70" y="403.05" font-size="9.40" fill="#626262" text-anchor="end">0</text>
<text x="527.15" y="422.90" font-size="9.40" fill="#626262" text-anchor="middle">fETV0</text>
<clipPath id="c8"><rect x="41.80" y="440.80" width="297.70" height="68.80"/></clipPath>
<clipPath id="h8"><rect x="41.30" y="440.80" width="298.20" height="68.80"/></clipPath>
<g clip-path="url(#c8)">
<line x1="41.80" y1="440.80" x2="41.80" y2="509.40" stroke="#2a2a2a" stroke-width="0.75"/>
<line x1="91.40" y1="440.80" x2="91.40" y2="509.40" stroke="#2a2a2a" stroke-width="0.75"/>
<line x1="141.00" y1="440.80" x2="141.00" y2="509.40" stroke="#2a2a2a" stroke-width="0.75"/>
<line x1="190.60" y1="440.80" x2="190.60" y2="509.40" stroke="#2a2a2a" stroke-width="0.75"/>
<line x1="240.20" y1="440.80" x2="240.20" y2="509.40" stroke="#2a2a2a" stroke-width="0.75"/>
<line x1="289.80" y1="440.80" x2="289.80" y2="509.40" stroke="#2a2a2a" stroke-width="0.75"/>
<line x1="339.40" y1="440.80" x2="339.40" y2="509.40" stroke="#2a2a2a" stroke-width="0.75"/>
</g>
<g clip-path="url(#h8)">
<line x1="40.80" y1="454.60" x2="340.30" y2="454.60" stroke="#2a2a2a" stroke-width="0.75"/>
<line x1="40.80" y1="482.00" x2="340.30" y2="482.00" stroke="#2a2a2a" stroke-width="0.75"/>
</g>
<g clip-path="url(#c8)" fill="none" stroke-width="1.4" stroke-linejoin="round" stroke-linecap="butt">
<path d="M92.0,509.2 L92.8,509.2 L93.6,509.2 L94.4,509.2 L95.2,509.2 L96.0,509.2 L96.8,509.1 L97.6,509.0 L98.4,508.9 L99.2,508.8 L100.0,508.6 L100.8,508.4 L101.6,508.1 L102.4,507.8 L103.2,507.5 L104.0,507.1 L104.8,506.7 L105.6,506.2 L106.4,505.7 L107.2,505.2 L108.0,504.6 L108.8,504.0 L109.7,503.4 L110.5,502.6 L111.3,501.8 L112.1,500.9 L112.9,500.0 L113.7,498.9 L114.5,497.8 L115.3,496.7 L116.1,495.5 L116.9,494.2 L117.7,492.9 L118.5,491.6 L119.3,490.3 L120.1,489.0 L120.9,487.7 L121.7,486.5 L122.5,485.3 L123.3,484.1 L124.1,483.0 L124.9,481.9 L125.7,480.8 L126.5,479.8 L127.3,478.8 L128.1,477.9 L128.9,477.0 L129.7,476.1 L130.5,475.3 L131.3,474.5 L132.1,473.7 L132.9,473.0 L133.7,472.2 L134.5,471.6 L135.3,470.9 L136.1,470.3 L136.9,469.6 L137.7,469.0 L138.5,468.5 L139.3,467.9 L140.1,467.4 L140.9,466.9 L141.7,466.4 L142.5,466.0 L143.3,465.5 L144.2,465.1 L145.0,464.7 L145.8,464.4 L146.6,464.0 L147.4,463.7 L148.2,463.3 L149.0,463.0 L149.8,462.7 L150.6,462.5 L151.4,462.2 L152.2,462.0 L153.0,461.7 L153.8,461.5 L154.6,461.3 L155.4,461.1 L156.2,461.0 L157.0,460.8 L157.8,460.7 L158.6,460.5 L159.4,460.4 L160.2,460.3 L161.0,460.3 L161.8,460.2 L162.6,460.2 L163.4,460.2 L164.2,460.2 L165.0,460.3 L165.8,460.4 L166.6,460.6 L167.4,460.8 L168.2,461.1 L169.0,461.4 L169.8,461.9 L170.6,462.3 L171.4,462.8 L172.2,463.4 L173.0,463.9 L173.8,464.5 L174.6,465.1 L175.4,465.6 L176.2,466.2 L177.0,466.8 L177.8,467.4 L178.7,468.0 L179.5,468.6 L180.3,469.2 L181.1,469.8 L181.9,470.5 L182.7,471.1 L183.5,471.8 L184.3,472.5 L185.1,473.2 L185.9,473.9 L186.7,474.6 L187.5,475.3 L188.3,476.1 L189.1,477.0 L189.9,477.9 L190.7,478.9 L191.5,479.9 L192.3,481.1 L193.1,482.3 L193.9,483.6 L194.7,484.9 L195.5,486.2 L196.3,487.5 L197.1,488.8 L197.9,490.0 L198.7,491.2 L199.5,492.5 L200.3,493.6 L201.1,494.8 L201.9,495.9 L202.7,497.0 L203.5,498.0 L204.3,499.0 L205.1,500.0 L205.9,500.9 L206.7,501.8 L207.5,502.6 L208.3,503.3 L209.1,504.0 L209.9,504.6 L210.7,505.2 L211.5,505.7 L212.3,506.2 L213.2,506.6 L214.0,507.0 L214.8,507.3 L215.6,507.6 L216.4,507.9 L217.2,508.2 L218.0,508.4 L218.8,508.6 L219.6,508.7 L220.4,508.9 L221.2,509.0 L222.0,509.1 L222.8,509.1 L223.6,509.2 L224.4,509.2 L225.2,509.2 L226.0,509.3 L226.8,509.3 L227.6,509.2 L228.4,509.2 L229.2,509.2 L230.0,509.2" stroke="#9bdb3b"/>
<path d="M46.0,509.2 L46.8,509.2 L47.6,509.2 L48.4,509.2 L49.2,509.2 L50.0,509.2 L50.8,509.2 L51.6,509.2 L52.4,509.2 L53.2,509.2 L54.0,509.2 L54.8,509.2 L55.6,509.2 L56.4,509.2 L57.2,509.2 L58.0,509.1 L58.8,509.1 L59.6,509.1 L60.4,509.1 L61.2,509.0 L62.0,509.0 L62.8,509.0 L63.6,508.9 L64.4,508.9 L65.2,508.8 L66.0,508.8 L66.8,508.7 L67.6,508.7 L68.4,508.6 L69.2,508.5 L70.0,508.5 L70.8,508.4 L71.6,508.3 L72.4,508.2 L73.2,508.0 L74.0,507.9 L74.8,507.7 L75.6,507.6 L76.4,507.4 L77.2,507.2 L78.0,507.0 L78.8,506.8 L79.6,506.5 L80.4,506.3 L81.2,506.0 L82.0,505.7 L82.8,505.4 L83.6,505.0 L84.4,504.7 L85.2,504.3 L86.0,504.0 L86.8,503.6 L87.6,503.2 L88.4,502.8 L89.2,502.4 L90.0,501.9 L90.8,501.5 L91.6,501.0 L92.4,500.5 L93.2,499.9 L94.0,499.4 L94.8,498.8 L95.6,498.2 L96.4,497.7 L97.2,497.1 L98.0,496.6 L98.8,496.0 L99.6,495.5 L100.4,495.0 L101.2,494.5 L102.0,494.1 L102.8,493.6 L103.6,493.2 L104.5,492.8 L105.3,492.4 L106.1,492.0 L106.9,491.6 L107.7,491.2 L108.5,490.8 L109.3,490.5 L110.1,490.2 L110.9,489.8 L111.7,489.5 L112.5,489.2 L113.3,489.0 L114.1,488.7 L114.9,488.4 L115.7,488.2 L116.5,488.0 L117.3,487.7 L118.1,487.5 L118.9,487.3 L119.7,487.1 L120.5,486.9 L121.3,486.8 L122.1,486.6 L122.9,486.4 L123.7,486.3 L124.5,486.1 L125.3,486.0 L126.1,485.8 L126.9,485.7 L127.7,485.6 L128.5,485.5 L129.3,485.4 L130.1,485.2 L130.9,485.1 L131.7,485.0 L132.5,484.9 L133.3,484.9 L134.1,484.8 L134.9,484.7 L135.7,484.6 L136.5,484.5 L137.3,484.5 L138.1,484.4 L138.9,484.3 L139.7,484.3 L140.5,484.2 L141.3,484.2 L142.1,484.1 L142.9,484.1 L143.7,484.0 L144.5,484.0 L145.3,484.0 L146.1,483.9 L146.9,483.9 L147.7,483.9 L148.5,483.8 L149.3,483.8 L150.1,483.8 L150.9,483.8 L151.7,483.7 L152.5,483.7 L153.3,483.7 L154.1,483.7 L154.9,483.7 L155.7,483.6 L156.5,483.6 L157.3,483.6 L158.1,483.6 L158.9,483.6 L159.7,483.6 L160.5,483.6 L161.3,483.6 L162.1,483.6 L162.9,483.6 L163.7,483.6 L164.5,483.7 L165.3,483.7 L166.1,483.7 L166.9,483.7 L167.7,483.7 L168.5,483.8 L169.3,483.8 L170.1,483.8 L170.9,483.8 L171.7,483.9 L172.5,483.9 L173.3,483.9 L174.1,483.9 L174.9,484.0 L175.7,484.0 L176.5,484.0 L177.3,484.1 L178.1,484.1 L178.9,484.1 L179.7,484.2 L180.5,484.2 L181.3,484.3 L182.1,484.3 L182.9,484.4 L183.7,484.4 L184.5,484.5 L185.3,484.5 L186.1,484.6 L186.9,484.7 L187.7,484.7 L188.5,484.8 L189.3,484.9 L190.1,484.9 L190.9,485.0 L191.7,485.1 L192.5,485.2 L193.3,485.2 L194.1,485.3 L194.9,485.4 L195.7,485.5 L196.5,485.6 L197.3,485.7 L198.1,485.8 L198.9,485.9 L199.7,486.0 L200.5,486.1 L201.3,486.2 L202.1,486.3 L202.9,486.4 L203.7,486.5 L204.5,486.7 L205.3,486.8 L206.1,486.9 L206.9,487.0 L207.7,487.1 L208.5,487.2 L209.3,487.3 L210.1,487.4 L210.9,487.5 L211.7,487.6 L212.5,487.6 L213.3,487.7 L214.1,487.8 L214.9,487.9 L215.7,488.1 L216.5,488.2 L217.3,488.4 L218.1,488.6 L218.9,488.8 L219.8,489.0 L220.6,489.2 L221.4,489.4 L222.2,489.5 L223.0,489.7 L223.8,489.9 L224.6,490.1 L225.4,490.3 L226.2,490.5 L227.0,490.6 L227.8,490.8 L228.6,491.0 L229.4,491.2 L230.2,491.3 L231.0,491.5 L231.8,491.7 L232.6,491.9 L233.4,492.1 L234.2,492.3 L235.0,492.6 L235.8,492.8 L236.6,493.2 L237.4,493.6 L238.2,494.0 L239.0,494.4 L239.8,494.9 L240.6,495.5 L241.4,496.0 L242.2,496.6 L243.0,497.1 L243.8,497.7 L244.6,498.3 L245.4,498.9 L246.2,499.5 L247.0,500.1 L247.8,500.7 L248.6,501.3 L249.4,501.9 L250.2,502.5 L251.0,503.1 L251.8,503.7 L252.6,504.2 L253.4,504.8 L254.2,505.2 L255.0,505.7 L255.8,506.1 L256.6,506.4 L257.4,506.8 L258.2,507.1 L259.0,507.4 L259.8,507.6 L260.6,507.9 L261.4,508.1 L262.2,508.3 L263.0,508.5 L263.8,508.7 L264.6,508.8 L265.4,508.9 L266.2,509.0 L267.0,509.1 L267.8,509.2 L268.6,509.2 L269.4,509.3 L270.2,509.3 L271.0,509.3 L271.8,509.3 L272.6,509.4 L273.4,509.4 L274.2,509.4 L275.0,509.4" stroke="#2a9d8f"/>
<path d="M46.0,509.2 L46.8,509.2 L47.6,509.2 L48.4,509.3 L49.2,509.3 L50.0,509.3 L50.8,509.3 L51.6,509.3 L52.4,509.3 L53.2,509.4 L54.0,509.4 L54.8,509.4 L55.6,509.4 L56.4,509.3 L57.2,509.3 L58.0,509.3 L58.8,509.3 L59.6,509.3 L60.4,509.2 L61.2,509.2 L62.0,509.1 L62.8,509.1 L63.6,509.0 L64.4,509.0 L65.2,508.9 L66.0,508.8 L66.8,508.7 L67.6,508.6 L68.4,508.5 L69.2,508.4 L70.0,508.2 L70.9,508.1 L71.7,507.9 L72.5,507.8 L73.3,507.6 L74.1,507.5 L74.9,507.3 L75.7,507.1 L76.5,507.0 L77.3,506.8 L78.1,506.6 L78.9,506.4 L79.7,506.2 L80.5,506.0 L81.3,505.8 L82.1,505.6 L82.9,505.4 L83.7,505.2 L84.5,505.0 L85.3,504.8 L86.1,504.6 L86.9,504.4 L87.7,504.2 L88.5,504.0 L89.3,503.7 L90.1,503.5 L90.9,503.3 L91.7,503.0 L92.5,502.7 L93.3,502.3 L94.1,502.0 L94.9,501.6 L95.7,501.2 L96.5,500.8 L97.3,500.4 L98.1,500.0 L98.9,499.6 L99.7,499.1 L100.5,498.7 L101.3,498.4 L102.1,498.0 L102.9,497.6 L103.7,497.3 L104.5,496.9 L105.3,496.6 L106.1,496.3 L106.9,496.0 L107.7,495.7 L108.5,495.4 L109.3,495.2 L110.1,494.9 L110.9,494.7 L111.7,494.5 L112.5,494.2 L113.3,494.0 L114.1,493.8 L114.9,493.6 L115.7,493.5 L116.5,493.3 L117.3,493.1 L118.1,492.9 L118.9,492.8 L119.8,492.6 L120.6,492.4 L121.4,492.3 L122.2,492.1 L123.0,492.0 L123.8,491.8 L124.6,491.7 L125.4,491.6 L126.2,491.5 L127.0,491.4 L127.8,491.3 L128.6,491.2 L129.4,491.1 L130.2,491.0 L131.0,490.9 L131.8,490.8 L132.6,490.7 L133.4,490.7 L134.2,490.6 L135.0,490.6 L135.8,490.5 L136.6,490.5 L137.4,490.4 L138.2,490.4 L139.0,490.4 L139.8,490.4 L140.6,490.4 L141.4,490.4 L142.2,490.4 L143.0,490.5 L143.8,490.5 L144.6,490.6 L145.4,490.6 L146.2,490.7 L147.0,490.7 L147.8,490.8 L148.6,490.9 L149.4,490.9 L150.2,491.0 L151.0,491.1 L151.8,491.2 L152.6,491.2 L153.4,491.3 L154.2,491.4 L155.0,491.4 L155.8,491.5 L156.6,491.6 L157.4,491.6 L158.2,491.7 L159.0,491.7 L159.8,491.8 L160.6,491.8 L161.4,491.9 L162.2,491.9 L163.0,492.0 L163.8,492.0 L164.6,492.0 L165.4,492.1 L166.2,492.1 L167.0,492.1 L167.8,492.1 L168.7,492.2 L169.5,492.2 L170.3,492.2 L171.1,492.2 L171.9,492.2 L172.7,492.2 L173.5,492.2 L174.3,492.2 L175.1,492.2 L175.9,492.2 L176.7,492.2 L177.5,492.2 L178.3,492.2 L179.1,492.2 L179.9,492.2 L180.7,492.2 L181.5,492.2 L182.3,492.1 L183.1,492.1 L183.9,492.1 L184.7,492.1 L185.5,492.0 L186.3,492.0 L187.1,492.0 L187.9,491.9 L188.7,491.9 L189.5,491.9 L190.3,491.8 L191.1,491.8 L191.9,491.7 L192.7,491.7 L193.5,491.7 L194.3,491.6 L195.1,491.6 L195.9,491.6 L196.7,491.6 L197.5,491.6 L198.3,491.6 L199.1,491.6 L199.9,491.6 L200.7,491.6 L201.5,491.7 L202.3,491.7 L203.1,491.8 L203.9,491.9 L204.7,492.0 L205.5,492.0 L206.3,492.1 L207.1,492.2 L207.9,492.3 L208.7,492.3 L209.5,492.4 L210.3,492.4 L211.1,492.5 L211.9,492.5 L212.7,492.5 L213.5,492.5 L214.3,492.6 L215.1,492.6 L215.9,492.7 L216.7,492.7 L217.6,492.8 L218.4,492.8 L219.2,492.9 L220.0,492.9 L220.8,493.0 L221.6,493.0 L222.4,493.1 L223.2,493.1 L224.0,493.1 L224.8,493.1 L225.6,493.0 L226.4,493.0 L227.2,492.9 L228.0,492.8 L228.8,492.8 L229.6,492.7 L230.4,492.6 L231.2,492.6 L232.0,492.5 L232.8,492.5 L233.6,492.5 L234.4,492.5 L235.2,492.6 L236.0,492.6 L236.8,492.6 L237.6,492.7 L238.4,492.8 L239.2,492.8 L240.0,492.9 L240.8,493.0 L241.6,493.0 L242.4,493.1 L243.2,493.2 L244.0,493.2 L244.8,493.3 L245.6,493.4 L246.4,493.4 L247.2,493.5 L248.0,493.6 L248.8,493.7 L249.6,493.8 L250.4,493.9 L251.2,494.0 L252.0,494.1 L252.8,494.2 L253.6,494.4 L254.4,494.5 L255.2,494.7 L256.0,494.9 L256.8,495.0 L257.6,495.2 L258.4,495.4 L259.2,495.5 L260.0,495.7 L260.8,495.9 L261.6,496.1 L262.4,496.3 L263.2,496.4 L264.0,496.6 L264.8,496.8 L265.6,496.9 L266.5,497.1 L267.3,497.3 L268.1,497.5 L268.9,497.6 L269.7,497.8 L270.5,497.9 L271.3,498.1 L272.1,498.2 L272.9,498.3 L273.7,498.4 L274.5,498.6 L275.3,498.8 L276.1,499.0 L276.9,499.3 L277.7,499.6 L278.5,499.9 L279.3,500.2 L280.1,500.4 L280.9,500.7 L281.7,500.9 L282.5,501.1 L283.3,501.3 L284.1,501.5 L284.9,501.6 L285.7,501.8 L286.5,501.9 L287.3,502.0 L288.1,502.1 L288.9,502.3 L289.7,502.4 L290.5,502.5 L291.3,502.6 L292.1,502.8 L292.9,502.9 L293.7,503.0 L294.5,503.1 L295.3,503.3 L296.1,503.4 L296.9,503.5 L297.7,503.7 L298.5,503.8 L299.3,503.9 L300.1,504.0 L300.9,504.1 L301.7,504.2 L302.5,504.4 L303.3,504.5 L304.1,504.6 L304.9,504.7 L305.7,504.8 L306.5,504.9 L307.3,505.0 L308.1,505.1 L308.9,505.2 L309.7,505.4 L310.5,505.5 L311.3,505.6 L312.1,505.7 L312.9,505.9 L313.7,506.0 L314.5,506.1 L315.4,506.2 L316.2,506.4 L317.0,506.5 L317.8,506.6 L318.6,506.8 L319.4,506.9 L320.2,507.0 L321.0,507.2 L321.8,507.3 L322.6,507.4 L323.4,507.5 L324.2,507.7 L325.0,507.8 L325.8,507.9 L326.6,508.0 L327.4,508.1 L328.2,508.2 L329.0,508.3 L329.8,508.4 L330.6,508.5 L331.4,508.5 L332.2,508.6 L333.0,508.7 L333.8,508.7 L334.6,508.8 L335.4,508.8 L336.2,508.8 L337.0,508.9 L337.8,508.9 L338.6,509.0 L339.4,509.0" stroke="#4338b5"/>
<path d="M64.0,509.2 L64.8,509.2 L65.6,509.2 L66.4,509.2 L67.2,509.2 L68.0,509.1 L68.8,509.1 L69.6,509.1 L70.4,509.1 L71.2,509.1 L72.0,509.0 L72.8,509.0 L73.6,508.9 L74.4,508.9 L75.2,508.8 L76.0,508.8 L76.8,508.7 L77.6,508.6 L78.4,508.6 L79.2,508.5 L80.0,508.4 L80.8,508.3 L81.6,508.1 L82.4,508.0 L83.2,507.9 L84.0,507.8 L84.8,507.6 L85.6,507.5 L86.4,507.3 L87.2,507.2 L88.0,507.0 L88.8,506.8 L89.6,506.6 L90.4,506.4 L91.2,506.1 L92.0,505.8 L92.8,505.5 L93.6,505.2 L94.4,504.8 L95.2,504.5 L96.1,504.1 L96.9,503.6 L97.7,503.2 L98.5,502.7 L99.3,502.3 L100.1,501.8 L100.9,501.3 L101.7,500.8 L102.5,500.3 L103.3,499.8 L104.1,499.4 L104.9,498.9 L105.7,498.4 L106.5,498.0 L107.3,497.6 L108.1,497.1 L108.9,496.7 L109.7,496.4 L110.5,496.0 L111.3,495.6 L112.1,495.3 L112.9,495.0 L113.7,494.7 L114.5,494.5 L115.3,494.2 L116.1,493.9 L116.9,493.7 L117.7,493.5 L118.5,493.3 L119.3,493.1 L120.1,492.9 L120.9,492.7 L121.7,492.5 L122.5,492.3 L123.3,492.1 L124.1,492.0 L124.9,491.8 L125.7,491.7 L126.5,491.5 L127.3,491.4 L128.1,491.2 L128.9,491.1 L129.7,491.0 L130.5,490.9 L131.3,490.8 L132.1,490.7 L132.9,490.7 L133.7,490.6 L134.5,490.6 L135.3,490.6 L136.1,490.5 L136.9,490.5 L137.7,490.5 L138.5,490.5 L139.3,490.5 L140.1,490.4 L140.9,490.4 L141.7,490.3 L142.5,490.2 L143.3,490.1 L144.1,490.0 L144.9,489.8 L145.7,489.7 L146.5,489.5 L147.3,489.4 L148.1,489.3 L148.9,489.1 L149.7,489.0 L150.5,488.9 L151.3,488.9 L152.1,488.8 L152.9,488.8 L153.7,488.7 L154.5,488.7 L155.3,488.7 L156.1,488.7 L156.9,488.6 L157.8,488.6 L158.6,488.6 L159.4,488.6 L160.2,488.6 L161.0,488.6 L161.8,488.6 L162.6,488.5 L163.4,488.5 L164.2,488.5 L165.0,488.4 L165.8,488.4 L166.6,488.4 L167.4,488.3 L168.2,488.3 L169.0,488.2 L169.8,488.2 L170.6,488.2 L171.4,488.1 L172.2,488.1 L173.0,488.1 L173.8,488.1 L174.6,488.1 L175.4,488.0 L176.2,488.0 L177.0,488.0 L177.8,488.0 L178.6,488.0 L179.4,488.0 L180.2,488.0 L181.0,488.0 L181.8,488.0 L182.6,488.0 L183.4,488.0 L184.2,488.0 L185.0,488.1 L185.8,488.1 L186.6,488.1 L187.4,488.1 L188.2,488.1 L189.0,488.2 L189.8,488.2 L190.6,488.2 L191.4,488.2 L192.2,488.2 L193.0,488.3 L193.8,488.3 L194.6,488.3 L195.4,488.3 L196.2,488.4 L197.0,488.4 L197.8,488.4 L198.6,488.5 L199.4,488.6 L200.2,488.6 L201.0,488.7 L201.8,488.8 L202.6,488.8 L203.4,488.9 L204.2,489.0 L205.0,489.1 L205.8,489.2 L206.6,489.2 L207.4,489.3 L208.2,489.3 L209.0,489.4 L209.8,489.4 L210.6,489.4 L211.4,489.4 L212.2,489.4 L213.0,489.4 L213.8,489.4 L214.6,489.4 L215.4,489.5 L216.2,489.6 L217.0,489.6 L217.8,489.8 L218.6,489.9 L219.4,490.0 L220.2,490.1 L221.1,490.3 L221.9,490.4 L222.7,490.5 L223.5,490.6 L224.3,490.7 L225.1,490.8 L225.9,490.9 L226.7,491.0 L227.5,491.0 L228.3,491.1 L229.1,491.1 L229.9,491.2 L230.7,491.2 L231.5,491.2 L232.3,491.3 L233.1,491.3 L233.9,491.3 L234.7,491.3 L235.5,491.4 L236.3,491.4 L237.1,491.4 L237.9,491.4 L238.7,491.4 L239.5,491.5 L240.3,491.5 L241.1,491.5 L241.9,491.4 L242.7,491.4 L243.5,491.4 L244.3,491.4 L245.1,491.4 L245.9,491.3 L246.7,491.3 L247.5,491.3 L248.3,491.3 L249.1,491.3 L249.9,491.3 L250.7,491.3 L251.5,491.3 L252.3,491.3 L253.1,491.4 L253.9,491.4 L254.7,491.5 L255.5,491.6 L256.3,491.7 L257.1,491.8 L257.9,491.9 L258.7,492.0 L259.5,492.2 L260.3,492.3 L261.1,492.4 L261.9,492.6 L262.7,492.8 L263.5,492.9 L264.3,493.1 L265.1,493.3 L265.9,493.5 L266.7,493.7 L267.5,494.0 L268.3,494.2 L269.1,494.4 L269.9,494.7 L270.7,494.9 L271.5,495.1 L272.3,495.3 L273.1,495.5 L273.9,495.7 L274.7,496.0 L275.5,496.4 L276.3,496.8 L277.1,497.4 L277.9,497.9 L278.7,498.5 L279.5,499.1 L280.3,499.6 L281.1,500.1 L281.9,500.6 L282.8,501.0 L283.6,501.4 L284.4,501.8 L285.2,502.2 L286.0,502.5 L286.8,502.8 L287.6,503.1 L288.4,503.4 L289.2,503.8 L290.0,504.1 L290.8,504.4 L291.6,504.7 L292.4,505.0 L293.2,505.3 L294.0,505.6 L294.8,505.9 L295.6,506.2 L296.4,506.5 L297.2,506.7 L298.0,507.0 L298.8,507.2 L299.6,507.4 L300.4,507.6 L301.2,507.8 L302.0,508.0 L302.8,508.1 L303.6,508.3 L304.4,508.4 L305.2,508.5 L306.0,508.6 L306.8,508.7 L307.6,508.8 L308.4,508.8 L309.2,508.9 L310.0,509.0 L310.8,509.0 L311.6,509.1 L312.4,509.1 L313.2,509.2 L314.0,509.2" stroke="#d6336c"/>
<path d="M66.0,509.2 L66.8,509.2 L67.6,509.2 L68.4,509.2 L69.2,509.2 L70.0,509.2 L70.8,509.1 L71.6,509.1 L72.4,509.1 L73.2,509.1 L74.0,509.1 L74.8,509.1 L75.6,509.0 L76.4,509.0 L77.2,509.0 L78.0,508.9 L78.8,508.9 L79.6,508.8 L80.4,508.8 L81.2,508.7 L82.0,508.6 L82.8,508.6 L83.6,508.5 L84.4,508.4 L85.2,508.3 L86.0,508.2 L86.8,508.0 L87.6,507.9 L88.4,507.7 L89.2,507.5 L90.0,507.3 L90.8,507.1 L91.6,506.8 L92.4,506.6 L93.2,506.3 L94.0,506.0 L94.8,505.6 L95.6,505.3 L96.4,504.9 L97.2,504.5 L98.0,504.1 L98.8,503.7 L99.7,503.2 L100.5,502.7 L101.3,502.3 L102.1,501.8 L102.9,501.3 L103.7,500.8 L104.5,500.3 L105.3,499.8 L106.1,499.4 L106.9,498.9 L107.7,498.5 L108.5,498.1 L109.3,497.6 L110.1,497.3 L110.9,496.9 L111.7,496.5 L112.5,496.2 L113.3,495.9 L114.1,495.6 L114.9,495.3 L115.7,495.1 L116.5,494.8 L117.3,494.6 L118.1,494.4 L118.9,494.2 L119.7,494.1 L120.5,493.9 L121.3,493.8 L122.1,493.6 L122.9,493.5 L123.7,493.4 L124.5,493.3 L125.3,493.2 L126.1,493.2 L126.9,493.1 L127.7,493.0 L128.5,493.0 L129.3,492.9 L130.1,492.9 L130.9,492.8 L131.7,492.8 L132.5,492.8 L133.3,492.8 L134.1,492.8 L134.9,492.8 L135.7,492.8 L136.5,492.8 L137.3,492.8 L138.1,492.9 L138.9,492.9 L139.7,492.9 L140.5,493.0 L141.3,493.0 L142.1,493.1 L142.9,493.1 L143.7,493.1 L144.5,493.1 L145.3,493.2 L146.1,493.2 L146.9,493.1 L147.7,493.1 L148.5,493.1 L149.3,493.1 L150.1,493.0 L150.9,492.9 L151.7,492.8 L152.5,492.7 L153.3,492.6 L154.1,492.5 L154.9,492.3 L155.7,492.2 L156.5,492.0 L157.3,491.9 L158.1,491.7 L158.9,491.6 L159.7,491.4 L160.5,491.3 L161.3,491.2 L162.1,491.0 L162.9,490.9 L163.7,490.8 L164.5,490.7 L165.3,490.5 L166.2,490.4 L167.0,490.3 L167.8,490.2 L168.6,490.2 L169.4,490.1 L170.2,490.0 L171.0,489.9 L171.8,489.8 L172.6,489.8 L173.4,489.7 L174.2,489.7 L175.0,489.6 L175.8,489.6 L176.6,489.5 L177.4,489.5 L178.2,489.5 L179.0,489.4 L179.8,489.4 L180.6,489.4 L181.4,489.4 L182.2,489.3 L183.0,489.3 L183.8,489.3 L184.6,489.3 L185.4,489.3 L186.2,489.3 L187.0,489.3 L187.8,489.3 L188.6,489.2 L189.4,489.2 L190.2,489.2 L191.0,489.2 L191.8,489.2 L192.6,489.2 L193.4,489.1 L194.2,489.1 L195.0,489.1 L195.8,489.1 L196.6,489.0 L197.4,489.0 L198.2,489.0 L199.0,489.0 L199.8,489.0 L200.6,489.0 L201.4,489.0 L202.2,489.0 L203.0,489.0 L203.8,489.1 L204.6,489.1 L205.4,489.1 L206.2,489.1 L207.0,489.1 L207.8,489.1 L208.6,489.1 L209.4,489.0 L210.2,489.0 L211.0,488.9 L211.8,488.9 L212.6,488.8 L213.4,488.8 L214.2,488.8 L215.0,488.8 L215.8,488.9 L216.6,489.0 L217.4,489.1 L218.2,489.3 L219.0,489.5 L219.8,489.6 L220.6,489.8 L221.4,489.9 L222.2,490.1 L223.0,490.2 L223.8,490.4 L224.6,490.5 L225.4,490.6 L226.2,490.7 L227.0,490.7 L227.8,490.8 L228.6,490.9 L229.4,490.9 L230.2,491.0 L231.0,491.0 L231.8,491.1 L232.7,491.2 L233.5,491.2 L234.3,491.3 L235.1,491.4 L235.9,491.4 L236.7,491.5 L237.5,491.6 L238.3,491.6 L239.1,491.6 L239.9,491.7 L240.7,491.7 L241.5,491.8 L242.3,491.8 L243.1,491.8 L243.9,491.9 L244.7,491.9 L245.5,491.9 L246.3,491.9 L247.1,492.0 L247.9,492.0 L248.7,492.0 L249.5,492.0 L250.3,492.1 L251.1,492.1 L251.9,492.2 L252.7,492.2 L253.5,492.3 L254.3,492.4 L255.1,492.4 L255.9,492.5 L256.7,492.5 L257.5,492.6 L258.3,492.6 L259.1,492.7 L259.9,492.7 L260.7,492.8 L261.5,492.8 L262.3,492.9 L263.1,493.0 L263.9,493.1 L264.7,493.1 L265.5,493.2 L266.3,493.3 L267.1,493.3 L267.9,493.4 L268.7,493.4 L269.5,493.5 L270.3,493.6 L271.1,493.7 L271.9,493.7 L272.7,493.8 L273.5,493.9 L274.3,494.0 L275.1,494.1 L275.9,494.2 L276.7,494.2 L277.5,494.3 L278.3,494.4 L279.1,494.5 L279.9,494.6 L280.7,494.7 L281.5,494.8 L282.3,495.0 L283.1,495.2 L283.9,495.4 L284.7,495.6 L285.5,495.8 L286.3,496.1 L287.1,496.4 L287.9,496.7 L288.7,497.1 L289.5,497.4 L290.3,497.8 L291.1,498.2 L291.9,498.6 L292.7,499.0 L293.5,499.4 L294.3,499.8 L295.1,500.2 L295.9,500.6 L296.7,501.0 L297.5,501.4 L298.3,501.8 L299.2,502.2 L300.0,502.6 L300.8,503.0 L301.6,503.4 L302.4,503.8 L303.2,504.2 L304.0,504.6 L304.8,504.9 L305.6,505.3 L306.4,505.6 L307.2,506.0 L308.0,506.3 L308.8,506.6 L309.6,506.9 L310.4,507.1 L311.2,507.4 L312.0,507.6 L312.8,507.8 L313.6,508.0 L314.4,508.1 L315.2,508.3 L316.0,508.4 L316.8,508.5 L317.6,508.6 L318.4,508.7 L319.2,508.8 L320.0,508.8 L320.8,508.9 L321.6,508.9 L322.4,508.9 L323.2,509.0 L324.0,509.0 L324.8,509.0 L325.6,509.0 L326.4,509.1 L327.2,509.1 L328.0,509.1 L328.8,509.1 L329.6,509.1 L330.4,509.2 L331.2,509.2 L332.0,509.2" stroke="#f07f2e"/>
</g>
<line x1="41.80" y1="509.40" x2="339.30" y2="509.40" stroke="#b0b0b0" stroke-width="0.8"/>
<text x="41.80" y="520.50" font-size="9.40" fill="#626262" text-anchor="middle">0</text>
<text x="91.40" y="520.50" font-size="9.40" fill="#626262" text-anchor="middle">2</text>
<text x="141.00" y="520.50" font-size="9.40" fill="#626262" text-anchor="middle">4</text>
<text x="190.60" y="520.50" font-size="9.40" fill="#626262" text-anchor="middle">6</text>
<text x="240.20" y="520.50" font-size="9.40" fill="#626262" text-anchor="middle">8</text>
<text x="289.80" y="520.50" font-size="9.40" fill="#626262" text-anchor="middle">10</text>
<text x="339.40" y="520.50" font-size="9.40" fill="#626262" text-anchor="middle">12</text>
<text x="38.00" y="458.50" font-size="9.40" fill="#626262" text-anchor="end">0.4</text>
<text x="38.00" y="485.90" font-size="9.40" fill="#626262" text-anchor="end">0.2</text>
<text x="38.00" y="513.30" font-size="9.40" fill="#626262" text-anchor="end">0.0</text>
<text x="190.55" y="533.20" font-size="9.40" fill="#626262" text-anchor="middle">meltrate</text>
<clipPath id="c9"><rect x="378.50" y="440.80" width="297.50" height="68.80"/></clipPath>
<clipPath id="h9"><rect x="378.00" y="440.80" width="298.00" height="68.80"/></clipPath>
<g clip-path="url(#c9)">
<line x1="378.50" y1="440.80" x2="378.50" y2="509.40" stroke="#2a2a2a" stroke-width="0.75"/>
<line x1="428.05" y1="440.80" x2="428.05" y2="509.40" stroke="#2a2a2a" stroke-width="0.75"/>
<line x1="477.60" y1="440.80" x2="477.60" y2="509.40" stroke="#2a2a2a" stroke-width="0.75"/>
<line x1="527.15" y1="440.80" x2="527.15" y2="509.40" stroke="#2a2a2a" stroke-width="0.75"/>
<line x1="576.70" y1="440.80" x2="576.70" y2="509.40" stroke="#2a2a2a" stroke-width="0.75"/>
<line x1="626.25" y1="440.80" x2="626.25" y2="509.40" stroke="#2a2a2a" stroke-width="0.75"/>
<line x1="675.80" y1="440.80" x2="675.80" y2="509.40" stroke="#2a2a2a" stroke-width="0.75"/>
</g>
<g clip-path="url(#h9)">
<line x1="377.50" y1="448.40" x2="676.80" y2="448.40" stroke="#2a2a2a" stroke-width="0.75"/>
<line x1="377.50" y1="478.90" x2="676.80" y2="478.90" stroke="#2a2a2a" stroke-width="0.75"/>
</g>
<g clip-path="url(#c9)" fill="none" stroke-width="1.4" stroke-linejoin="round" stroke-linecap="butt">
<path d="M519.0,509.2 L519.4,507.1 L519.8,504.4 L520.2,501.2 L520.6,497.1 L521.0,492.8 L521.4,488.7 L521.8,484.5 L522.2,480.5 L522.6,477.0 L523.0,473.8 L523.4,470.7 L523.8,468.0 L524.2,465.6 L524.6,463.3 L525.1,461.3 L525.5,459.4 L525.9,457.6 L526.3,455.9 L526.7,454.3 L527.1,452.7 L527.5,451.3 L527.9,450.3 L528.3,449.5 L528.7,448.7 L529.1,448.1 L529.5,447.6 L529.9,447.4 L530.3,447.4 L530.7,447.4 L531.1,447.4 L531.5,447.4 L531.9,447.4 L532.3,447.6 L532.7,448.3 L533.1,449.4 L533.5,450.7 L533.9,452.5 L534.3,455.3 L534.7,458.7 L535.1,462.3 L535.5,466.7 L535.9,471.7 L536.3,476.4 L536.8,480.8 L537.2,485.0 L537.6,489.0 L538.0,492.7 L538.4,496.0 L538.8,499.2 L539.2,501.9 L539.6,503.8 L540.0,505.3 L540.4,506.7 L540.8,507.7 L541.2,508.2 L541.6,508.7 L542.0,509.1 L542.4,509.2" stroke="#9bdb3b"/>
<path d="M496.0,509.2 L496.4,509.2 L496.8,509.2 L497.2,509.2 L497.6,509.2 L498.0,509.1 L498.4,509.1 L498.8,509.1 L499.2,509.0 L499.6,509.0 L500.0,508.9 L500.4,508.9 L500.8,508.8 L501.2,508.7 L501.6,508.7 L502.0,508.6 L502.4,508.5 L502.8,508.3 L503.2,508.0 L503.6,507.7 L504.0,507.3 L504.4,506.9 L504.8,506.4 L505.2,506.0 L505.6,505.5 L506.0,505.0 L506.4,504.3 L506.8,503.6 L507.2,502.7 L507.6,501.8 L508.0,500.9 L508.4,500.1 L508.8,499.3 L509.2,498.6 L509.6,497.9 L510.0,497.2 L510.4,496.6 L510.8,496.0 L511.2,495.4 L511.7,495.0 L512.1,494.6 L512.5,494.2 L512.9,493.9 L513.3,493.5 L513.7,493.3 L514.1,493.0 L514.5,492.8 L514.9,492.6 L515.3,492.5 L515.7,492.4 L516.1,492.4 L516.5,492.3 L516.9,492.2 L517.3,492.2 L517.7,492.1 L518.1,492.0 L518.5,491.8 L518.9,491.6 L519.3,491.4 L519.7,491.1 L520.1,490.8 L520.5,490.5 L520.9,490.1 L521.3,489.6 L521.7,488.9 L522.1,488.0 L522.5,487.2 L522.9,486.7 L523.3,486.4 L523.7,486.2 L524.1,486.0 L524.5,485.9 L524.9,485.8 L525.3,485.8 L525.7,486.0 L526.1,486.2 L526.5,486.5 L526.9,486.8 L527.3,487.1 L527.7,487.3 L528.1,487.4 L528.5,487.5 L528.9,487.6 L529.3,487.7 L529.7,487.7 L530.1,487.8 L530.5,487.8 L530.9,487.8 L531.3,487.8 L531.7,487.7 L532.1,487.5 L532.5,487.4 L532.9,487.2 L533.3,487.1 L533.7,487.0 L534.1,487.0 L534.5,487.0 L534.9,487.1 L535.3,487.1 L535.7,487.2 L536.1,487.3 L536.5,487.4 L536.9,487.5 L537.3,487.6 L537.7,487.7 L538.1,487.8 L538.5,488.0 L538.9,488.1 L539.3,488.3 L539.7,488.6 L540.1,488.8 L540.5,489.1 L540.9,489.4 L541.3,489.7 L541.8,490.1 L542.2,490.7 L542.6,491.3 L543.0,491.9 L543.4,492.7 L543.8,493.7 L544.2,494.7 L544.6,495.8 L545.0,496.9 L545.4,498.0 L545.8,499.1 L546.2,500.2 L546.6,501.2 L547.0,502.0 L547.4,502.4 L547.8,502.8 L548.2,503.2 L548.6,503.8 L549.0,504.4 L549.4,505.1 L549.8,505.8 L550.2,506.4 L550.6,507.0 L551.0,507.4 L551.4,507.7 L551.8,508.0 L552.2,508.3 L552.6,508.5 L553.0,508.7 L553.4,508.9 L553.8,509.0 L554.2,509.0 L554.6,509.1 L555.0,509.1 L555.4,509.1 L555.8,509.2 L556.2,509.2 L556.6,509.2 L557.0,509.2" stroke="#2a9d8f"/>
<path d="M448.0,509.2 L448.8,509.2 L449.6,509.2 L450.4,509.2 L451.2,509.1 L452.0,509.1 L452.8,509.1 L453.6,509.1 L454.4,509.1 L455.2,509.0 L456.0,509.0 L456.8,509.0 L457.6,509.0 L458.4,508.9 L459.2,508.9 L460.0,508.8 L460.8,508.8 L461.6,508.8 L462.4,508.7 L463.2,508.7 L464.1,508.6 L464.9,508.5 L465.7,508.5 L466.5,508.4 L467.3,508.3 L468.1,508.2 L468.9,508.1 L469.7,508.0 L470.5,507.9 L471.3,507.8 L472.1,507.7 L472.9,507.6 L473.7,507.4 L474.5,507.3 L475.3,507.1 L476.1,507.0 L476.9,506.8 L477.7,506.6 L478.5,506.4 L479.3,506.2 L480.1,506.0 L480.9,505.8 L481.7,505.6 L482.5,505.4 L483.3,505.2 L484.1,505.0 L484.9,504.8 L485.7,504.6 L486.5,504.4 L487.3,504.2 L488.1,504.0 L488.9,503.8 L489.7,503.6 L490.5,503.4 L491.3,503.2 L492.1,503.1 L492.9,502.9 L493.7,502.7 L494.5,502.6 L495.4,502.4 L496.2,502.2 L497.0,502.1 L497.8,501.9 L498.6,501.7 L499.4,501.5 L500.2,501.4 L501.0,501.2 L501.8,501.0 L502.6,500.8 L503.4,500.6 L504.2,500.4 L505.0,500.2 L505.8,500.0 L506.6,499.8 L507.4,499.6 L508.2,499.4 L509.0,499.1 L509.8,498.9 L510.6,498.7 L511.4,498.6 L512.2,498.4 L513.0,498.2 L513.8,498.0 L514.6,497.9 L515.4,497.7 L516.2,497.6 L517.0,497.5 L517.8,497.4 L518.6,497.3 L519.4,497.2 L520.2,497.2 L521.0,497.1 L521.8,497.1 L522.6,497.1 L523.4,497.1 L524.2,497.1 L525.0,497.0 L525.8,497.0 L526.6,497.0 L527.5,497.0 L528.3,497.0 L529.1,497.0 L529.9,496.9 L530.7,496.9 L531.5,496.8 L532.3,496.8 L533.1,496.8 L533.9,496.7 L534.7,496.7 L535.5,496.6 L536.3,496.6 L537.1,496.6 L537.9,496.5 L538.7,496.5 L539.5,496.4 L540.3,496.4 L541.1,496.3 L541.9,496.2 L542.7,496.1 L543.5,496.0 L544.3,496.0 L545.1,496.0 L545.9,496.2 L546.7,496.5 L547.5,496.9 L548.3,497.3 L549.1,497.9 L549.9,498.5 L550.7,499.2 L551.5,499.9 L552.3,500.6 L553.1,501.3 L553.9,501.9 L554.7,502.6 L555.5,503.2 L556.3,503.8 L557.1,504.3 L557.9,504.8 L558.8,505.3 L559.6,505.8 L560.4,506.2 L561.2,506.6 L562.0,507.0 L562.8,507.3 L563.6,507.6 L564.4,507.9 L565.2,508.2 L566.0,508.4 L566.8,508.6 L567.6,508.7 L568.4,508.9 L569.2,508.9 L570.0,509.0 L570.8,509.1 L571.6,509.1 L572.4,509.2 L573.2,509.2 L574.0,509.2" stroke="#4338b5"/>
<path d="M448.0,509.2 L448.8,509.2 L449.6,509.2 L450.4,509.1 L451.2,509.1 L452.0,509.1 L452.8,509.1 L453.6,509.1 L454.4,509.0 L455.2,509.0 L456.0,509.0 L456.8,509.0 L457.6,508.9 L458.4,508.9 L459.2,508.8 L460.0,508.8 L460.8,508.8 L461.6,508.7 L462.4,508.6 L463.2,508.6 L464.0,508.5 L464.8,508.4 L465.6,508.4 L466.4,508.3 L467.3,508.2 L468.1,508.1 L468.9,508.0 L469.7,507.9 L470.5,507.7 L471.3,507.6 L472.1,507.5 L472.9,507.3 L473.7,507.1 L474.5,507.0 L475.3,506.8 L476.1,506.7 L476.9,506.5 L477.7,506.3 L478.5,506.1 L479.3,506.0 L480.1,505.8 L480.9,505.6 L481.7,505.4 L482.5,505.3 L483.3,505.1 L484.1,504.9 L484.9,504.8 L485.7,504.6 L486.5,504.4 L487.3,504.3 L488.1,504.1 L488.9,504.0 L489.7,503.8 L490.5,503.7 L491.3,503.6 L492.1,503.5 L492.9,503.3 L493.7,503.2 L494.5,503.1 L495.3,503.0 L496.1,502.9 L496.9,502.8 L497.7,502.7 L498.5,502.6 L499.3,502.5 L500.1,502.4 L500.9,502.3 L501.7,502.2 L502.5,502.1 L503.3,502.0 L504.1,501.9 L505.0,501.8 L505.8,501.8 L506.6,501.7 L507.4,501.6 L508.2,501.5 L509.0,501.5 L509.8,501.4 L510.6,501.4 L511.4,501.3 L512.2,501.3 L513.0,501.2 L513.8,501.2 L514.6,501.2 L515.4,501.1 L516.2,501.1 L517.0,501.1 L517.8,501.1 L518.6,501.0 L519.4,501.0 L520.2,501.0 L521.0,501.0 L521.8,501.0 L522.6,500.9 L523.4,500.9 L524.2,500.9 L525.0,500.9 L525.8,500.9 L526.6,500.9 L527.4,500.8 L528.2,500.8 L529.0,500.8 L529.8,500.8 L530.6,500.8 L531.4,500.8 L532.2,500.8 L533.0,500.8 L533.8,500.7 L534.6,500.7 L535.4,500.7 L536.2,500.7 L537.0,500.7 L537.8,500.7 L538.6,500.6 L539.4,500.6 L540.2,500.6 L541.0,500.6 L541.9,500.5 L542.7,500.5 L543.5,500.5 L544.3,500.4 L545.1,500.4 L545.9,500.4 L546.7,500.4 L547.5,500.4 L548.3,500.4 L549.1,500.4 L549.9,500.5 L550.7,500.5 L551.5,500.6 L552.3,500.6 L553.1,500.7 L553.9,500.8 L554.7,500.9 L555.5,500.9 L556.3,501.0 L557.1,501.1 L557.9,501.2 L558.7,501.4 L559.5,501.5 L560.3,501.6 L561.1,501.8 L561.9,502.0 L562.7,502.2 L563.5,502.4 L564.3,502.7 L565.1,503.0 L565.9,503.3 L566.7,503.6 L567.5,503.9 L568.3,504.3 L569.1,504.6 L569.9,505.0 L570.7,505.3 L571.5,505.6 L572.3,505.9 L573.1,506.2 L573.9,506.5 L574.7,506.8 L575.5,507.1 L576.3,507.3 L577.1,507.5 L577.9,507.8 L578.7,508.0 L579.6,508.1 L580.4,508.3 L581.2,508.5 L582.0,508.6 L582.8,508.7 L583.6,508.8 L584.4,508.9 L585.2,509.0 L586.0,509.0 L586.8,509.1 L587.6,509.1 L588.4,509.2 L589.2,509.2 L590.0,509.2 L590.8,509.2 L591.6,509.2 L592.4,509.2 L593.2,509.2 L594.0,509.2 L594.8,509.2 L595.6,509.2 L596.4,509.2 L597.2,509.2 L598.0,509.2" stroke="#d6336c"/>
<path d="M452.0,509.2 L452.8,509.2 L453.6,509.2 L454.4,509.1 L455.2,509.1 L456.0,509.1 L456.8,509.1 L457.6,509.0 L458.4,509.0 L459.2,509.0 L460.0,508.9 L460.8,508.9 L461.6,508.8 L462.4,508.8 L463.2,508.7 L464.0,508.6 L464.8,508.5 L465.6,508.4 L466.4,508.3 L467.2,508.2 L468.0,508.1 L468.8,507.9 L469.6,507.8 L470.4,507.7 L471.2,507.5 L472.0,507.4 L472.8,507.2 L473.6,507.1 L474.4,506.9 L475.2,506.8 L476.0,506.6 L476.8,506.5 L477.6,506.3 L478.4,506.1 L479.2,506.0 L480.0,505.8 L480.8,505.7 L481.6,505.5 L482.4,505.3 L483.2,505.2 L484.0,505.0 L484.8,504.8 L485.6,504.7 L486.4,504.5 L487.2,504.3 L488.0,504.1 L488.8,504.0 L489.6,503.8 L490.4,503.7 L491.2,503.5 L492.0,503.3 L492.8,503.2 L493.6,503.1 L494.4,502.9 L495.2,502.8 L496.0,502.7 L496.8,502.6 L497.6,502.5 L498.4,502.4 L499.2,502.3 L500.0,502.2 L500.8,502.1 L501.6,502.0 L502.4,502.0 L503.2,501.9 L504.0,501.8 L504.8,501.7 L505.6,501.7 L506.4,501.6 L507.2,501.5 L508.0,501.4 L508.8,501.4 L509.6,501.3 L510.4,501.2 L511.2,501.2 L512.0,501.1 L512.8,501.1 L513.6,501.0 L514.4,501.0 L515.2,500.9 L516.0,500.9 L516.8,500.9 L517.6,500.8 L518.4,500.8 L519.2,500.8 L520.0,500.7 L520.8,500.7 L521.6,500.7 L522.4,500.7 L523.2,500.6 L524.0,500.6 L524.8,500.6 L525.6,500.5 L526.4,500.5 L527.2,500.5 L528.0,500.5 L528.8,500.4 L529.6,500.4 L530.4,500.4 L531.2,500.3 L532.0,500.3 L532.8,500.3 L533.6,500.2 L534.4,500.2 L535.2,500.1 L536.0,500.1 L536.8,500.0 L537.6,500.0 L538.4,500.0 L539.2,499.9 L540.0,499.9 L540.8,499.9 L541.6,499.8 L542.4,499.8 L543.2,499.8 L544.0,499.8 L544.8,499.8 L545.6,499.8 L546.4,499.8 L547.2,499.9 L548.0,499.9 L548.8,500.0 L549.6,500.0 L550.4,500.1 L551.2,500.2 L552.0,500.2 L552.8,500.3 L553.6,500.4 L554.4,500.4 L555.2,500.5 L556.0,500.6 L556.8,500.7 L557.6,500.8 L558.4,500.8 L559.2,500.9 L560.0,501.0 L560.8,501.1 L561.6,501.3 L562.4,501.4 L563.2,501.6 L564.0,501.8 L564.8,502.0 L565.6,502.3 L566.4,502.6 L567.2,502.8 L568.0,503.2 L568.8,503.5 L569.6,503.8 L570.4,504.2 L571.2,504.5 L572.0,504.9 L572.8,505.2 L573.6,505.6 L574.4,505.9 L575.2,506.3 L576.0,506.6 L576.8,506.9 L577.6,507.2 L578.4,507.5 L579.2,507.7 L580.0,507.9 L580.8,508.1 L581.6,508.3 L582.4,508.5 L583.2,508.6 L584.0,508.7 L584.8,508.9 L585.6,508.9 L586.4,509.0 L587.2,509.1 L588.0,509.1 L588.8,509.2 L589.6,509.2 L590.4,509.2 L591.2,509.2 L592.0,509.2 L592.8,509.2 L593.6,509.2 L594.4,509.2 L595.2,509.2 L596.0,509.2" stroke="#f07f2e"/>
</g>
<line x1="378.50" y1="509.40" x2="675.80" y2="509.40" stroke="#b0b0b0" stroke-width="0.8"/>
<text x="378.50" y="520.50" font-size="9.40" fill="#626262" text-anchor="middle">−3</text>
<text x="428.05" y="520.50" font-size="9.40" fill="#626262" text-anchor="middle">−2</text>
<text x="477.60" y="520.50" font-size="9.40" fill="#626262" text-anchor="middle">−1</text>
<text x="527.15" y="520.50" font-size="9.40" fill="#626262" text-anchor="middle">0</text>
<text x="576.70" y="520.50" font-size="9.40" fill="#626262" text-anchor="middle">1</text>
<text x="626.25" y="520.50" font-size="9.40" fill="#626262" text-anchor="middle">2</text>
<text x="675.80" y="520.50" font-size="9.40" fill="#626262" text-anchor="middle">3</text>
<text x="374.70" y="452.30" font-size="9.40" fill="#626262" text-anchor="end">4</text>
<text x="374.70" y="482.80" font-size="9.40" fill="#626262" text-anchor="end">2</text>
<text x="374.70" y="513.30" font-size="9.40" fill="#626262" text-anchor="end">0</text>
<text x="527.15" y="533.20" font-size="9.40" fill="#626262" text-anchor="middle">snow_melt_temp</text>
<clipPath id="c10"><rect x="41.80" y="550.80" width="297.70" height="68.80"/></clipPath>
<clipPath id="h10"><rect x="41.30" y="550.80" width="298.20" height="68.80"/></clipPath>
<g clip-path="url(#c10)">
<line x1="68.80" y1="550.80" x2="68.80" y2="619.40" stroke="#2a2a2a" stroke-width="0.75"/>
<line x1="122.95" y1="550.80" x2="122.95" y2="619.40" stroke="#2a2a2a" stroke-width="0.75"/>
<line x1="177.10" y1="550.80" x2="177.10" y2="619.40" stroke="#2a2a2a" stroke-width="0.75"/>
<line x1="231.25" y1="550.80" x2="231.25" y2="619.40" stroke="#2a2a2a" stroke-width="0.75"/>
<line x1="285.40" y1="550.80" x2="285.40" y2="619.40" stroke="#2a2a2a" stroke-width="0.75"/>
<line x1="339.55" y1="550.80" x2="339.55" y2="619.40" stroke="#2a2a2a" stroke-width="0.75"/>
</g>
<g clip-path="url(#h10)">
<line x1="40.80" y1="580.40" x2="340.30" y2="580.40" stroke="#2a2a2a" stroke-width="0.75"/>
</g>
<g clip-path="url(#c10)" fill="none" stroke-width="1.4" stroke-linejoin="round" stroke-linecap="butt">
<path d="M42.0,619.2 L42.8,619.2 L43.6,619.2 L44.4,619.2 L45.2,619.2 L46.0,619.2 L46.8,619.1 L47.6,619.0 L48.4,618.9 L49.2,618.8 L50.0,618.7 L50.8,618.5 L51.6,618.2 L52.4,618.0 L53.2,617.7 L54.0,617.4 L54.8,617.0 L55.6,616.7 L56.4,616.3 L57.2,615.8 L58.0,615.3 L58.8,614.8 L59.6,614.3 L60.4,613.7 L61.2,613.1 L62.0,612.4 L62.8,611.7 L63.6,611.0 L64.4,610.2 L65.2,609.4 L66.0,608.6 L66.8,607.7 L67.6,606.8 L68.4,605.8 L69.2,604.9 L70.0,603.9 L70.8,602.9 L71.6,601.9 L72.4,600.9 L73.2,599.9 L74.0,598.9 L74.8,597.9 L75.6,596.9 L76.4,595.9 L77.2,594.9 L78.0,594.0 L78.8,593.0 L79.6,592.0 L80.4,591.0 L81.2,590.1 L82.0,589.1 L82.8,588.2 L83.6,587.4 L84.4,586.6 L85.2,585.8 L86.0,585.0 L86.8,584.4 L87.6,583.7 L88.4,583.1 L89.2,582.5 L90.0,582.0 L90.8,581.5 L91.6,581.0 L92.4,580.6 L93.2,580.2 L94.0,579.8 L94.8,579.5 L95.6,579.1 L96.4,578.8 L97.2,578.6 L98.0,578.3 L98.8,578.1 L99.6,577.9 L100.4,577.7 L101.2,577.5 L102.0,577.4 L102.8,577.3 L103.7,577.2 L104.5,577.1 L105.3,577.0 L106.1,577.0 L106.9,577.0 L107.7,577.0 L108.5,577.0 L109.3,577.1 L110.1,577.1 L110.9,577.2 L111.7,577.3 L112.5,577.4 L113.3,577.5 L114.1,577.6 L114.9,577.7 L115.7,577.9 L116.5,578.0 L117.3,578.1 L118.1,578.3 L118.9,578.5 L119.7,578.6 L120.5,578.8 L121.3,579.0 L122.1,579.2 L122.9,579.4 L123.7,579.6 L124.5,579.9 L125.3,580.1 L126.1,580.3 L126.9,580.6 L127.7,580.8 L128.5,581.0 L129.3,581.2 L130.1,581.4 L130.9,581.6 L131.7,581.8 L132.5,581.9 L133.3,582.0 L134.1,582.2 L134.9,582.3 L135.7,582.4 L136.5,582.5 L137.3,582.5 L138.1,582.6 L138.9,582.7 L139.7,582.7 L140.5,582.8 L141.3,582.8 L142.1,582.9 L142.9,582.9 L143.7,583.0 L144.5,583.0 L145.3,583.0 L146.1,583.0 L146.9,583.0 L147.7,583.0 L148.5,583.0 L149.3,583.0 L150.1,583.0 L150.9,583.0 L151.7,583.0 L152.5,583.1 L153.3,583.1 L154.1,583.2 L154.9,583.3 L155.7,583.4 L156.5,583.5 L157.3,583.6 L158.1,583.8 L158.9,584.0 L159.7,584.2 L160.5,584.5 L161.3,584.7 L162.1,585.0 L162.9,585.3 L163.7,585.7 L164.5,586.0 L165.3,586.4 L166.1,586.7 L166.9,587.1 L167.7,587.5 L168.5,587.9 L169.3,588.3 L170.1,588.7 L170.9,589.0 L171.7,589.4 L172.5,589.8 L173.3,590.2 L174.1,590.6 L174.9,590.9 L175.7,591.3 L176.5,591.6 L177.3,592.0 L178.1,592.3 L178.9,592.6 L179.7,592.9 L180.5,593.2 L181.3,593.4 L182.1,593.7 L182.9,593.9 L183.7,594.1 L184.5,594.3 L185.3,594.5 L186.1,594.7 L186.9,594.9 L187.7,595.1 L188.5,595.3 L189.3,595.4 L190.1,595.6 L190.9,595.8 L191.7,595.9 L192.5,596.1 L193.3,596.3 L194.1,596.5 L194.9,596.7 L195.7,596.9 L196.5,597.1 L197.3,597.3 L198.1,597.5 L198.9,597.7 L199.7,597.9 L200.5,598.2 L201.3,598.4 L202.1,598.6 L202.9,598.9 L203.7,599.1 L204.5,599.4 L205.3,599.7 L206.1,600.0 L206.9,600.2 L207.7,600.5 L208.5,600.8 L209.3,601.1 L210.1,601.4 L210.9,601.6 L211.7,601.9 L212.5,602.2 L213.3,602.5 L214.1,602.8 L214.9,603.1 L215.7,603.3 L216.5,603.6 L217.3,603.8 L218.1,604.1 L218.9,604.3 L219.7,604.5 L220.5,604.7 L221.3,605.0 L222.1,605.2 L222.9,605.4 L223.7,605.5 L224.5,605.7 L225.3,605.9 L226.2,606.1 L227.0,606.2 L227.8,606.4 L228.6,606.5 L229.4,606.7 L230.2,606.8 L231.0,607.0 L231.8,607.1 L232.6,607.3 L233.4,607.4 L234.2,607.5 L235.0,607.7 L235.8,607.8 L236.6,608.0 L237.4,608.1 L238.2,608.3 L239.0,608.4 L239.8,608.6 L240.6,608.7 L241.4,608.8 L242.2,609.0 L243.0,609.1 L243.8,609.2 L244.6,609.4 L245.4,609.5 L246.2,609.6 L247.0,609.8 L247.8,610.0 L248.6,610.1 L249.4,610.3 L250.2,610.5 L251.0,610.7 L251.8,610.9 L252.6,611.1 L253.4,611.4 L254.2,611.7 L255.0,611.9 L255.8,612.3 L256.6,612.6 L257.4,612.9 L258.2,613.2 L259.0,613.6 L259.8,613.9 L260.6,614.2 L261.4,614.6 L262.2,614.9 L263.0,615.2 L263.8,615.6 L264.6,615.9 L265.4,616.2 L266.2,616.5 L267.0,616.8 L267.8,617.0 L268.6,617.3 L269.4,617.5 L270.2,617.8 L271.0,618.0 L271.8,618.2 L272.6,618.3 L273.4,618.5 L274.2,618.6 L275.0,618.7 L275.8,618.8 L276.6,618.9 L277.4,619.0 L278.2,619.0 L279.0,619.1 L279.8,619.1 L280.6,619.1 L281.4,619.2 L282.2,619.2 L283.0,619.2 L283.8,619.2 L284.6,619.2 L285.4,619.2 L286.2,619.2 L287.0,619.2" stroke="#4338b5"/>
<path d="M42.0,617.4 L42.8,617.1 L43.6,616.7 L44.4,616.3 L45.2,615.9 L46.0,615.4 L46.8,614.8 L47.6,614.2 L48.4,613.5 L49.2,612.8 L50.0,612.0 L50.8,611.2 L51.6,610.3 L52.4,609.3 L53.2,608.4 L54.0,607.4 L54.8,606.4 L55.6,605.3 L56.4,604.3 L57.2,603.1 L58.0,602.0 L58.8,600.8 L59.6,599.6 L60.4,598.4 L61.2,597.2 L62.0,596.0 L62.8,594.8 L63.6,593.7 L64.4,592.7 L65.2,591.6 L66.0,590.6 L66.8,589.6 L67.6,588.7 L68.4,587.8 L69.2,586.9 L70.0,586.0 L70.8,585.2 L71.6,584.3 L72.4,583.5 L73.2,582.8 L74.0,582.0 L74.8,581.3 L75.6,580.5 L76.4,579.8 L77.2,579.2 L78.0,578.6 L78.8,578.1 L79.6,577.6 L80.4,577.2 L81.2,576.8 L82.0,576.4 L82.8,576.1 L83.6,575.8 L84.4,575.5 L85.2,575.2 L86.0,575.0 L86.8,574.8 L87.6,574.7 L88.4,574.5 L89.2,574.4 L90.0,574.3 L90.8,574.3 L91.6,574.2 L92.4,574.2 L93.2,574.2 L94.0,574.2 L94.8,574.2 L95.6,574.2 L96.4,574.3 L97.2,574.3 L98.0,574.4 L98.8,574.5 L99.6,574.6 L100.4,574.8 L101.2,574.9 L102.0,575.1 L102.8,575.3 L103.6,575.5 L104.4,575.7 L105.2,576.0 L106.0,576.2 L106.8,576.5 L107.6,576.8 L108.4,577.0 L109.2,577.3 L110.0,577.6 L110.8,577.9 L111.6,578.1 L112.4,578.4 L113.2,578.6 L114.0,578.8 L114.8,579.1 L115.6,579.3 L116.4,579.5 L117.2,579.7 L118.0,579.9 L118.8,580.1 L119.6,580.3 L120.4,580.5 L121.2,580.6 L122.0,580.8 L122.8,581.0 L123.6,581.2 L124.4,581.3 L125.2,581.5 L126.0,581.7 L126.8,581.8 L127.6,582.0 L128.4,582.1 L129.2,582.3 L130.0,582.4 L130.8,582.5 L131.6,582.6 L132.4,582.8 L133.2,582.9 L134.0,583.0 L134.8,583.1 L135.6,583.2 L136.4,583.3 L137.2,583.5 L138.0,583.6 L138.8,583.7 L139.6,583.9 L140.4,584.1 L141.2,584.2 L142.0,584.4 L142.8,584.5 L143.6,584.7 L144.4,584.8 L145.2,584.9 L146.0,585.0 L146.8,585.1 L147.6,585.1 L148.4,585.2 L149.2,585.3 L150.0,585.4 L150.8,585.6 L151.6,585.7 L152.4,586.0 L153.2,586.2 L154.0,586.5 L154.8,586.8 L155.6,587.1 L156.4,587.4 L157.2,587.7 L158.0,588.0 L158.8,588.3 L159.6,588.6 L160.4,588.8 L161.2,589.1 L162.0,589.3 L162.8,589.6 L163.6,589.8 L164.4,590.1 L165.2,590.3 L166.0,590.6 L166.8,590.9 L167.6,591.1 L168.4,591.4 L169.2,591.7 L170.0,591.9 L170.8,592.2 L171.6,592.5 L172.4,592.8 L173.2,593.1 L174.0,593.3 L174.8,593.6 L175.6,593.9 L176.4,594.2 L177.2,594.5 L178.0,594.8 L178.8,595.1 L179.6,595.4 L180.4,595.7 L181.2,596.0 L182.0,596.4 L182.8,596.7 L183.6,597.0 L184.4,597.3 L185.2,597.7 L186.0,598.0 L186.8,598.3 L187.6,598.7 L188.4,599.1 L189.2,599.4 L190.0,599.8 L190.8,600.1 L191.6,600.5 L192.4,600.9 L193.2,601.2 L194.0,601.6 L194.8,602.0 L195.6,602.3 L196.4,602.7 L197.2,603.0 L198.0,603.3 L198.8,603.7 L199.6,604.0 L200.4,604.3 L201.2,604.7 L202.0,605.0 L202.8,605.3 L203.6,605.6 L204.4,606.0 L205.2,606.3 L206.0,606.6 L206.8,606.9 L207.6,607.2 L208.4,607.5 L209.2,607.7 L210.0,608.0 L210.8,608.3 L211.6,608.5 L212.4,608.7 L213.2,609.0 L214.0,609.2 L214.8,609.4 L215.6,609.6 L216.4,609.8 L217.2,610.0 L218.0,610.2 L218.8,610.4 L219.6,610.6 L220.4,610.8 L221.2,611.0 L222.0,611.1 L222.8,611.3 L223.6,611.5 L224.4,611.7 L225.2,611.9 L226.0,612.1 L226.8,612.2 L227.6,612.4 L228.4,612.6 L229.2,612.8 L230.0,613.0 L230.8,613.3 L231.6,613.5 L232.4,613.8 L233.2,614.1 L234.0,614.3 L234.8,614.6 L235.6,614.9 L236.4,615.2 L237.2,615.5 L238.0,615.8 L238.8,616.1 L239.6,616.3 L240.4,616.6 L241.2,616.9 L242.0,617.1 L242.8,617.3 L243.6,617.5 L244.4,617.7 L245.2,617.9 L246.0,618.0 L246.8,618.2 L247.6,618.3 L248.4,618.4 L249.2,618.5 L250.0,618.6 L250.8,618.7 L251.6,618.8 L252.4,618.8 L253.2,618.9 L254.0,619.0 L254.8,619.0 L255.6,619.1 L256.4,619.1 L257.2,619.2 L258.0,619.2 L258.8,619.2 L259.6,619.2 L260.4,619.3 L261.2,619.3 L262.0,619.3 L262.8,619.3 L263.6,619.3 L264.4,619.3 L265.2,619.3 L266.0,619.3 L266.8,619.3 L267.6,619.2 L268.4,619.2 L269.2,619.2 L270.0,619.2" stroke="#d6336c"/>
<path d="M42.0,618.6 L42.8,618.4 L43.6,618.2 L44.4,618.0 L45.2,617.7 L46.0,617.4 L46.8,617.0 L47.6,616.6 L48.4,616.1 L49.2,615.6 L50.0,615.0 L50.8,614.4 L51.6,613.7 L52.4,613.0 L53.2,612.2 L54.0,611.4 L54.8,610.6 L55.6,609.7 L56.4,608.8 L57.2,607.9 L58.0,607.0 L58.8,606.0 L59.6,605.1 L60.4,604.1 L61.2,603.0 L62.0,602.0 L62.8,601.0 L63.6,599.9 L64.4,598.8 L65.2,597.7 L66.0,596.6 L66.8,595.4 L67.6,594.3 L68.4,593.0 L69.2,591.8 L70.0,590.6 L70.8,589.4 L71.6,588.2 L72.4,587.0 L73.2,585.8 L74.0,584.6 L74.8,583.4 L75.6,582.3 L76.4,581.2 L77.2,580.1 L78.0,579.0 L78.8,577.9 L79.6,576.9 L80.4,575.9 L81.2,574.9 L82.0,574.0 L82.8,573.1 L83.6,572.4 L84.4,571.6 L85.2,571.0 L86.0,570.4 L86.8,569.9 L87.6,569.4 L88.4,569.0 L89.2,568.7 L90.0,568.4 L90.8,568.1 L91.6,567.9 L92.4,567.7 L93.2,567.5 L94.0,567.4 L94.8,567.3 L95.6,567.3 L96.4,567.3 L97.2,567.3 L98.0,567.4 L98.8,567.5 L99.6,567.6 L100.4,567.8 L101.2,568.0 L102.0,568.2 L102.8,568.4 L103.6,568.7 L104.4,569.0 L105.2,569.3 L106.0,569.7 L106.8,570.0 L107.6,570.4 L108.4,570.8 L109.2,571.2 L110.0,571.7 L110.8,572.1 L111.6,572.6 L112.4,573.1 L113.2,573.5 L114.0,574.0 L114.8,574.5 L115.6,574.9 L116.4,575.4 L117.2,575.8 L118.0,576.3 L118.8,576.7 L119.6,577.2 L120.4,577.6 L121.2,578.1 L122.0,578.6 L122.8,579.0 L123.6,579.4 L124.4,579.8 L125.2,580.2 L126.0,580.5 L126.8,580.8 L127.6,581.2 L128.4,581.5 L129.2,581.7 L130.0,582.0 L130.8,582.3 L131.6,582.5 L132.4,582.7 L133.2,583.0 L134.0,583.2 L134.8,583.4 L135.6,583.6 L136.4,583.7 L137.2,583.9 L138.0,584.0 L138.8,584.1 L139.6,584.2 L140.4,584.3 L141.2,584.3 L142.0,584.4 L142.8,584.4 L143.6,584.4 L144.4,584.4 L145.2,584.4 L146.0,584.4 L146.8,584.4 L147.6,584.4 L148.4,584.3 L149.2,584.4 L150.0,584.4 L150.8,584.5 L151.6,584.6 L152.4,584.7 L153.2,584.9 L154.0,585.1 L154.8,585.3 L155.6,585.6 L156.4,585.8 L157.2,586.1 L158.0,586.4 L158.8,586.7 L159.6,587.0 L160.4,587.3 L161.2,587.6 L162.0,587.9 L162.8,588.2 L163.6,588.5 L164.4,588.8 L165.2,589.1 L166.0,589.4 L166.8,589.7 L167.6,590.0 L168.4,590.3 L169.2,590.7 L170.0,591.0 L170.8,591.3 L171.6,591.6 L172.4,591.9 L173.2,592.3 L174.0,592.6 L174.8,592.9 L175.6,593.2 L176.4,593.6 L177.2,593.9 L178.0,594.3 L178.8,594.6 L179.6,594.9 L180.4,595.3 L181.2,595.7 L182.0,596.0 L182.8,596.4 L183.6,596.8 L184.4,597.2 L185.2,597.6 L186.0,598.0 L186.8,598.4 L187.6,598.9 L188.4,599.3 L189.2,599.8 L190.0,600.2 L190.8,600.7 L191.6,601.1 L192.4,601.6 L193.2,602.0 L194.0,602.4 L194.8,602.8 L195.6,603.2 L196.4,603.6 L197.2,603.9 L198.0,604.3 L198.8,604.6 L199.6,605.0 L200.4,605.3 L201.2,605.7 L202.0,606.0 L202.8,606.3 L203.6,606.7 L204.4,607.0 L205.2,607.4 L206.0,607.7 L206.8,608.1 L207.6,608.4 L208.4,608.7 L209.2,609.1 L210.0,609.4 L210.8,609.7 L211.6,610.0 L212.4,610.4 L213.2,610.7 L214.0,611.0 L214.8,611.3 L215.6,611.5 L216.4,611.8 L217.2,612.1 L218.0,612.4 L218.8,612.7 L219.6,612.9 L220.4,613.2 L221.2,613.5 L222.0,613.7 L222.8,614.0 L223.6,614.3 L224.4,614.5 L225.2,614.8 L226.0,615.0 L226.8,615.3 L227.6,615.5 L228.4,615.8 L229.2,616.0 L230.0,616.3 L230.8,616.5 L231.6,616.7 L232.4,616.9 L233.2,617.1 L234.0,617.3 L234.8,617.5 L235.6,617.7 L236.4,617.9 L237.2,618.1 L238.0,618.2 L238.8,618.3 L239.6,618.4 L240.4,618.6 L241.2,618.6 L242.0,618.7 L242.8,618.8 L243.6,618.9 L244.4,618.9 L245.2,619.0 L246.0,619.0 L246.8,619.0 L247.6,619.1 L248.4,619.1 L249.2,619.1 L250.0,619.1 L250.8,619.2 L251.6,619.2 L252.4,619.2 L253.2,619.2 L254.0,619.2 L254.8,619.2 L255.6,619.2 L256.4,619.2 L257.2,619.2 L258.0,619.2 L258.8,619.2 L259.6,619.2 L260.4,619.2 L261.2,619.2 L262.0,619.2 L262.8,619.2 L263.6,619.2 L264.4,619.2 L265.2,619.2 L266.0,619.2" stroke="#f07f2e"/>
</g>
<line x1="41.80" y1="619.40" x2="339.30" y2="619.40" stroke="#b0b0b0" stroke-width="0.8"/>
<text x="68.80" y="630.50" font-size="9.40" fill="#626262" text-anchor="middle">2</text>
<text x="122.95" y="630.50" font-size="9.40" fill="#626262" text-anchor="middle">4</text>
<text x="177.10" y="630.50" font-size="9.40" fill="#626262" text-anchor="middle">6</text>
<text x="231.25" y="630.50" font-size="9.40" fill="#626262" text-anchor="middle">8</text>
<text x="285.40" y="630.50" font-size="9.40" fill="#626262" text-anchor="middle">10</text>
<text x="339.55" y="630.50" font-size="9.40" fill="#626262" text-anchor="middle">12</text>
<text x="38.00" y="584.30" font-size="9.40" fill="#626262" text-anchor="end">0.2</text>
<text x="38.00" y="623.30" font-size="9.40" fill="#626262" text-anchor="end">0.0</text>
<text x="190.55" y="643.20" font-size="9.40" fill="#626262" text-anchor="middle">LAI</text>
<clipPath id="c11"><rect x="378.50" y="550.80" width="297.50" height="68.80"/></clipPath>
<clipPath id="h11"><rect x="378.00" y="550.80" width="298.00" height="68.80"/></clipPath>
<g clip-path="url(#c11)">
<line x1="378.50" y1="550.80" x2="378.50" y2="619.40" stroke="#2a2a2a" stroke-width="0.75"/>
<line x1="415.66" y1="550.80" x2="415.66" y2="619.40" stroke="#2a2a2a" stroke-width="0.75"/>
<line x1="452.82" y1="550.80" x2="452.82" y2="619.40" stroke="#2a2a2a" stroke-width="0.75"/>
<line x1="489.99" y1="550.80" x2="489.99" y2="619.40" stroke="#2a2a2a" stroke-width="0.75"/>
<line x1="527.15" y1="550.80" x2="527.15" y2="619.40" stroke="#2a2a2a" stroke-width="0.75"/>
<line x1="564.31" y1="550.80" x2="564.31" y2="619.40" stroke="#2a2a2a" stroke-width="0.75"/>
<line x1="601.47" y1="550.80" x2="601.47" y2="619.40" stroke="#2a2a2a" stroke-width="0.75"/>
<line x1="638.64" y1="550.80" x2="638.64" y2="619.40" stroke="#2a2a2a" stroke-width="0.75"/>
<line x1="675.80" y1="550.80" x2="675.80" y2="619.40" stroke="#2a2a2a" stroke-width="0.75"/>
</g>
<g clip-path="url(#h11)">
<line x1="377.50" y1="559.70" x2="676.80" y2="559.70" stroke="#2a2a2a" stroke-width="0.75"/>
<line x1="377.50" y1="589.50" x2="676.80" y2="589.50" stroke="#2a2a2a" stroke-width="0.75"/>
</g>
<g clip-path="url(#c11)" fill="none" stroke-width="1.4" stroke-linejoin="round" stroke-linecap="butt">
<path d="M378.4,617.4 L379.2,617.1 L380.0,616.8 L380.8,616.5 L381.6,616.2 L382.4,615.8 L383.2,615.4 L384.0,615.0 L384.8,614.5 L385.6,614.0 L386.4,613.5 L387.2,612.9 L388.0,612.3 L388.8,611.6 L389.6,610.9 L390.4,610.3 L391.2,609.5 L392.0,608.8 L392.8,608.0 L393.6,607.2 L394.4,606.4 L395.2,605.5 L396.0,604.6 L396.8,603.6 L397.6,602.6 L398.4,601.6 L399.2,600.5 L400.0,599.4 L400.8,598.3 L401.6,597.2 L402.4,596.0 L403.2,595.0 L404.0,593.9 L404.8,592.8 L405.6,591.8 L406.4,590.8 L407.2,589.9 L408.0,589.0 L408.8,588.2 L409.6,587.4 L410.4,586.6 L411.2,585.9 L412.0,585.2 L412.8,584.5 L413.6,583.9 L414.4,583.3 L415.2,582.7 L416.0,582.1 L416.8,581.6 L417.6,581.0 L418.4,580.5 L419.2,580.1 L420.0,579.6 L420.8,579.2 L421.6,578.8 L422.4,578.4 L423.2,578.1 L424.0,577.7 L424.8,577.4 L425.6,577.1 L426.4,576.9 L427.2,576.6 L428.0,576.4 L428.8,576.1 L429.6,575.9 L430.4,575.7 L431.2,575.6 L432.0,575.4 L432.8,575.3 L433.6,575.1 L434.4,575.0 L435.2,574.9 L436.0,574.7 L436.8,574.6 L437.6,574.5 L438.4,574.3 L439.2,574.2 L440.0,574.0 L440.8,573.8 L441.6,573.6 L442.4,573.4 L443.2,573.2 L444.0,572.9 L444.8,572.7 L445.6,572.5 L446.4,572.3 L447.2,572.1 L448.0,572.0 L448.8,571.8 L449.6,571.7 L450.4,571.6 L451.2,571.5 L452.0,571.4 L452.8,571.4 L453.6,571.3 L454.4,571.3 L455.2,571.3 L456.0,571.3 L456.8,571.3 L457.6,571.3 L458.4,571.3 L459.2,571.4 L460.0,571.4 L460.8,571.5 L461.6,571.5 L462.4,571.6 L463.2,571.7 L464.0,571.7 L464.8,571.8 L465.6,571.9 L466.4,572.0 L467.2,572.1 L468.0,572.2 L468.8,572.3 L469.6,572.4 L470.4,572.5 L471.2,572.6 L472.0,572.6 L472.8,572.7 L473.6,572.8 L474.4,572.9 L475.2,572.9 L476.0,573.0 L476.8,573.1 L477.6,573.1 L478.4,573.1 L479.2,573.2 L480.0,573.2 L480.8,573.2 L481.6,573.2 L482.4,573.2 L483.2,573.2 L484.0,573.2 L484.8,573.2 L485.6,573.1 L486.4,573.1 L487.2,573.0 L488.0,573.0 L488.8,572.9 L489.6,572.8 L490.4,572.7 L491.2,572.5 L492.0,572.4 L492.8,572.2 L493.6,572.1 L494.4,571.9 L495.2,571.7 L496.0,571.5 L496.8,571.3 L497.6,571.1 L498.4,571.0 L499.2,570.8 L500.0,570.6 L500.8,570.4 L501.6,570.3 L502.4,570.2 L503.2,570.0 L504.0,569.9 L504.8,569.8 L505.6,569.7 L506.4,569.6 L507.2,569.5 L508.0,569.4 L508.8,569.3 L509.6,569.2 L510.4,569.1 L511.2,569.0 L512.0,569.0 L512.8,568.9 L513.6,568.8 L514.4,568.7 L515.2,568.7 L516.0,568.6 L516.8,568.5 L517.6,568.5 L518.4,568.4 L519.2,568.4 L520.0,568.4 L520.8,568.3 L521.6,568.3 L522.4,568.3 L523.2,568.2 L524.0,568.2 L524.8,568.2 L525.6,568.2 L526.4,568.2 L527.2,568.2 L528.0,568.2 L528.8,568.2 L529.6,568.2 L530.4,568.2 L531.2,568.2 L532.0,568.3 L532.8,568.3 L533.6,568.3 L534.4,568.3 L535.2,568.3 L536.0,568.3 L536.8,568.4 L537.6,568.4 L538.4,568.4 L539.2,568.4 L540.0,568.4 L540.8,568.4 L541.6,568.4 L542.4,568.4 L543.2,568.4 L544.0,568.4 L544.8,568.4 L545.6,568.4 L546.4,568.4 L547.2,568.4 L548.0,568.4 L548.8,568.4 L549.6,568.4 L550.4,568.4 L551.2,568.4 L552.0,568.4 L552.8,568.4 L553.6,568.4 L554.4,568.4 L555.2,568.4 L556.0,568.4 L556.8,568.4 L557.6,568.4 L558.4,568.4 L559.2,568.4 L560.0,568.4 L560.8,568.4 L561.6,568.4 L562.4,568.4 L563.2,568.4 L564.0,568.4 L564.8,568.4 L565.6,568.4 L566.4,568.5 L567.2,568.5 L568.0,568.5 L568.8,568.6 L569.6,568.6 L570.4,568.7 L571.2,568.7 L572.0,568.8 L572.8,568.9 L573.6,568.9 L574.4,569.0 L575.2,569.1 L576.0,569.2 L576.8,569.2 L577.6,569.3 L578.4,569.4 L579.2,569.5 L580.0,569.6 L580.8,569.7 L581.6,569.8 L582.4,569.9 L583.2,570.0 L584.0,570.1 L584.8,570.3 L585.6,570.4 L586.4,570.5 L587.2,570.7 L588.0,570.8 L588.8,570.9 L589.6,571.1 L590.4,571.3 L591.2,571.4 L592.0,571.6 L592.8,571.7 L593.6,571.9 L594.4,572.1 L595.2,572.2 L596.0,572.4 L596.8,572.6 L597.6,572.7 L598.4,572.9 L599.2,573.1 L600.0,573.2 L600.8,573.4 L601.6,573.7 L602.4,573.9 L603.2,574.1 L604.0,574.4 L604.8,574.7 L605.6,575.0 L606.4,575.3 L607.2,575.7 L608.0,576.0 L608.8,576.4 L609.6,576.7 L610.4,577.1 L611.2,577.5 L612.0,577.9 L612.8,578.3 L613.6,578.8 L614.4,579.2 L615.2,579.7 L616.0,580.2 L616.8,580.8 L617.6,581.3 L618.4,581.8 L619.2,582.4 L620.0,583.0 L620.8,583.6 L621.6,584.2 L622.4,584.8 L623.2,585.5 L624.0,586.2 L624.8,586.9 L625.6,587.6 L626.4,588.4 L627.2,589.2 L628.0,590.1 L628.8,591.0 L629.6,591.8 L630.4,592.8 L631.2,593.7 L632.0,594.6 L632.8,595.5 L633.6,596.4 L634.4,597.3 L635.2,598.2 L636.0,599.1 L636.8,600.0 L637.6,600.9 L638.4,601.8 L639.2,602.7 L640.0,603.5 L640.8,604.4 L641.6,605.2 L642.4,606.0 L643.2,606.8 L644.0,607.6 L644.8,608.3 L645.6,609.0 L646.4,609.7 L647.2,610.4 L648.0,611.0 L648.8,611.6 L649.6,612.1 L650.4,612.7 L651.2,613.2 L652.0,613.7 L652.8,614.1 L653.6,614.6 L654.4,615.0 L655.2,615.4 L656.0,615.8 L656.8,616.2 L657.6,616.5 L658.4,616.8 L659.2,617.1 L660.0,617.4 L660.8,617.7 L661.6,617.9 L662.4,618.1 L663.2,618.3 L664.0,618.5 L664.8,618.6 L665.6,618.7 L666.4,618.8 L667.2,618.9 L668.0,619.0 L668.8,619.1 L669.6,619.1 L670.4,619.1 L671.2,619.2 L672.0,619.2 L672.8,619.2 L673.6,619.2 L674.4,619.2 L675.2,619.2 L676.0,619.2" stroke="#4338b5"/>
<path d="M378.4,619.2 L379.2,619.2 L380.0,619.2 L380.8,619.2 L381.6,619.2 L382.4,619.2 L383.2,619.2 L384.0,619.2 L384.8,619.2 L385.6,619.2 L386.4,619.2 L387.2,619.2 L388.0,619.1 L388.8,619.1 L389.6,619.1 L390.4,619.1 L391.2,619.1 L392.0,619.1 L392.8,619.0 L393.6,619.0 L394.4,619.0 L395.2,619.0 L396.0,618.9 L396.8,618.9 L397.6,618.8 L398.4,618.8 L399.2,618.7 L400.0,618.6 L400.8,618.5 L401.6,618.4 L402.4,618.3 L403.2,618.2 L404.0,618.0 L404.8,617.8 L405.6,617.6 L406.4,617.4 L407.2,617.2 L408.0,617.0 L408.8,616.7 L409.6,616.4 L410.4,616.2 L411.2,615.9 L412.0,615.6 L412.8,615.3 L413.6,615.0 L414.4,614.7 L415.2,614.4 L416.0,614.0 L416.8,613.7 L417.6,613.3 L418.4,612.9 L419.2,612.5 L420.0,612.0 L420.8,611.5 L421.6,611.0 L422.4,610.4 L423.2,609.8 L424.0,609.2 L424.8,608.6 L425.6,608.0 L426.4,607.3 L427.2,606.7 L428.0,606.0 L428.8,605.3 L429.6,604.7 L430.4,604.0 L431.2,603.3 L432.0,602.6 L432.8,601.9 L433.6,601.2 L434.4,600.5 L435.2,599.7 L436.0,599.0 L436.8,598.2 L437.6,597.5 L438.4,596.7 L439.2,595.9 L440.0,595.0 L440.8,594.1 L441.6,593.2 L442.4,592.2 L443.2,591.3 L444.0,590.3 L444.8,589.4 L445.6,588.5 L446.4,587.6 L447.2,586.7 L448.0,585.8 L448.8,585.0 L449.6,584.2 L450.4,583.3 L451.2,582.5 L452.0,581.7 L452.8,580.8 L453.6,579.9 L454.4,579.0 L455.2,578.1 L456.0,577.2 L456.8,576.3 L457.6,575.4 L458.4,574.6 L459.2,573.8 L460.0,573.1 L460.8,572.4 L461.6,571.8 L462.4,571.2 L463.2,570.6 L464.0,570.0 L464.8,569.5 L465.6,568.9 L466.4,568.4 L467.2,568.0 L468.0,567.5 L468.8,567.1 L469.6,566.8 L470.4,566.4 L471.2,566.1 L472.0,565.9 L472.8,565.6 L473.6,565.4 L474.4,565.3 L475.2,565.1 L476.0,565.0 L476.8,564.9 L477.6,564.8 L478.4,564.8 L479.2,564.7 L480.0,564.7 L480.8,564.6 L481.6,564.6 L482.4,564.6 L483.2,564.6 L484.0,564.6 L484.8,564.6 L485.6,564.6 L486.4,564.6 L487.2,564.6 L488.0,564.6 L488.8,564.5 L489.6,564.5 L490.4,564.5 L491.2,564.4 L492.0,564.4 L492.8,564.3 L493.6,564.3 L494.4,564.2 L495.2,564.1 L496.0,564.1 L496.8,564.0 L497.6,563.9 L498.4,563.8 L499.2,563.7 L500.0,563.6 L500.8,563.5 L501.6,563.4 L502.4,563.3 L503.2,563.2 L504.0,563.1 L504.8,563.0 L505.6,562.9 L506.4,562.8 L507.2,562.7 L508.0,562.6 L508.8,562.5 L509.6,562.4 L510.4,562.3 L511.2,562.2 L512.0,562.2 L512.8,562.1 L513.6,562.0 L514.4,561.9 L515.2,561.9 L516.0,561.8 L516.8,561.7 L517.6,561.7 L518.4,561.6 L519.2,561.6 L520.0,561.5 L520.8,561.5 L521.6,561.5 L522.4,561.4 L523.2,561.4 L524.0,561.4 L524.8,561.4 L525.6,561.4 L526.4,561.4 L527.2,561.4 L528.0,561.4 L528.8,561.4 L529.6,561.4 L530.4,561.4 L531.2,561.4 L532.0,561.4 L532.8,561.4 L533.6,561.3 L534.4,561.2 L535.2,561.2 L536.0,561.1 L536.8,561.0 L537.6,560.9 L538.4,560.8 L539.2,560.7 L540.0,560.6 L540.8,560.5 L541.6,560.4 L542.4,560.3 L543.2,560.3 L544.0,560.2 L544.8,560.1 L545.6,560.0 L546.4,560.0 L547.2,559.9 L548.0,559.8 L548.8,559.7 L549.6,559.6 L550.4,559.6 L551.2,559.5 L552.0,559.4 L552.8,559.3 L553.6,559.2 L554.4,559.2 L555.2,559.1 L556.0,559.0 L556.8,558.9 L557.6,558.9 L558.4,558.8 L559.2,558.7 L560.0,558.7 L560.8,558.6 L561.6,558.6 L562.4,558.6 L563.2,558.6 L564.0,558.6 L564.8,558.6 L565.6,558.6 L566.4,558.7 L567.2,558.8 L568.0,558.8 L568.8,558.9 L569.6,559.0 L570.4,559.0 L571.2,559.1 L572.0,559.2 L572.8,559.3 L573.6,559.3 L574.4,559.4 L575.2,559.4 L576.0,559.5 L576.8,559.5 L577.6,559.6 L578.4,559.6 L579.2,559.6 L580.0,559.6 L580.8,559.6 L581.6,559.6 L582.4,559.6 L583.2,559.5 L584.0,559.5 L584.8,559.4 L585.6,559.4 L586.4,559.3 L587.2,559.3 L588.0,559.2 L588.8,559.1 L589.6,559.0 L590.4,559.0 L591.2,558.9 L592.0,558.8 L592.8,558.7 L593.6,558.6 L594.4,558.5 L595.2,558.5 L596.0,558.4 L596.8,558.3 L597.6,558.3 L598.4,558.2 L599.2,558.2 L600.0,558.2 L600.8,558.2 L601.6,558.2 L602.4,558.2 L603.2,558.3 L604.0,558.4 L604.8,558.5 L605.6,558.6 L606.4,558.8 L607.2,559.1 L608.0,559.3 L608.8,559.7 L609.6,560.0 L610.4,560.4 L611.2,560.9 L612.0,561.4 L612.8,561.9 L613.6,562.5 L614.4,563.2 L615.2,563.9 L616.0,564.6 L616.8,565.4 L617.6,566.2 L618.4,567.1 L619.2,568.0 L620.0,569.0 L620.8,570.0 L621.6,571.1 L622.4,572.1 L623.2,573.2 L624.0,574.4 L624.8,575.5 L625.6,576.8 L626.4,578.0 L627.2,579.3 L628.0,580.7 L628.8,582.1 L629.6,583.5 L630.4,585.0 L631.2,586.5 L632.0,588.0 L632.8,589.5 L633.6,591.0 L634.4,592.5 L635.2,594.0 L636.0,595.4 L636.8,596.8 L637.6,598.2 L638.4,599.5 L639.2,600.8 L640.0,602.0 L640.8,603.1 L641.6,604.2 L642.4,605.1 L643.2,606.1 L644.0,606.9 L644.8,607.8 L645.6,608.6 L646.4,609.4 L647.2,610.2 L648.0,610.9 L648.8,611.6 L649.6,612.3 L650.4,612.9 L651.2,613.4 L652.0,614.0 L652.8,614.4 L653.6,614.8 L654.4,615.3 L655.2,615.6 L656.0,616.0 L656.8,616.4 L657.6,616.7 L658.4,617.0 L659.2,617.3 L660.0,617.6 L660.8,617.9 L661.6,618.1 L662.4,618.3 L663.2,618.5 L664.0,618.6 L664.8,618.7 L665.6,618.8 L666.4,618.9 L667.2,618.9 L668.0,619.0 L668.8,619.0 L669.6,619.1 L670.4,619.1 L671.2,619.1 L672.0,619.1 L672.8,619.2 L673.6,619.2 L674.4,619.2 L675.2,619.2 L676.0,619.2" stroke="#d6336c"/>
<path d="M378.4,619.2 L379.2,619.2 L380.0,619.2 L380.8,619.2 L381.6,619.2 L382.4,619.2 L383.2,619.2 L384.0,619.2 L384.8,619.2 L385.6,619.2 L386.4,619.2 L387.2,619.2 L388.0,619.1 L388.8,619.1 L389.6,619.1 L390.4,619.1 L391.2,619.0 L392.0,619.0 L392.8,619.0 L393.6,618.9 L394.4,618.9 L395.2,618.8 L396.0,618.7 L396.8,618.6 L397.6,618.5 L398.4,618.4 L399.2,618.3 L400.0,618.2 L400.8,618.0 L401.6,617.9 L402.4,617.7 L403.2,617.5 L404.0,617.3 L404.8,617.1 L405.6,616.9 L406.4,616.6 L407.2,616.4 L408.0,616.1 L408.8,615.8 L409.6,615.5 L410.4,615.3 L411.2,615.0 L412.0,614.6 L412.8,614.3 L413.6,614.0 L414.4,613.6 L415.2,613.2 L416.0,612.8 L416.8,612.3 L417.6,611.8 L418.4,611.3 L419.2,610.8 L420.0,610.2 L420.8,609.6 L421.6,608.9 L422.4,608.3 L423.2,607.6 L424.0,606.9 L424.8,606.1 L425.6,605.4 L426.4,604.6 L427.2,603.8 L428.0,603.0 L428.8,602.2 L429.6,601.3 L430.4,600.4 L431.2,599.5 L432.0,598.5 L432.8,597.5 L433.6,596.5 L434.4,595.5 L435.2,594.4 L436.0,593.3 L436.8,592.2 L437.6,591.1 L438.4,590.0 L439.2,589.0 L440.0,588.0 L440.8,587.1 L441.6,586.2 L442.4,585.4 L443.2,584.7 L444.0,583.9 L444.8,583.2 L445.6,582.4 L446.4,581.6 L447.2,580.8 L448.0,579.9 L448.8,579.1 L449.6,578.2 L450.4,577.4 L451.2,576.5 L452.0,575.6 L452.8,574.8 L453.6,574.0 L454.4,573.2 L455.2,572.4 L456.0,571.7 L456.8,571.0 L457.6,570.3 L458.4,569.7 L459.2,569.1 L460.0,568.6 L460.8,568.2 L461.6,567.7 L462.4,567.3 L463.2,567.0 L464.0,566.6 L464.8,566.3 L465.6,565.9 L466.4,565.6 L467.2,565.4 L468.0,565.1 L468.8,564.9 L469.6,564.7 L470.4,564.5 L471.2,564.4 L472.0,564.3 L472.8,564.2 L473.6,564.1 L474.4,564.0 L475.2,564.0 L476.0,564.0 L476.8,564.0 L477.6,564.0 L478.4,564.0 L479.2,564.1 L480.0,564.1 L480.8,564.2 L481.6,564.2 L482.4,564.3 L483.2,564.3 L484.0,564.4 L484.8,564.4 L485.6,564.5 L486.4,564.5 L487.2,564.6 L488.0,564.6 L488.8,564.6 L489.6,564.6 L490.4,564.6 L491.2,564.6 L492.0,564.6 L492.8,564.6 L493.6,564.6 L494.4,564.5 L495.2,564.5 L496.0,564.4 L496.8,564.4 L497.6,564.3 L498.4,564.2 L499.2,564.1 L500.0,564.0 L500.8,563.9 L501.6,563.8 L502.4,563.6 L503.2,563.5 L504.0,563.3 L504.8,563.2 L505.6,563.0 L506.4,562.9 L507.2,562.7 L508.0,562.6 L508.8,562.5 L509.6,562.3 L510.4,562.2 L511.2,562.1 L512.0,561.9 L512.8,561.8 L513.6,561.7 L514.4,561.6 L515.2,561.5 L516.0,561.4 L516.8,561.3 L517.6,561.2 L518.4,561.1 L519.2,561.0 L520.0,561.0 L520.8,560.9 L521.6,560.8 L522.4,560.7 L523.2,560.7 L524.0,560.6 L524.8,560.5 L525.6,560.5 L526.4,560.4 L527.2,560.3 L528.0,560.3 L528.8,560.2 L529.6,560.2 L530.4,560.2 L531.2,560.2 L532.0,560.2 L532.8,560.3 L533.6,560.3 L534.4,560.4 L535.2,560.5 L536.0,560.6 L536.8,560.7 L537.6,560.9 L538.4,561.1 L539.2,561.3 L540.0,561.5 L540.8,561.7 L541.6,561.9 L542.4,562.1 L543.2,562.3 L544.0,562.5 L544.8,562.7 L545.6,562.9 L546.4,563.1 L547.2,563.2 L548.0,563.4 L548.8,563.5 L549.6,563.7 L550.4,563.8 L551.2,563.9 L552.0,564.0 L552.8,564.1 L553.6,564.2 L554.4,564.2 L555.2,564.3 L556.0,564.4 L556.8,564.5 L557.6,564.6 L558.4,564.7 L559.2,564.8 L560.0,564.8 L560.8,564.8 L561.6,564.8 L562.4,564.8 L563.2,564.8 L564.0,564.8 L564.8,564.7 L565.6,564.6 L566.4,564.6 L567.2,564.5 L568.0,564.4 L568.8,564.3 L569.6,564.2 L570.4,564.1 L571.2,564.0 L572.0,563.9 L572.8,563.8 L573.6,563.7 L574.4,563.6 L575.2,563.5 L576.0,563.4 L576.8,563.3 L577.6,563.2 L578.4,563.1 L579.2,563.1 L580.0,563.0 L580.8,563.0 L581.6,562.9 L582.4,562.9 L583.2,562.8 L584.0,562.8 L584.8,562.8 L585.6,562.8 L586.4,562.8 L587.2,562.8 L588.0,562.8 L588.8,562.8 L589.6,562.9 L590.4,562.9 L591.2,562.9 L592.0,563.0 L592.8,563.1 L593.6,563.1 L594.4,563.2 L595.2,563.3 L596.0,563.4 L596.8,563.5 L597.6,563.6 L598.4,563.8 L599.2,563.9 L600.0,564.1 L600.8,564.3 L601.6,564.5 L602.4,564.7 L603.2,564.9 L604.0,565.1 L604.8,565.4 L605.6,565.7 L606.4,566.0 L607.2,566.3 L608.0,566.6 L608.8,566.9 L609.6,567.3 L610.4,567.7 L611.2,568.1 L612.0,568.5 L612.8,568.9 L613.6,569.4 L614.4,569.8 L615.2,570.3 L616.0,570.9 L616.8,571.4 L617.6,572.0 L618.4,572.7 L619.2,573.3 L620.0,574.0 L620.8,574.7 L621.6,575.5 L622.4,576.3 L623.2,577.1 L624.0,577.9 L624.8,578.7 L625.6,579.6 L626.4,580.4 L627.2,581.3 L628.0,582.1 L628.8,583.0 L629.6,583.9 L630.4,584.8 L631.2,585.7 L632.0,586.6 L632.8,587.5 L633.6,588.5 L634.4,589.4 L635.2,590.4 L636.0,591.5 L636.8,592.5 L637.6,593.6 L638.4,594.7 L639.2,595.9 L640.0,597.1 L640.8,598.3 L641.6,599.5 L642.4,600.7 L643.2,601.9 L644.0,603.0 L644.8,604.1 L645.6,605.1 L646.4,606.1 L647.2,607.1 L648.0,608.0 L648.8,608.8 L649.6,609.6 L650.4,610.4 L651.2,611.1 L652.0,611.8 L652.8,612.4 L653.6,613.0 L654.4,613.6 L655.2,614.1 L656.0,614.6 L656.8,615.1 L657.6,615.5 L658.4,615.9 L659.2,616.3 L660.0,616.6 L660.8,617.0 L661.6,617.3 L662.4,617.5 L663.2,617.8 L664.0,618.0 L664.8,618.2 L665.6,618.4 L666.4,618.5 L667.2,618.7 L668.0,618.8 L668.8,618.9 L669.6,619.0 L670.4,619.0 L671.2,619.1 L672.0,619.1 L672.8,619.2 L673.6,619.2 L674.4,619.2 L675.2,619.2 L676.0,619.2" stroke="#f07f2e"/>
</g>
<line x1="378.50" y1="619.40" x2="675.80" y2="619.40" stroke="#b0b0b0" stroke-width="0.8"/>
<text x="378.50" y="630.50" font-size="9.40" fill="#626262" text-anchor="middle">0.1</text>
<text x="415.66" y="630.50" font-size="9.40" fill="#626262" text-anchor="middle">0.2</text>
<text x="452.82" y="630.50" font-size="9.40" fill="#626262" text-anchor="middle">0.3</text>
<text x="489.99" y="630.50" font-size="9.40" fill="#626262" text-anchor="middle">0.4</text>
<text x="527.15" y="630.50" font-size="9.40" fill="#626262" text-anchor="middle">0.5</text>
<text x="564.31" y="630.50" font-size="9.40" fill="#626262" text-anchor="middle">0.6</text>
<text x="601.47" y="630.50" font-size="9.40" fill="#626262" text-anchor="middle">0.7</text>
<text x="638.64" y="630.50" font-size="9.40" fill="#626262" text-anchor="middle">0.8</text>
<text x="675.80" y="630.50" font-size="9.40" fill="#626262" text-anchor="middle">0.9</text>
<text x="374.70" y="563.60" font-size="9.40" fill="#626262" text-anchor="end">2</text>
<text x="374.70" y="593.40" font-size="9.40" fill="#626262" text-anchor="end">1</text>
<text x="374.70" y="623.30" font-size="9.40" fill="#626262" text-anchor="end">0</text>
<text x="527.15" y="643.20" font-size="9.40" fill="#626262" text-anchor="middle">CanopyClosure</text>
<text transform="translate(10.0,323.9) rotate(-90)" font-size="13.1" fill="#626262" text-anchor="middle">Density</text>
<rect x="24.0" y="653.6" width="649" height="16.4" rx="2" fill="#e2e2e2" opacity="0.7"/>
<rect x="25.3" y="652.5" width="646.5" height="16.0" rx="1.6" fill="#fff" stroke="#d2d2d2" stroke-width="0.8"/>
<line x1="28.10" y1="659.9" x2="48.20" y2="659.9" stroke="#9bdb3b" stroke-width="1.3"/>
<text x="55.50" y="662.8" font-size="9.40" fill="#626262">Lumped 1</text>
<line x1="120.50" y1="659.9" x2="140.60" y2="659.9" stroke="#2a9d8f" stroke-width="1.3"/>
<text x="147.60" y="662.8" font-size="9.40" fill="#626262">Lumped 2</text>
<line x1="212.70" y1="659.9" x2="232.80" y2="659.9" stroke="#4338b5" stroke-width="1.3"/>
<text x="239.80" y="662.8" font-size="9.40" fill="#626262">Lumped 3</text>
<line x1="304.60" y1="659.9" x2="324.70" y2="659.9" stroke="#d6336c" stroke-width="1.3"/>
<text x="331.90" y="662.8" font-size="9.40" fill="#626262">Semi-Lumped 3 Vegetation</text>
<line x1="478.60" y1="659.9" x2="498.70" y2="659.9" stroke="#f07f2e" stroke-width="1.3"/>
<text x="505.70" y="662.8" font-size="9.40" fill="#626262">Semi-Lumped 3 Vegetation/Height</text>
</svg>
</body></html>
